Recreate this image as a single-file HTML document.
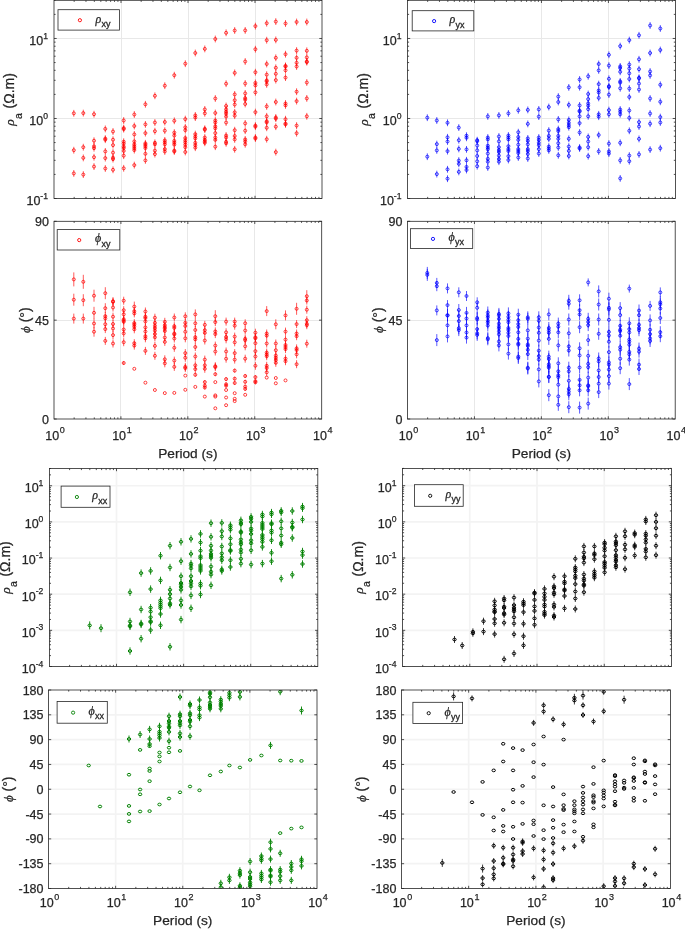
<!DOCTYPE html>
<html><head><meta charset="utf-8"><style>html,body{margin:0;padding:0;background:#fff;}svg{display:block;will-change:transform}text{font-family:"Liberation Sans",sans-serif;stroke:#262626;stroke-width:0.25px}</style></head>
<body><svg width="685" height="929" viewBox="0 0 685 929" style="font-family:Liberation Sans,sans-serif">
<defs><clipPath id="cTLr"><rect x="54" y="0.3" width="268" height="198.2"/></clipPath><clipPath id="cTLp"><rect x="54" y="221.3" width="267.7" height="197.7"/></clipPath><clipPath id="cTRr"><rect x="407.5" y="0.3" width="267.9" height="198.2"/></clipPath><clipPath id="cTRp"><rect x="407.5" y="221.3" width="267.70000000000005" height="197.7"/></clipPath><clipPath id="cBLr"><rect x="49.4" y="468.5" width="268.40000000000003" height="198.0"/></clipPath><clipPath id="cBLp"><rect x="48.5" y="690" width="268.5" height="198.5"/></clipPath><clipPath id="cBRr"><rect x="402.5" y="468.4" width="269.0" height="198.10000000000002"/></clipPath><clipPath id="cBRp"><rect x="401.4" y="690" width="269.0" height="198.5"/></clipPath></defs>
<rect width="685" height="929" fill="#fff"/>
<line x1="121.50" y1="0.30" x2="121.50" y2="198.50" stroke="#e8e8e8" stroke-width="1"/>
<line x1="188.50" y1="0.30" x2="188.50" y2="198.50" stroke="#e8e8e8" stroke-width="1"/>
<line x1="255.50" y1="0.30" x2="255.50" y2="198.50" stroke="#e8e8e8" stroke-width="1"/>
<line x1="54.00" y1="118.50" x2="322.00" y2="118.50" stroke="#e8e8e8" stroke-width="1"/>
<line x1="54.00" y1="38.50" x2="322.00" y2="38.50" stroke="#e8e8e8" stroke-width="1"/>
<line x1="120.50" y1="221.30" x2="120.50" y2="419.00" stroke="#e8e8e8" stroke-width="1"/>
<line x1="187.50" y1="221.30" x2="187.50" y2="419.00" stroke="#e8e8e8" stroke-width="1"/>
<line x1="254.50" y1="221.30" x2="254.50" y2="419.00" stroke="#e8e8e8" stroke-width="1"/>
<line x1="54.00" y1="320.50" x2="321.70" y2="320.50" stroke="#e8e8e8" stroke-width="1"/>
<line x1="474.50" y1="0.30" x2="474.50" y2="198.50" stroke="#e8e8e8" stroke-width="1"/>
<line x1="541.50" y1="0.30" x2="541.50" y2="198.50" stroke="#e8e8e8" stroke-width="1"/>
<line x1="608.50" y1="0.30" x2="608.50" y2="198.50" stroke="#e8e8e8" stroke-width="1"/>
<line x1="407.50" y1="118.50" x2="675.40" y2="118.50" stroke="#e8e8e8" stroke-width="1"/>
<line x1="407.50" y1="38.50" x2="675.40" y2="38.50" stroke="#e8e8e8" stroke-width="1"/>
<line x1="474.50" y1="221.30" x2="474.50" y2="419.00" stroke="#e8e8e8" stroke-width="1"/>
<line x1="541.50" y1="221.30" x2="541.50" y2="419.00" stroke="#e8e8e8" stroke-width="1"/>
<line x1="608.50" y1="221.30" x2="608.50" y2="419.00" stroke="#e8e8e8" stroke-width="1"/>
<line x1="407.50" y1="320.50" x2="675.20" y2="320.50" stroke="#e8e8e8" stroke-width="1"/>
<line x1="116.50" y1="468.50" x2="116.50" y2="666.50" stroke="#f3f3f3" stroke-width="1.7"/>
<line x1="183.60" y1="468.50" x2="183.60" y2="666.50" stroke="#f3f3f3" stroke-width="1.7"/>
<line x1="250.70" y1="468.50" x2="250.70" y2="666.50" stroke="#f3f3f3" stroke-width="1.7"/>
<line x1="49.40" y1="630.35" x2="317.80" y2="630.35" stroke="#f3f3f3" stroke-width="1.7"/>
<line x1="49.40" y1="594.20" x2="317.80" y2="594.20" stroke="#f3f3f3" stroke-width="1.7"/>
<line x1="49.40" y1="558.05" x2="317.80" y2="558.05" stroke="#f3f3f3" stroke-width="1.7"/>
<line x1="49.40" y1="521.90" x2="317.80" y2="521.90" stroke="#f3f3f3" stroke-width="1.7"/>
<line x1="49.40" y1="485.75" x2="317.80" y2="485.75" stroke="#f3f3f3" stroke-width="1.7"/>
<line x1="115.62" y1="690.00" x2="115.62" y2="888.50" stroke="#f3f3f3" stroke-width="1.7"/>
<line x1="182.75" y1="690.00" x2="182.75" y2="888.50" stroke="#f3f3f3" stroke-width="1.7"/>
<line x1="249.88" y1="690.00" x2="249.88" y2="888.50" stroke="#f3f3f3" stroke-width="1.7"/>
<line x1="48.50" y1="863.69" x2="317.00" y2="863.69" stroke="#f3f3f3" stroke-width="1.7"/>
<line x1="48.50" y1="838.88" x2="317.00" y2="838.88" stroke="#f3f3f3" stroke-width="1.7"/>
<line x1="48.50" y1="814.06" x2="317.00" y2="814.06" stroke="#f3f3f3" stroke-width="1.7"/>
<line x1="48.50" y1="789.25" x2="317.00" y2="789.25" stroke="#f3f3f3" stroke-width="1.7"/>
<line x1="48.50" y1="764.44" x2="317.00" y2="764.44" stroke="#f3f3f3" stroke-width="1.7"/>
<line x1="48.50" y1="739.62" x2="317.00" y2="739.62" stroke="#f3f3f3" stroke-width="1.7"/>
<line x1="48.50" y1="714.81" x2="317.00" y2="714.81" stroke="#f3f3f3" stroke-width="1.7"/>
<line x1="469.75" y1="468.40" x2="469.75" y2="666.50" stroke="#f3f3f3" stroke-width="1.7"/>
<line x1="537.00" y1="468.40" x2="537.00" y2="666.50" stroke="#f3f3f3" stroke-width="1.7"/>
<line x1="604.25" y1="468.40" x2="604.25" y2="666.50" stroke="#f3f3f3" stroke-width="1.7"/>
<line x1="402.50" y1="630.33" x2="671.50" y2="630.33" stroke="#f3f3f3" stroke-width="1.7"/>
<line x1="402.50" y1="594.16" x2="671.50" y2="594.16" stroke="#f3f3f3" stroke-width="1.7"/>
<line x1="402.50" y1="557.99" x2="671.50" y2="557.99" stroke="#f3f3f3" stroke-width="1.7"/>
<line x1="402.50" y1="521.83" x2="671.50" y2="521.83" stroke="#f3f3f3" stroke-width="1.7"/>
<line x1="402.50" y1="485.66" x2="671.50" y2="485.66" stroke="#f3f3f3" stroke-width="1.7"/>
<line x1="468.65" y1="690.00" x2="468.65" y2="888.50" stroke="#f3f3f3" stroke-width="1.7"/>
<line x1="535.90" y1="690.00" x2="535.90" y2="888.50" stroke="#f3f3f3" stroke-width="1.7"/>
<line x1="603.15" y1="690.00" x2="603.15" y2="888.50" stroke="#f3f3f3" stroke-width="1.7"/>
<line x1="401.40" y1="863.69" x2="670.40" y2="863.69" stroke="#f3f3f3" stroke-width="1.7"/>
<line x1="401.40" y1="838.88" x2="670.40" y2="838.88" stroke="#f3f3f3" stroke-width="1.7"/>
<line x1="401.40" y1="814.06" x2="670.40" y2="814.06" stroke="#f3f3f3" stroke-width="1.7"/>
<line x1="401.40" y1="789.25" x2="670.40" y2="789.25" stroke="#f3f3f3" stroke-width="1.7"/>
<line x1="401.40" y1="764.44" x2="670.40" y2="764.44" stroke="#f3f3f3" stroke-width="1.7"/>
<line x1="401.40" y1="739.62" x2="670.40" y2="739.62" stroke="#f3f3f3" stroke-width="1.7"/>
<line x1="401.40" y1="714.81" x2="670.40" y2="714.81" stroke="#f3f3f3" stroke-width="1.7"/>
<g clip-path="url(#cTLr)"><path d="M73.8 109.9V116.7M73.8 146.8V153.6M73.8 170.0V176.8M83.3 109.7V116.5M83.3 143.8V150.6M83.3 154.5V161.3M83.3 171.2V178.0M94.0 110.8V117.6M94.0 137.3V144.1M94.0 142.9V149.7M94.0 144.8V151.6M94.0 153.8V160.6M94.0 163.2V170.0M105.3 125.5V132.3M105.3 135.2V142.0M105.3 136.3V143.1M105.3 148.0V154.8M105.3 154.7V161.5M105.3 165.1V171.9M113.0 128.1V134.9M113.0 136.3V143.1M113.0 141.7V148.5M113.0 149.2V156.0M113.0 154.3V161.1M113.0 155.7V162.5M113.0 166.4V173.2M123.7 117.1V123.9M123.7 124.7V131.5M123.7 125.7V132.5M123.7 138.3V145.1M123.7 140.2V147.0M123.7 143.1V149.9M123.7 144.6V151.4M123.7 147.5V154.3M123.7 152.3V159.1M123.7 164.9V171.7M134.3 111.1V117.9M134.3 122.6V129.4M134.3 131.0V137.8M134.3 138.0V144.8M134.3 140.9V147.7M134.3 142.8V149.6M134.3 144.7V151.5M134.3 146.7V153.5M134.3 161.7V168.5M145.4 100.9V107.7M145.4 121.0V127.8M145.4 129.7V136.5M145.4 139.9V146.7M145.4 141.3V148.1M145.4 142.8V149.6M145.4 144.7V151.5M145.4 150.4V157.2M145.4 157.0V163.8M154.9 92.4V99.2M154.9 119.1V125.9M154.9 127.8V134.6M154.9 139.4V146.2M154.9 140.9V147.7M154.9 147.2V154.0M154.9 150.7V157.5M164.8 82.3V89.1M164.8 118.6V125.4M164.8 127.3V134.1M164.8 137.0V143.8M164.8 138.9V145.7M164.8 140.9V147.7M164.8 145.7V152.5M164.8 148.1V154.9M174.3 71.8V78.6M174.3 117.4V124.2M174.3 129.2V136.0M174.3 132.1V138.9M174.3 137.5V144.3M174.3 139.4V146.2M174.3 141.3V148.1M174.3 147.2V154.0M174.3 148.1V154.9M185.3 60.3V67.1M185.3 115.7V122.5M185.3 123.9V130.7M185.3 126.8V133.6M185.3 134.6V141.4M185.3 137.0V143.8M185.3 138.9V145.7M185.3 141.3V148.1M185.3 143.8V150.6M185.3 148.6V155.4M195.3 49.6V56.4M195.3 112.0V118.8M195.3 114.2V121.0M195.3 130.7V137.5M195.3 133.1V139.9M195.3 135.0V141.8M195.3 139.4V146.2M195.3 141.8V148.6M195.3 144.3V151.1M204.8 45.5V52.3M204.8 106.0V112.8M204.8 109.9V116.7M204.8 125.4V132.2M204.8 126.3V133.1M204.8 134.1V140.9M204.8 136.5V143.3M204.8 138.0V144.8M204.8 139.4V146.2M215.3 35.6V42.4M215.3 95.1V101.9M215.3 109.6V116.4M215.3 117.1V123.9M215.3 119.1V125.9M215.3 122.9V129.7M215.3 124.9V131.7M215.3 129.7V136.5M215.3 134.1V140.9M215.3 136.5V143.3M215.3 143.3V150.1M226.1 29.4V36.2M226.1 80.3V87.1M226.1 102.6V109.4M226.1 106.0V112.8M226.1 108.4V115.2M226.1 110.3V117.1M226.1 113.2V120.0M226.1 119.1V125.9M226.1 132.1V138.9M226.1 134.1V140.9M226.1 138.4V145.2M226.1 139.9V146.7M234.7 27.1V33.9M234.7 69.5V76.3M234.7 91.0V97.8M234.7 96.8V103.6M234.7 101.1V107.9M234.7 108.9V115.7M234.7 112.3V119.1M234.7 126.8V133.6M234.7 132.6V139.4M234.7 136.0V142.8M234.7 145.9V152.7M245.2 27.0V33.8M245.2 58.1V64.9M245.2 80.1V86.9M245.2 90.0V96.8M245.2 94.8V101.6M245.2 96.3V103.1M245.2 100.6V107.4M245.2 120.0V126.8M245.2 127.3V134.1M245.2 136.0V142.8M245.2 138.0V144.8M245.2 140.9V147.7M255.4 22.7V29.5M255.4 45.8V52.6M255.4 68.8V75.6M255.4 79.5V86.3M255.4 82.0V88.8M255.4 88.9V95.7M255.4 108.7V115.5M255.4 122.2V129.0M255.4 123.3V130.1M255.4 134.1V140.9M255.4 135.2V142.0M266.7 19.8V26.6M266.7 36.8V43.6M266.7 60.6V67.4M266.7 71.3V78.1M266.7 77.0V83.8M266.7 78.0V84.8M266.7 81.0V87.8M266.7 103.0V109.8M266.7 112.9V119.7M266.7 117.9V124.7M266.7 119.0V125.8M266.7 124.4V131.2M266.7 135.8V142.6M275.8 18.2V25.0M275.8 36.5V43.3M275.8 54.4V61.2M275.8 64.4V71.2M275.8 70.4V77.2M275.8 76.7V83.5M275.8 98.6V105.4M275.8 114.1V120.9M275.8 115.2V122.0M275.8 123.3V130.1M275.8 148.7V155.5M285.5 20.1V26.9M285.5 50.8V57.6M285.5 62.5V69.3M285.5 63.1V69.9M285.5 66.9V73.7M285.5 74.2V81.0M285.5 100.1V106.9M285.5 102.0V108.8M285.5 115.8V122.6M285.5 120.1V126.9M285.5 121.0V127.8M296.6 18.6V25.4M296.6 47.2V54.0M296.6 54.4V61.2M296.6 59.4V66.2M296.6 63.1V69.9M296.6 88.3V95.1M296.6 97.7V104.5M296.6 122.2V129.0M296.6 129.8V136.6M306.8 18.6V25.4M306.8 47.4V54.2M306.8 54.0V60.8M306.8 58.1V64.9M306.8 58.7V65.5M306.8 79.1V85.9M306.8 95.0V101.8M306.8 112.9V119.7" stroke="#ff0000" stroke-width="0.65" stroke-opacity="1" fill="none"/><path d="M72.30 113.3a1.5 1.5 0 1 0 3.0 0a1.5 1.5 0 1 0 -3.0 0M72.30 150.2a1.5 1.5 0 1 0 3.0 0a1.5 1.5 0 1 0 -3.0 0M72.30 173.4a1.5 1.5 0 1 0 3.0 0a1.5 1.5 0 1 0 -3.0 0M81.80 113.1a1.5 1.5 0 1 0 3.0 0a1.5 1.5 0 1 0 -3.0 0M81.80 147.2a1.5 1.5 0 1 0 3.0 0a1.5 1.5 0 1 0 -3.0 0M81.80 157.9a1.5 1.5 0 1 0 3.0 0a1.5 1.5 0 1 0 -3.0 0M81.80 174.6a1.5 1.5 0 1 0 3.0 0a1.5 1.5 0 1 0 -3.0 0M92.50 114.2a1.5 1.5 0 1 0 3.0 0a1.5 1.5 0 1 0 -3.0 0M92.50 140.7a1.5 1.5 0 1 0 3.0 0a1.5 1.5 0 1 0 -3.0 0M92.50 146.3a1.5 1.5 0 1 0 3.0 0a1.5 1.5 0 1 0 -3.0 0M92.50 148.2a1.5 1.5 0 1 0 3.0 0a1.5 1.5 0 1 0 -3.0 0M92.50 157.2a1.5 1.5 0 1 0 3.0 0a1.5 1.5 0 1 0 -3.0 0M92.50 166.6a1.5 1.5 0 1 0 3.0 0a1.5 1.5 0 1 0 -3.0 0M103.80 128.9a1.5 1.5 0 1 0 3.0 0a1.5 1.5 0 1 0 -3.0 0M103.80 138.6a1.5 1.5 0 1 0 3.0 0a1.5 1.5 0 1 0 -3.0 0M103.80 139.7a1.5 1.5 0 1 0 3.0 0a1.5 1.5 0 1 0 -3.0 0M103.80 151.4a1.5 1.5 0 1 0 3.0 0a1.5 1.5 0 1 0 -3.0 0M103.80 158.1a1.5 1.5 0 1 0 3.0 0a1.5 1.5 0 1 0 -3.0 0M103.80 168.5a1.5 1.5 0 1 0 3.0 0a1.5 1.5 0 1 0 -3.0 0M111.50 131.5a1.5 1.5 0 1 0 3.0 0a1.5 1.5 0 1 0 -3.0 0M111.50 139.7a1.5 1.5 0 1 0 3.0 0a1.5 1.5 0 1 0 -3.0 0M111.50 145.1a1.5 1.5 0 1 0 3.0 0a1.5 1.5 0 1 0 -3.0 0M111.50 152.6a1.5 1.5 0 1 0 3.0 0a1.5 1.5 0 1 0 -3.0 0M111.50 157.7a1.5 1.5 0 1 0 3.0 0a1.5 1.5 0 1 0 -3.0 0M111.50 159.1a1.5 1.5 0 1 0 3.0 0a1.5 1.5 0 1 0 -3.0 0M111.50 169.8a1.5 1.5 0 1 0 3.0 0a1.5 1.5 0 1 0 -3.0 0M122.20 120.5a1.5 1.5 0 1 0 3.0 0a1.5 1.5 0 1 0 -3.0 0M122.20 128.1a1.5 1.5 0 1 0 3.0 0a1.5 1.5 0 1 0 -3.0 0M122.20 129.1a1.5 1.5 0 1 0 3.0 0a1.5 1.5 0 1 0 -3.0 0M122.20 141.7a1.5 1.5 0 1 0 3.0 0a1.5 1.5 0 1 0 -3.0 0M122.20 143.6a1.5 1.5 0 1 0 3.0 0a1.5 1.5 0 1 0 -3.0 0M122.20 146.5a1.5 1.5 0 1 0 3.0 0a1.5 1.5 0 1 0 -3.0 0M122.20 148.0a1.5 1.5 0 1 0 3.0 0a1.5 1.5 0 1 0 -3.0 0M122.20 150.9a1.5 1.5 0 1 0 3.0 0a1.5 1.5 0 1 0 -3.0 0M122.20 155.7a1.5 1.5 0 1 0 3.0 0a1.5 1.5 0 1 0 -3.0 0M122.20 168.3a1.5 1.5 0 1 0 3.0 0a1.5 1.5 0 1 0 -3.0 0M132.80 114.5a1.5 1.5 0 1 0 3.0 0a1.5 1.5 0 1 0 -3.0 0M132.80 126.0a1.5 1.5 0 1 0 3.0 0a1.5 1.5 0 1 0 -3.0 0M132.80 134.4a1.5 1.5 0 1 0 3.0 0a1.5 1.5 0 1 0 -3.0 0M132.80 141.4a1.5 1.5 0 1 0 3.0 0a1.5 1.5 0 1 0 -3.0 0M132.80 144.3a1.5 1.5 0 1 0 3.0 0a1.5 1.5 0 1 0 -3.0 0M132.80 146.2a1.5 1.5 0 1 0 3.0 0a1.5 1.5 0 1 0 -3.0 0M132.80 148.1a1.5 1.5 0 1 0 3.0 0a1.5 1.5 0 1 0 -3.0 0M132.80 150.1a1.5 1.5 0 1 0 3.0 0a1.5 1.5 0 1 0 -3.0 0M132.80 165.1a1.5 1.5 0 1 0 3.0 0a1.5 1.5 0 1 0 -3.0 0M143.90 104.3a1.5 1.5 0 1 0 3.0 0a1.5 1.5 0 1 0 -3.0 0M143.90 124.4a1.5 1.5 0 1 0 3.0 0a1.5 1.5 0 1 0 -3.0 0M143.90 133.1a1.5 1.5 0 1 0 3.0 0a1.5 1.5 0 1 0 -3.0 0M143.90 143.3a1.5 1.5 0 1 0 3.0 0a1.5 1.5 0 1 0 -3.0 0M143.90 144.7a1.5 1.5 0 1 0 3.0 0a1.5 1.5 0 1 0 -3.0 0M143.90 146.2a1.5 1.5 0 1 0 3.0 0a1.5 1.5 0 1 0 -3.0 0M143.90 148.1a1.5 1.5 0 1 0 3.0 0a1.5 1.5 0 1 0 -3.0 0M143.90 153.8a1.5 1.5 0 1 0 3.0 0a1.5 1.5 0 1 0 -3.0 0M143.90 160.4a1.5 1.5 0 1 0 3.0 0a1.5 1.5 0 1 0 -3.0 0M153.40 95.8a1.5 1.5 0 1 0 3.0 0a1.5 1.5 0 1 0 -3.0 0M153.40 122.5a1.5 1.5 0 1 0 3.0 0a1.5 1.5 0 1 0 -3.0 0M153.40 131.2a1.5 1.5 0 1 0 3.0 0a1.5 1.5 0 1 0 -3.0 0M153.40 142.8a1.5 1.5 0 1 0 3.0 0a1.5 1.5 0 1 0 -3.0 0M153.40 144.3a1.5 1.5 0 1 0 3.0 0a1.5 1.5 0 1 0 -3.0 0M153.40 150.6a1.5 1.5 0 1 0 3.0 0a1.5 1.5 0 1 0 -3.0 0M153.40 154.1a1.5 1.5 0 1 0 3.0 0a1.5 1.5 0 1 0 -3.0 0M163.30 85.7a1.5 1.5 0 1 0 3.0 0a1.5 1.5 0 1 0 -3.0 0M163.30 122.0a1.5 1.5 0 1 0 3.0 0a1.5 1.5 0 1 0 -3.0 0M163.30 130.7a1.5 1.5 0 1 0 3.0 0a1.5 1.5 0 1 0 -3.0 0M163.30 140.4a1.5 1.5 0 1 0 3.0 0a1.5 1.5 0 1 0 -3.0 0M163.30 142.3a1.5 1.5 0 1 0 3.0 0a1.5 1.5 0 1 0 -3.0 0M163.30 144.3a1.5 1.5 0 1 0 3.0 0a1.5 1.5 0 1 0 -3.0 0M163.30 149.1a1.5 1.5 0 1 0 3.0 0a1.5 1.5 0 1 0 -3.0 0M163.30 151.5a1.5 1.5 0 1 0 3.0 0a1.5 1.5 0 1 0 -3.0 0M172.80 75.2a1.5 1.5 0 1 0 3.0 0a1.5 1.5 0 1 0 -3.0 0M172.80 120.8a1.5 1.5 0 1 0 3.0 0a1.5 1.5 0 1 0 -3.0 0M172.80 132.6a1.5 1.5 0 1 0 3.0 0a1.5 1.5 0 1 0 -3.0 0M172.80 135.5a1.5 1.5 0 1 0 3.0 0a1.5 1.5 0 1 0 -3.0 0M172.80 140.9a1.5 1.5 0 1 0 3.0 0a1.5 1.5 0 1 0 -3.0 0M172.80 142.8a1.5 1.5 0 1 0 3.0 0a1.5 1.5 0 1 0 -3.0 0M172.80 144.7a1.5 1.5 0 1 0 3.0 0a1.5 1.5 0 1 0 -3.0 0M172.80 150.6a1.5 1.5 0 1 0 3.0 0a1.5 1.5 0 1 0 -3.0 0M172.80 151.5a1.5 1.5 0 1 0 3.0 0a1.5 1.5 0 1 0 -3.0 0M183.80 63.7a1.5 1.5 0 1 0 3.0 0a1.5 1.5 0 1 0 -3.0 0M183.80 119.1a1.5 1.5 0 1 0 3.0 0a1.5 1.5 0 1 0 -3.0 0M183.80 127.3a1.5 1.5 0 1 0 3.0 0a1.5 1.5 0 1 0 -3.0 0M183.80 130.2a1.5 1.5 0 1 0 3.0 0a1.5 1.5 0 1 0 -3.0 0M183.80 138.0a1.5 1.5 0 1 0 3.0 0a1.5 1.5 0 1 0 -3.0 0M183.80 140.4a1.5 1.5 0 1 0 3.0 0a1.5 1.5 0 1 0 -3.0 0M183.80 142.3a1.5 1.5 0 1 0 3.0 0a1.5 1.5 0 1 0 -3.0 0M183.80 144.7a1.5 1.5 0 1 0 3.0 0a1.5 1.5 0 1 0 -3.0 0M183.80 147.2a1.5 1.5 0 1 0 3.0 0a1.5 1.5 0 1 0 -3.0 0M183.80 152.0a1.5 1.5 0 1 0 3.0 0a1.5 1.5 0 1 0 -3.0 0M193.80 53.0a1.5 1.5 0 1 0 3.0 0a1.5 1.5 0 1 0 -3.0 0M193.80 115.4a1.5 1.5 0 1 0 3.0 0a1.5 1.5 0 1 0 -3.0 0M193.80 117.6a1.5 1.5 0 1 0 3.0 0a1.5 1.5 0 1 0 -3.0 0M193.80 134.1a1.5 1.5 0 1 0 3.0 0a1.5 1.5 0 1 0 -3.0 0M193.80 136.5a1.5 1.5 0 1 0 3.0 0a1.5 1.5 0 1 0 -3.0 0M193.80 138.4a1.5 1.5 0 1 0 3.0 0a1.5 1.5 0 1 0 -3.0 0M193.80 142.8a1.5 1.5 0 1 0 3.0 0a1.5 1.5 0 1 0 -3.0 0M193.80 145.2a1.5 1.5 0 1 0 3.0 0a1.5 1.5 0 1 0 -3.0 0M193.80 147.7a1.5 1.5 0 1 0 3.0 0a1.5 1.5 0 1 0 -3.0 0M203.30 48.9a1.5 1.5 0 1 0 3.0 0a1.5 1.5 0 1 0 -3.0 0M203.30 109.4a1.5 1.5 0 1 0 3.0 0a1.5 1.5 0 1 0 -3.0 0M203.30 113.3a1.5 1.5 0 1 0 3.0 0a1.5 1.5 0 1 0 -3.0 0M203.30 128.8a1.5 1.5 0 1 0 3.0 0a1.5 1.5 0 1 0 -3.0 0M203.30 129.7a1.5 1.5 0 1 0 3.0 0a1.5 1.5 0 1 0 -3.0 0M203.30 137.5a1.5 1.5 0 1 0 3.0 0a1.5 1.5 0 1 0 -3.0 0M203.30 139.9a1.5 1.5 0 1 0 3.0 0a1.5 1.5 0 1 0 -3.0 0M203.30 141.4a1.5 1.5 0 1 0 3.0 0a1.5 1.5 0 1 0 -3.0 0M203.30 142.8a1.5 1.5 0 1 0 3.0 0a1.5 1.5 0 1 0 -3.0 0M213.80 39.0a1.5 1.5 0 1 0 3.0 0a1.5 1.5 0 1 0 -3.0 0M213.80 98.5a1.5 1.5 0 1 0 3.0 0a1.5 1.5 0 1 0 -3.0 0M213.80 113.0a1.5 1.5 0 1 0 3.0 0a1.5 1.5 0 1 0 -3.0 0M213.80 120.5a1.5 1.5 0 1 0 3.0 0a1.5 1.5 0 1 0 -3.0 0M213.80 122.5a1.5 1.5 0 1 0 3.0 0a1.5 1.5 0 1 0 -3.0 0M213.80 126.3a1.5 1.5 0 1 0 3.0 0a1.5 1.5 0 1 0 -3.0 0M213.80 128.3a1.5 1.5 0 1 0 3.0 0a1.5 1.5 0 1 0 -3.0 0M213.80 133.1a1.5 1.5 0 1 0 3.0 0a1.5 1.5 0 1 0 -3.0 0M213.80 137.5a1.5 1.5 0 1 0 3.0 0a1.5 1.5 0 1 0 -3.0 0M213.80 139.9a1.5 1.5 0 1 0 3.0 0a1.5 1.5 0 1 0 -3.0 0M213.80 146.7a1.5 1.5 0 1 0 3.0 0a1.5 1.5 0 1 0 -3.0 0M224.60 32.8a1.5 1.5 0 1 0 3.0 0a1.5 1.5 0 1 0 -3.0 0M224.60 83.7a1.5 1.5 0 1 0 3.0 0a1.5 1.5 0 1 0 -3.0 0M224.60 106.0a1.5 1.5 0 1 0 3.0 0a1.5 1.5 0 1 0 -3.0 0M224.60 109.4a1.5 1.5 0 1 0 3.0 0a1.5 1.5 0 1 0 -3.0 0M224.60 111.8a1.5 1.5 0 1 0 3.0 0a1.5 1.5 0 1 0 -3.0 0M224.60 113.7a1.5 1.5 0 1 0 3.0 0a1.5 1.5 0 1 0 -3.0 0M224.60 116.6a1.5 1.5 0 1 0 3.0 0a1.5 1.5 0 1 0 -3.0 0M224.60 122.5a1.5 1.5 0 1 0 3.0 0a1.5 1.5 0 1 0 -3.0 0M224.60 135.5a1.5 1.5 0 1 0 3.0 0a1.5 1.5 0 1 0 -3.0 0M224.60 137.5a1.5 1.5 0 1 0 3.0 0a1.5 1.5 0 1 0 -3.0 0M224.60 141.8a1.5 1.5 0 1 0 3.0 0a1.5 1.5 0 1 0 -3.0 0M224.60 143.3a1.5 1.5 0 1 0 3.0 0a1.5 1.5 0 1 0 -3.0 0M233.20 30.5a1.5 1.5 0 1 0 3.0 0a1.5 1.5 0 1 0 -3.0 0M233.20 72.9a1.5 1.5 0 1 0 3.0 0a1.5 1.5 0 1 0 -3.0 0M233.20 94.4a1.5 1.5 0 1 0 3.0 0a1.5 1.5 0 1 0 -3.0 0M233.20 100.2a1.5 1.5 0 1 0 3.0 0a1.5 1.5 0 1 0 -3.0 0M233.20 104.5a1.5 1.5 0 1 0 3.0 0a1.5 1.5 0 1 0 -3.0 0M233.20 112.3a1.5 1.5 0 1 0 3.0 0a1.5 1.5 0 1 0 -3.0 0M233.20 115.7a1.5 1.5 0 1 0 3.0 0a1.5 1.5 0 1 0 -3.0 0M233.20 130.2a1.5 1.5 0 1 0 3.0 0a1.5 1.5 0 1 0 -3.0 0M233.20 136.0a1.5 1.5 0 1 0 3.0 0a1.5 1.5 0 1 0 -3.0 0M233.20 139.4a1.5 1.5 0 1 0 3.0 0a1.5 1.5 0 1 0 -3.0 0M233.20 149.3a1.5 1.5 0 1 0 3.0 0a1.5 1.5 0 1 0 -3.0 0M243.70 30.4a1.5 1.5 0 1 0 3.0 0a1.5 1.5 0 1 0 -3.0 0M243.70 61.5a1.5 1.5 0 1 0 3.0 0a1.5 1.5 0 1 0 -3.0 0M243.70 83.5a1.5 1.5 0 1 0 3.0 0a1.5 1.5 0 1 0 -3.0 0M243.70 93.4a1.5 1.5 0 1 0 3.0 0a1.5 1.5 0 1 0 -3.0 0M243.70 98.2a1.5 1.5 0 1 0 3.0 0a1.5 1.5 0 1 0 -3.0 0M243.70 99.7a1.5 1.5 0 1 0 3.0 0a1.5 1.5 0 1 0 -3.0 0M243.70 104.0a1.5 1.5 0 1 0 3.0 0a1.5 1.5 0 1 0 -3.0 0M243.70 123.4a1.5 1.5 0 1 0 3.0 0a1.5 1.5 0 1 0 -3.0 0M243.70 130.7a1.5 1.5 0 1 0 3.0 0a1.5 1.5 0 1 0 -3.0 0M243.70 139.4a1.5 1.5 0 1 0 3.0 0a1.5 1.5 0 1 0 -3.0 0M243.70 141.4a1.5 1.5 0 1 0 3.0 0a1.5 1.5 0 1 0 -3.0 0M243.70 144.3a1.5 1.5 0 1 0 3.0 0a1.5 1.5 0 1 0 -3.0 0M253.90 26.1a1.5 1.5 0 1 0 3.0 0a1.5 1.5 0 1 0 -3.0 0M253.90 49.2a1.5 1.5 0 1 0 3.0 0a1.5 1.5 0 1 0 -3.0 0M253.90 72.2a1.5 1.5 0 1 0 3.0 0a1.5 1.5 0 1 0 -3.0 0M253.90 82.9a1.5 1.5 0 1 0 3.0 0a1.5 1.5 0 1 0 -3.0 0M253.90 85.4a1.5 1.5 0 1 0 3.0 0a1.5 1.5 0 1 0 -3.0 0M253.90 92.3a1.5 1.5 0 1 0 3.0 0a1.5 1.5 0 1 0 -3.0 0M253.90 112.1a1.5 1.5 0 1 0 3.0 0a1.5 1.5 0 1 0 -3.0 0M253.90 125.6a1.5 1.5 0 1 0 3.0 0a1.5 1.5 0 1 0 -3.0 0M253.90 126.7a1.5 1.5 0 1 0 3.0 0a1.5 1.5 0 1 0 -3.0 0M253.90 137.5a1.5 1.5 0 1 0 3.0 0a1.5 1.5 0 1 0 -3.0 0M253.90 138.6a1.5 1.5 0 1 0 3.0 0a1.5 1.5 0 1 0 -3.0 0M265.20 23.2a1.5 1.5 0 1 0 3.0 0a1.5 1.5 0 1 0 -3.0 0M265.20 40.2a1.5 1.5 0 1 0 3.0 0a1.5 1.5 0 1 0 -3.0 0M265.20 64.0a1.5 1.5 0 1 0 3.0 0a1.5 1.5 0 1 0 -3.0 0M265.20 74.7a1.5 1.5 0 1 0 3.0 0a1.5 1.5 0 1 0 -3.0 0M265.20 80.4a1.5 1.5 0 1 0 3.0 0a1.5 1.5 0 1 0 -3.0 0M265.20 81.4a1.5 1.5 0 1 0 3.0 0a1.5 1.5 0 1 0 -3.0 0M265.20 84.4a1.5 1.5 0 1 0 3.0 0a1.5 1.5 0 1 0 -3.0 0M265.20 106.4a1.5 1.5 0 1 0 3.0 0a1.5 1.5 0 1 0 -3.0 0M265.20 116.3a1.5 1.5 0 1 0 3.0 0a1.5 1.5 0 1 0 -3.0 0M265.20 121.3a1.5 1.5 0 1 0 3.0 0a1.5 1.5 0 1 0 -3.0 0M265.20 122.4a1.5 1.5 0 1 0 3.0 0a1.5 1.5 0 1 0 -3.0 0M265.20 127.8a1.5 1.5 0 1 0 3.0 0a1.5 1.5 0 1 0 -3.0 0M265.20 139.2a1.5 1.5 0 1 0 3.0 0a1.5 1.5 0 1 0 -3.0 0M274.30 21.6a1.5 1.5 0 1 0 3.0 0a1.5 1.5 0 1 0 -3.0 0M274.30 39.9a1.5 1.5 0 1 0 3.0 0a1.5 1.5 0 1 0 -3.0 0M274.30 57.8a1.5 1.5 0 1 0 3.0 0a1.5 1.5 0 1 0 -3.0 0M274.30 67.8a1.5 1.5 0 1 0 3.0 0a1.5 1.5 0 1 0 -3.0 0M274.30 73.8a1.5 1.5 0 1 0 3.0 0a1.5 1.5 0 1 0 -3.0 0M274.30 80.1a1.5 1.5 0 1 0 3.0 0a1.5 1.5 0 1 0 -3.0 0M274.30 102.0a1.5 1.5 0 1 0 3.0 0a1.5 1.5 0 1 0 -3.0 0M274.30 117.5a1.5 1.5 0 1 0 3.0 0a1.5 1.5 0 1 0 -3.0 0M274.30 118.6a1.5 1.5 0 1 0 3.0 0a1.5 1.5 0 1 0 -3.0 0M274.30 126.7a1.5 1.5 0 1 0 3.0 0a1.5 1.5 0 1 0 -3.0 0M274.30 152.1a1.5 1.5 0 1 0 3.0 0a1.5 1.5 0 1 0 -3.0 0M284.00 23.5a1.5 1.5 0 1 0 3.0 0a1.5 1.5 0 1 0 -3.0 0M284.00 54.2a1.5 1.5 0 1 0 3.0 0a1.5 1.5 0 1 0 -3.0 0M284.00 65.9a1.5 1.5 0 1 0 3.0 0a1.5 1.5 0 1 0 -3.0 0M284.00 66.5a1.5 1.5 0 1 0 3.0 0a1.5 1.5 0 1 0 -3.0 0M284.00 70.3a1.5 1.5 0 1 0 3.0 0a1.5 1.5 0 1 0 -3.0 0M284.00 77.6a1.5 1.5 0 1 0 3.0 0a1.5 1.5 0 1 0 -3.0 0M284.00 103.5a1.5 1.5 0 1 0 3.0 0a1.5 1.5 0 1 0 -3.0 0M284.00 105.4a1.5 1.5 0 1 0 3.0 0a1.5 1.5 0 1 0 -3.0 0M284.00 119.2a1.5 1.5 0 1 0 3.0 0a1.5 1.5 0 1 0 -3.0 0M284.00 123.5a1.5 1.5 0 1 0 3.0 0a1.5 1.5 0 1 0 -3.0 0M284.00 124.4a1.5 1.5 0 1 0 3.0 0a1.5 1.5 0 1 0 -3.0 0M295.10 22.0a1.5 1.5 0 1 0 3.0 0a1.5 1.5 0 1 0 -3.0 0M295.10 50.6a1.5 1.5 0 1 0 3.0 0a1.5 1.5 0 1 0 -3.0 0M295.10 57.8a1.5 1.5 0 1 0 3.0 0a1.5 1.5 0 1 0 -3.0 0M295.10 62.8a1.5 1.5 0 1 0 3.0 0a1.5 1.5 0 1 0 -3.0 0M295.10 66.5a1.5 1.5 0 1 0 3.0 0a1.5 1.5 0 1 0 -3.0 0M295.10 91.7a1.5 1.5 0 1 0 3.0 0a1.5 1.5 0 1 0 -3.0 0M295.10 101.1a1.5 1.5 0 1 0 3.0 0a1.5 1.5 0 1 0 -3.0 0M295.10 125.6a1.5 1.5 0 1 0 3.0 0a1.5 1.5 0 1 0 -3.0 0M295.10 133.2a1.5 1.5 0 1 0 3.0 0a1.5 1.5 0 1 0 -3.0 0M305.30 22.0a1.5 1.5 0 1 0 3.0 0a1.5 1.5 0 1 0 -3.0 0M305.30 50.8a1.5 1.5 0 1 0 3.0 0a1.5 1.5 0 1 0 -3.0 0M305.30 57.4a1.5 1.5 0 1 0 3.0 0a1.5 1.5 0 1 0 -3.0 0M305.30 61.5a1.5 1.5 0 1 0 3.0 0a1.5 1.5 0 1 0 -3.0 0M305.30 62.1a1.5 1.5 0 1 0 3.0 0a1.5 1.5 0 1 0 -3.0 0M305.30 82.5a1.5 1.5 0 1 0 3.0 0a1.5 1.5 0 1 0 -3.0 0M305.30 98.4a1.5 1.5 0 1 0 3.0 0a1.5 1.5 0 1 0 -3.0 0M305.30 116.3a1.5 1.5 0 1 0 3.0 0a1.5 1.5 0 1 0 -3.0 0" stroke="#ff0000" stroke-width="0.75" fill="none"/></g>
<g clip-path="url(#cTLp)"><path d="M73.8 272.4V286.4M73.8 293.7V305.7M73.8 313.6V323.6M83.3 274.8V288.8M83.3 294.2V306.2M83.3 313.6V323.6M94.0 289.7V301.7M94.0 306.8V318.8M94.0 318.5V328.5M94.0 326.7V336.7M105.3 287.2V299.2M105.3 303.2V313.2M105.3 312.2V320.2M105.3 314.4V322.4M105.3 320.2V328.2M105.3 325.1V333.1M105.3 336.9V344.9M113.0 297.2V305.2M113.0 297.9V305.9M113.0 303.5V311.5M113.0 312.7V320.7M113.0 320.0V328.0M113.0 324.5V332.5M113.0 331.1V339.1M113.0 339.5V347.5M123.7 296.7V304.7M123.7 306.2V314.2M123.7 310.3V318.3M123.7 315.3V323.3M123.7 316.6V324.6M123.7 317.8V325.8M123.7 325.5V333.5M123.7 329.4V337.4M123.7 338.2V346.2M123.7 361.0V365.0M134.3 301.6V311.6M134.3 307.2V315.2M134.3 309.4V317.4M134.3 319.1V327.1M134.3 320.7V328.7M134.3 322.7V330.7M134.3 325.3V333.3M134.3 339.2V347.2M134.3 341.6V349.6M145.4 307.5V315.5M145.4 312.7V320.7M145.4 314.0V322.0M145.4 317.4V325.4M145.4 323.4V331.4M145.4 327.5V335.5M145.4 332.2V340.2M145.4 334.3V342.3M145.4 346.9V354.9M154.9 313.7V321.7M154.9 318.8V326.8M154.9 321.7V329.7M154.9 324.1V332.1M154.9 326.6V334.6M154.9 330.0V338.0M154.9 333.3V341.3M154.9 341.9V349.9M154.9 351.8V359.8M164.8 317.8V325.8M164.8 321.2V329.2M164.8 323.2V331.2M164.8 324.6V332.6M164.8 327.0V335.0M164.8 333.5V341.5M164.8 337.9V345.9M164.8 355.3V363.3M164.8 359.3V367.3M174.3 313.5V321.5M174.3 322.2V330.2M174.3 323.9V331.9M174.3 329.5V337.5M174.3 330.4V338.4M174.3 334.5V342.5M174.3 343.8V351.8M174.3 356.6V364.6M174.3 362.9V370.9M185.3 312.3V320.3M185.3 318.8V326.8M185.3 322.0V330.0M185.3 327.8V335.8M185.3 334.3V342.3M185.3 349.1V357.1M185.3 353.8V361.8M185.3 362.9V370.9M185.3 364.1V372.1M195.3 309.4V319.4M195.3 319.3V327.3M195.3 326.0V334.0M195.3 333.2V341.2M195.3 335.3V343.3M195.3 343.0V351.0M195.3 352.5V360.5M195.3 361.3V369.3M195.3 365.1V373.1M195.3 372.8V376.8M204.8 320.8V328.8M204.8 326.2V334.2M204.8 328.9V336.9M204.8 336.5V344.5M204.8 355.6V363.6M204.8 361.3V369.3M204.8 364.8V372.8M204.8 380.1V384.1M204.8 383.7V387.7M204.8 385.5V389.5M215.3 310.2V322.2M215.3 318.1V326.1M215.3 327.4V335.4M215.3 330.1V338.1M215.3 341.6V349.6M215.3 347.5V355.5M215.3 362.2V370.2M215.3 363.1V371.1M215.3 372.2V376.2M226.1 317.6V325.6M226.1 328.3V336.3M226.1 333.0V341.0M226.1 335.3V343.3M226.1 347.5V355.5M226.1 354.7V362.7M226.1 377.1V381.1M226.1 382.3V386.3M226.1 383.7V387.7M234.7 317.6V325.6M234.7 321.7V329.7M234.7 332.6V340.6M234.7 338.3V346.3M234.7 349.1V357.1M234.7 355.6V363.6M234.7 368.6V372.6M234.7 376.7V380.7M234.7 381.0V385.0M245.2 319.3V327.3M245.2 326.5V334.5M245.2 334.8V342.8M245.2 336.2V344.2M245.2 342.3V350.3M245.2 354.7V362.7M245.2 374.0V378.0M245.2 379.8V383.8M245.2 384.6V388.6M245.2 386.9V390.9M255.4 328.7V336.7M255.4 333.3V341.3M255.4 334.3V342.3M255.4 339.2V347.2M255.4 347.1V355.1M255.4 352.5V360.5M255.4 361.8V369.8M255.4 375.1V379.1M255.4 379.2V383.2M255.4 380.3V384.3M266.7 306.1V316.1M266.7 329.5V337.5M266.7 331.6V339.6M266.7 339.5V347.5M266.7 348.6V356.6M266.7 350.5V358.5M266.7 352.2V360.2M266.7 361.8V369.8M266.7 364.0V372.0M266.7 368.3V376.3M275.8 319.3V329.3M275.8 339.5V347.5M275.8 346.2V354.2M275.8 351.6V359.6M275.8 353.8V361.8M275.8 356.1V364.1M275.8 358.8V366.8M285.5 310.4V320.4M285.5 327.6V335.6M285.5 335.6V343.6M285.5 341.0V349.0M285.5 343.0V351.0M285.5 345.1V353.1M285.5 354.6V362.6M285.5 357.2V365.2M296.6 302.8V314.8M296.6 320.1V328.1M296.6 329.5V337.5M296.6 332.2V340.2M296.6 344.4V352.4M296.6 346.0V354.0M296.6 350.3V358.3M296.6 360.2V368.2M306.8 290.2V302.2M306.8 296.5V304.5M306.8 305.7V313.7M306.8 316.2V324.2M306.8 319.8V327.8M306.8 321.2V329.2M306.8 339.7V347.7" stroke="#ff0000" stroke-width="0.65" stroke-opacity="1" fill="none"/><path d="M72.30 279.4a1.5 1.5 0 1 0 3.0 0a1.5 1.5 0 1 0 -3.0 0M72.30 299.7a1.5 1.5 0 1 0 3.0 0a1.5 1.5 0 1 0 -3.0 0M72.30 318.6a1.5 1.5 0 1 0 3.0 0a1.5 1.5 0 1 0 -3.0 0M81.80 281.8a1.5 1.5 0 1 0 3.0 0a1.5 1.5 0 1 0 -3.0 0M81.80 300.2a1.5 1.5 0 1 0 3.0 0a1.5 1.5 0 1 0 -3.0 0M81.80 318.6a1.5 1.5 0 1 0 3.0 0a1.5 1.5 0 1 0 -3.0 0M92.50 295.7a1.5 1.5 0 1 0 3.0 0a1.5 1.5 0 1 0 -3.0 0M92.50 312.8a1.5 1.5 0 1 0 3.0 0a1.5 1.5 0 1 0 -3.0 0M92.50 323.5a1.5 1.5 0 1 0 3.0 0a1.5 1.5 0 1 0 -3.0 0M92.50 331.7a1.5 1.5 0 1 0 3.0 0a1.5 1.5 0 1 0 -3.0 0M103.80 293.2a1.5 1.5 0 1 0 3.0 0a1.5 1.5 0 1 0 -3.0 0M103.80 308.2a1.5 1.5 0 1 0 3.0 0a1.5 1.5 0 1 0 -3.0 0M103.80 316.2a1.5 1.5 0 1 0 3.0 0a1.5 1.5 0 1 0 -3.0 0M103.80 318.4a1.5 1.5 0 1 0 3.0 0a1.5 1.5 0 1 0 -3.0 0M103.80 324.2a1.5 1.5 0 1 0 3.0 0a1.5 1.5 0 1 0 -3.0 0M103.80 329.1a1.5 1.5 0 1 0 3.0 0a1.5 1.5 0 1 0 -3.0 0M103.80 340.9a1.5 1.5 0 1 0 3.0 0a1.5 1.5 0 1 0 -3.0 0M111.50 301.2a1.5 1.5 0 1 0 3.0 0a1.5 1.5 0 1 0 -3.0 0M111.50 301.9a1.5 1.5 0 1 0 3.0 0a1.5 1.5 0 1 0 -3.0 0M111.50 307.5a1.5 1.5 0 1 0 3.0 0a1.5 1.5 0 1 0 -3.0 0M111.50 316.7a1.5 1.5 0 1 0 3.0 0a1.5 1.5 0 1 0 -3.0 0M111.50 324.0a1.5 1.5 0 1 0 3.0 0a1.5 1.5 0 1 0 -3.0 0M111.50 328.5a1.5 1.5 0 1 0 3.0 0a1.5 1.5 0 1 0 -3.0 0M111.50 335.1a1.5 1.5 0 1 0 3.0 0a1.5 1.5 0 1 0 -3.0 0M111.50 343.5a1.5 1.5 0 1 0 3.0 0a1.5 1.5 0 1 0 -3.0 0M122.20 300.7a1.5 1.5 0 1 0 3.0 0a1.5 1.5 0 1 0 -3.0 0M122.20 310.2a1.5 1.5 0 1 0 3.0 0a1.5 1.5 0 1 0 -3.0 0M122.20 314.3a1.5 1.5 0 1 0 3.0 0a1.5 1.5 0 1 0 -3.0 0M122.20 319.3a1.5 1.5 0 1 0 3.0 0a1.5 1.5 0 1 0 -3.0 0M122.20 320.6a1.5 1.5 0 1 0 3.0 0a1.5 1.5 0 1 0 -3.0 0M122.20 321.8a1.5 1.5 0 1 0 3.0 0a1.5 1.5 0 1 0 -3.0 0M122.20 329.5a1.5 1.5 0 1 0 3.0 0a1.5 1.5 0 1 0 -3.0 0M122.20 333.4a1.5 1.5 0 1 0 3.0 0a1.5 1.5 0 1 0 -3.0 0M122.20 342.2a1.5 1.5 0 1 0 3.0 0a1.5 1.5 0 1 0 -3.0 0M122.20 363.0a1.5 1.5 0 1 0 3.0 0a1.5 1.5 0 1 0 -3.0 0M132.80 306.6a1.5 1.5 0 1 0 3.0 0a1.5 1.5 0 1 0 -3.0 0M132.80 311.2a1.5 1.5 0 1 0 3.0 0a1.5 1.5 0 1 0 -3.0 0M132.80 313.4a1.5 1.5 0 1 0 3.0 0a1.5 1.5 0 1 0 -3.0 0M132.80 323.1a1.5 1.5 0 1 0 3.0 0a1.5 1.5 0 1 0 -3.0 0M132.80 324.7a1.5 1.5 0 1 0 3.0 0a1.5 1.5 0 1 0 -3.0 0M132.80 326.7a1.5 1.5 0 1 0 3.0 0a1.5 1.5 0 1 0 -3.0 0M132.80 329.3a1.5 1.5 0 1 0 3.0 0a1.5 1.5 0 1 0 -3.0 0M132.80 343.2a1.5 1.5 0 1 0 3.0 0a1.5 1.5 0 1 0 -3.0 0M132.80 345.6a1.5 1.5 0 1 0 3.0 0a1.5 1.5 0 1 0 -3.0 0M132.80 368.8a1.5 1.5 0 1 0 3.0 0a1.5 1.5 0 1 0 -3.0 0M143.90 311.5a1.5 1.5 0 1 0 3.0 0a1.5 1.5 0 1 0 -3.0 0M143.90 316.7a1.5 1.5 0 1 0 3.0 0a1.5 1.5 0 1 0 -3.0 0M143.90 318.0a1.5 1.5 0 1 0 3.0 0a1.5 1.5 0 1 0 -3.0 0M143.90 321.4a1.5 1.5 0 1 0 3.0 0a1.5 1.5 0 1 0 -3.0 0M143.90 327.4a1.5 1.5 0 1 0 3.0 0a1.5 1.5 0 1 0 -3.0 0M143.90 331.5a1.5 1.5 0 1 0 3.0 0a1.5 1.5 0 1 0 -3.0 0M143.90 336.2a1.5 1.5 0 1 0 3.0 0a1.5 1.5 0 1 0 -3.0 0M143.90 338.3a1.5 1.5 0 1 0 3.0 0a1.5 1.5 0 1 0 -3.0 0M143.90 350.9a1.5 1.5 0 1 0 3.0 0a1.5 1.5 0 1 0 -3.0 0M143.90 382.7a1.5 1.5 0 1 0 3.0 0a1.5 1.5 0 1 0 -3.0 0M153.40 317.7a1.5 1.5 0 1 0 3.0 0a1.5 1.5 0 1 0 -3.0 0M153.40 322.8a1.5 1.5 0 1 0 3.0 0a1.5 1.5 0 1 0 -3.0 0M153.40 325.7a1.5 1.5 0 1 0 3.0 0a1.5 1.5 0 1 0 -3.0 0M153.40 328.1a1.5 1.5 0 1 0 3.0 0a1.5 1.5 0 1 0 -3.0 0M153.40 330.6a1.5 1.5 0 1 0 3.0 0a1.5 1.5 0 1 0 -3.0 0M153.40 334.0a1.5 1.5 0 1 0 3.0 0a1.5 1.5 0 1 0 -3.0 0M153.40 337.3a1.5 1.5 0 1 0 3.0 0a1.5 1.5 0 1 0 -3.0 0M153.40 345.9a1.5 1.5 0 1 0 3.0 0a1.5 1.5 0 1 0 -3.0 0M153.40 355.8a1.5 1.5 0 1 0 3.0 0a1.5 1.5 0 1 0 -3.0 0M153.40 390.0a1.5 1.5 0 1 0 3.0 0a1.5 1.5 0 1 0 -3.0 0M163.30 321.8a1.5 1.5 0 1 0 3.0 0a1.5 1.5 0 1 0 -3.0 0M163.30 325.2a1.5 1.5 0 1 0 3.0 0a1.5 1.5 0 1 0 -3.0 0M163.30 327.2a1.5 1.5 0 1 0 3.0 0a1.5 1.5 0 1 0 -3.0 0M163.30 328.6a1.5 1.5 0 1 0 3.0 0a1.5 1.5 0 1 0 -3.0 0M163.30 331.0a1.5 1.5 0 1 0 3.0 0a1.5 1.5 0 1 0 -3.0 0M163.30 337.5a1.5 1.5 0 1 0 3.0 0a1.5 1.5 0 1 0 -3.0 0M163.30 341.9a1.5 1.5 0 1 0 3.0 0a1.5 1.5 0 1 0 -3.0 0M163.30 359.3a1.5 1.5 0 1 0 3.0 0a1.5 1.5 0 1 0 -3.0 0M163.30 363.3a1.5 1.5 0 1 0 3.0 0a1.5 1.5 0 1 0 -3.0 0M163.30 393.1a1.5 1.5 0 1 0 3.0 0a1.5 1.5 0 1 0 -3.0 0M172.80 317.5a1.5 1.5 0 1 0 3.0 0a1.5 1.5 0 1 0 -3.0 0M172.80 326.2a1.5 1.5 0 1 0 3.0 0a1.5 1.5 0 1 0 -3.0 0M172.80 327.9a1.5 1.5 0 1 0 3.0 0a1.5 1.5 0 1 0 -3.0 0M172.80 333.5a1.5 1.5 0 1 0 3.0 0a1.5 1.5 0 1 0 -3.0 0M172.80 334.4a1.5 1.5 0 1 0 3.0 0a1.5 1.5 0 1 0 -3.0 0M172.80 338.5a1.5 1.5 0 1 0 3.0 0a1.5 1.5 0 1 0 -3.0 0M172.80 347.8a1.5 1.5 0 1 0 3.0 0a1.5 1.5 0 1 0 -3.0 0M172.80 360.6a1.5 1.5 0 1 0 3.0 0a1.5 1.5 0 1 0 -3.0 0M172.80 366.9a1.5 1.5 0 1 0 3.0 0a1.5 1.5 0 1 0 -3.0 0M172.80 392.9a1.5 1.5 0 1 0 3.0 0a1.5 1.5 0 1 0 -3.0 0M183.80 316.3a1.5 1.5 0 1 0 3.0 0a1.5 1.5 0 1 0 -3.0 0M183.80 322.8a1.5 1.5 0 1 0 3.0 0a1.5 1.5 0 1 0 -3.0 0M183.80 326.0a1.5 1.5 0 1 0 3.0 0a1.5 1.5 0 1 0 -3.0 0M183.80 331.8a1.5 1.5 0 1 0 3.0 0a1.5 1.5 0 1 0 -3.0 0M183.80 338.3a1.5 1.5 0 1 0 3.0 0a1.5 1.5 0 1 0 -3.0 0M183.80 353.1a1.5 1.5 0 1 0 3.0 0a1.5 1.5 0 1 0 -3.0 0M183.80 357.8a1.5 1.5 0 1 0 3.0 0a1.5 1.5 0 1 0 -3.0 0M183.80 366.9a1.5 1.5 0 1 0 3.0 0a1.5 1.5 0 1 0 -3.0 0M183.80 368.1a1.5 1.5 0 1 0 3.0 0a1.5 1.5 0 1 0 -3.0 0M183.80 375.6a1.5 1.5 0 1 0 3.0 0a1.5 1.5 0 1 0 -3.0 0M183.80 389.8a1.5 1.5 0 1 0 3.0 0a1.5 1.5 0 1 0 -3.0 0M193.80 314.4a1.5 1.5 0 1 0 3.0 0a1.5 1.5 0 1 0 -3.0 0M193.80 323.3a1.5 1.5 0 1 0 3.0 0a1.5 1.5 0 1 0 -3.0 0M193.80 330.0a1.5 1.5 0 1 0 3.0 0a1.5 1.5 0 1 0 -3.0 0M193.80 337.2a1.5 1.5 0 1 0 3.0 0a1.5 1.5 0 1 0 -3.0 0M193.80 339.3a1.5 1.5 0 1 0 3.0 0a1.5 1.5 0 1 0 -3.0 0M193.80 347.0a1.5 1.5 0 1 0 3.0 0a1.5 1.5 0 1 0 -3.0 0M193.80 356.5a1.5 1.5 0 1 0 3.0 0a1.5 1.5 0 1 0 -3.0 0M193.80 365.3a1.5 1.5 0 1 0 3.0 0a1.5 1.5 0 1 0 -3.0 0M193.80 369.1a1.5 1.5 0 1 0 3.0 0a1.5 1.5 0 1 0 -3.0 0M193.80 374.8a1.5 1.5 0 1 0 3.0 0a1.5 1.5 0 1 0 -3.0 0M193.80 386.9a1.5 1.5 0 1 0 3.0 0a1.5 1.5 0 1 0 -3.0 0M203.30 324.8a1.5 1.5 0 1 0 3.0 0a1.5 1.5 0 1 0 -3.0 0M203.30 330.2a1.5 1.5 0 1 0 3.0 0a1.5 1.5 0 1 0 -3.0 0M203.30 332.9a1.5 1.5 0 1 0 3.0 0a1.5 1.5 0 1 0 -3.0 0M203.30 340.5a1.5 1.5 0 1 0 3.0 0a1.5 1.5 0 1 0 -3.0 0M203.30 359.6a1.5 1.5 0 1 0 3.0 0a1.5 1.5 0 1 0 -3.0 0M203.30 365.3a1.5 1.5 0 1 0 3.0 0a1.5 1.5 0 1 0 -3.0 0M203.30 368.8a1.5 1.5 0 1 0 3.0 0a1.5 1.5 0 1 0 -3.0 0M203.30 382.1a1.5 1.5 0 1 0 3.0 0a1.5 1.5 0 1 0 -3.0 0M203.30 385.7a1.5 1.5 0 1 0 3.0 0a1.5 1.5 0 1 0 -3.0 0M203.30 387.5a1.5 1.5 0 1 0 3.0 0a1.5 1.5 0 1 0 -3.0 0M203.30 396.6a1.5 1.5 0 1 0 3.0 0a1.5 1.5 0 1 0 -3.0 0M213.80 316.2a1.5 1.5 0 1 0 3.0 0a1.5 1.5 0 1 0 -3.0 0M213.80 322.1a1.5 1.5 0 1 0 3.0 0a1.5 1.5 0 1 0 -3.0 0M213.80 331.4a1.5 1.5 0 1 0 3.0 0a1.5 1.5 0 1 0 -3.0 0M213.80 334.1a1.5 1.5 0 1 0 3.0 0a1.5 1.5 0 1 0 -3.0 0M213.80 345.6a1.5 1.5 0 1 0 3.0 0a1.5 1.5 0 1 0 -3.0 0M213.80 351.5a1.5 1.5 0 1 0 3.0 0a1.5 1.5 0 1 0 -3.0 0M213.80 366.2a1.5 1.5 0 1 0 3.0 0a1.5 1.5 0 1 0 -3.0 0M213.80 367.1a1.5 1.5 0 1 0 3.0 0a1.5 1.5 0 1 0 -3.0 0M213.80 374.2a1.5 1.5 0 1 0 3.0 0a1.5 1.5 0 1 0 -3.0 0M213.80 382.1a1.5 1.5 0 1 0 3.0 0a1.5 1.5 0 1 0 -3.0 0M213.80 395.4a1.5 1.5 0 1 0 3.0 0a1.5 1.5 0 1 0 -3.0 0M213.80 396.6a1.5 1.5 0 1 0 3.0 0a1.5 1.5 0 1 0 -3.0 0M213.80 408.3a1.5 1.5 0 1 0 3.0 0a1.5 1.5 0 1 0 -3.0 0M224.60 321.6a1.5 1.5 0 1 0 3.0 0a1.5 1.5 0 1 0 -3.0 0M224.60 332.3a1.5 1.5 0 1 0 3.0 0a1.5 1.5 0 1 0 -3.0 0M224.60 337.0a1.5 1.5 0 1 0 3.0 0a1.5 1.5 0 1 0 -3.0 0M224.60 339.3a1.5 1.5 0 1 0 3.0 0a1.5 1.5 0 1 0 -3.0 0M224.60 351.5a1.5 1.5 0 1 0 3.0 0a1.5 1.5 0 1 0 -3.0 0M224.60 358.7a1.5 1.5 0 1 0 3.0 0a1.5 1.5 0 1 0 -3.0 0M224.60 379.1a1.5 1.5 0 1 0 3.0 0a1.5 1.5 0 1 0 -3.0 0M224.60 384.3a1.5 1.5 0 1 0 3.0 0a1.5 1.5 0 1 0 -3.0 0M224.60 385.7a1.5 1.5 0 1 0 3.0 0a1.5 1.5 0 1 0 -3.0 0M224.60 390.0a1.5 1.5 0 1 0 3.0 0a1.5 1.5 0 1 0 -3.0 0M224.60 397.5a1.5 1.5 0 1 0 3.0 0a1.5 1.5 0 1 0 -3.0 0M224.60 405.2a1.5 1.5 0 1 0 3.0 0a1.5 1.5 0 1 0 -3.0 0M233.20 321.6a1.5 1.5 0 1 0 3.0 0a1.5 1.5 0 1 0 -3.0 0M233.20 325.7a1.5 1.5 0 1 0 3.0 0a1.5 1.5 0 1 0 -3.0 0M233.20 336.6a1.5 1.5 0 1 0 3.0 0a1.5 1.5 0 1 0 -3.0 0M233.20 342.3a1.5 1.5 0 1 0 3.0 0a1.5 1.5 0 1 0 -3.0 0M233.20 353.1a1.5 1.5 0 1 0 3.0 0a1.5 1.5 0 1 0 -3.0 0M233.20 359.6a1.5 1.5 0 1 0 3.0 0a1.5 1.5 0 1 0 -3.0 0M233.20 370.6a1.5 1.5 0 1 0 3.0 0a1.5 1.5 0 1 0 -3.0 0M233.20 378.7a1.5 1.5 0 1 0 3.0 0a1.5 1.5 0 1 0 -3.0 0M233.20 383.0a1.5 1.5 0 1 0 3.0 0a1.5 1.5 0 1 0 -3.0 0M233.20 393.2a1.5 1.5 0 1 0 3.0 0a1.5 1.5 0 1 0 -3.0 0M233.20 398.8a1.5 1.5 0 1 0 3.0 0a1.5 1.5 0 1 0 -3.0 0M233.20 401.1a1.5 1.5 0 1 0 3.0 0a1.5 1.5 0 1 0 -3.0 0M243.70 323.3a1.5 1.5 0 1 0 3.0 0a1.5 1.5 0 1 0 -3.0 0M243.70 330.5a1.5 1.5 0 1 0 3.0 0a1.5 1.5 0 1 0 -3.0 0M243.70 338.8a1.5 1.5 0 1 0 3.0 0a1.5 1.5 0 1 0 -3.0 0M243.70 340.2a1.5 1.5 0 1 0 3.0 0a1.5 1.5 0 1 0 -3.0 0M243.70 346.3a1.5 1.5 0 1 0 3.0 0a1.5 1.5 0 1 0 -3.0 0M243.70 358.7a1.5 1.5 0 1 0 3.0 0a1.5 1.5 0 1 0 -3.0 0M243.70 376.0a1.5 1.5 0 1 0 3.0 0a1.5 1.5 0 1 0 -3.0 0M243.70 381.8a1.5 1.5 0 1 0 3.0 0a1.5 1.5 0 1 0 -3.0 0M243.70 386.6a1.5 1.5 0 1 0 3.0 0a1.5 1.5 0 1 0 -3.0 0M243.70 388.9a1.5 1.5 0 1 0 3.0 0a1.5 1.5 0 1 0 -3.0 0M243.70 394.8a1.5 1.5 0 1 0 3.0 0a1.5 1.5 0 1 0 -3.0 0M253.90 332.7a1.5 1.5 0 1 0 3.0 0a1.5 1.5 0 1 0 -3.0 0M253.90 337.3a1.5 1.5 0 1 0 3.0 0a1.5 1.5 0 1 0 -3.0 0M253.90 338.3a1.5 1.5 0 1 0 3.0 0a1.5 1.5 0 1 0 -3.0 0M253.90 343.2a1.5 1.5 0 1 0 3.0 0a1.5 1.5 0 1 0 -3.0 0M253.90 351.1a1.5 1.5 0 1 0 3.0 0a1.5 1.5 0 1 0 -3.0 0M253.90 356.5a1.5 1.5 0 1 0 3.0 0a1.5 1.5 0 1 0 -3.0 0M253.90 365.8a1.5 1.5 0 1 0 3.0 0a1.5 1.5 0 1 0 -3.0 0M253.90 377.1a1.5 1.5 0 1 0 3.0 0a1.5 1.5 0 1 0 -3.0 0M253.90 381.2a1.5 1.5 0 1 0 3.0 0a1.5 1.5 0 1 0 -3.0 0M253.90 382.3a1.5 1.5 0 1 0 3.0 0a1.5 1.5 0 1 0 -3.0 0M265.20 311.1a1.5 1.5 0 1 0 3.0 0a1.5 1.5 0 1 0 -3.0 0M265.20 333.5a1.5 1.5 0 1 0 3.0 0a1.5 1.5 0 1 0 -3.0 0M265.20 335.6a1.5 1.5 0 1 0 3.0 0a1.5 1.5 0 1 0 -3.0 0M265.20 343.5a1.5 1.5 0 1 0 3.0 0a1.5 1.5 0 1 0 -3.0 0M265.20 352.6a1.5 1.5 0 1 0 3.0 0a1.5 1.5 0 1 0 -3.0 0M265.20 354.5a1.5 1.5 0 1 0 3.0 0a1.5 1.5 0 1 0 -3.0 0M265.20 356.2a1.5 1.5 0 1 0 3.0 0a1.5 1.5 0 1 0 -3.0 0M265.20 365.8a1.5 1.5 0 1 0 3.0 0a1.5 1.5 0 1 0 -3.0 0M265.20 368.0a1.5 1.5 0 1 0 3.0 0a1.5 1.5 0 1 0 -3.0 0M265.20 372.3a1.5 1.5 0 1 0 3.0 0a1.5 1.5 0 1 0 -3.0 0M265.20 377.6a1.5 1.5 0 1 0 3.0 0a1.5 1.5 0 1 0 -3.0 0M274.30 324.3a1.5 1.5 0 1 0 3.0 0a1.5 1.5 0 1 0 -3.0 0M274.30 343.5a1.5 1.5 0 1 0 3.0 0a1.5 1.5 0 1 0 -3.0 0M274.30 350.2a1.5 1.5 0 1 0 3.0 0a1.5 1.5 0 1 0 -3.0 0M274.30 355.6a1.5 1.5 0 1 0 3.0 0a1.5 1.5 0 1 0 -3.0 0M274.30 357.8a1.5 1.5 0 1 0 3.0 0a1.5 1.5 0 1 0 -3.0 0M274.30 360.1a1.5 1.5 0 1 0 3.0 0a1.5 1.5 0 1 0 -3.0 0M274.30 362.8a1.5 1.5 0 1 0 3.0 0a1.5 1.5 0 1 0 -3.0 0M274.30 378.0a1.5 1.5 0 1 0 3.0 0a1.5 1.5 0 1 0 -3.0 0M274.30 383.3a1.5 1.5 0 1 0 3.0 0a1.5 1.5 0 1 0 -3.0 0M284.00 315.4a1.5 1.5 0 1 0 3.0 0a1.5 1.5 0 1 0 -3.0 0M284.00 331.6a1.5 1.5 0 1 0 3.0 0a1.5 1.5 0 1 0 -3.0 0M284.00 339.6a1.5 1.5 0 1 0 3.0 0a1.5 1.5 0 1 0 -3.0 0M284.00 345.0a1.5 1.5 0 1 0 3.0 0a1.5 1.5 0 1 0 -3.0 0M284.00 347.0a1.5 1.5 0 1 0 3.0 0a1.5 1.5 0 1 0 -3.0 0M284.00 349.1a1.5 1.5 0 1 0 3.0 0a1.5 1.5 0 1 0 -3.0 0M284.00 358.6a1.5 1.5 0 1 0 3.0 0a1.5 1.5 0 1 0 -3.0 0M284.00 361.2a1.5 1.5 0 1 0 3.0 0a1.5 1.5 0 1 0 -3.0 0M284.00 380.4a1.5 1.5 0 1 0 3.0 0a1.5 1.5 0 1 0 -3.0 0M295.10 308.8a1.5 1.5 0 1 0 3.0 0a1.5 1.5 0 1 0 -3.0 0M295.10 324.1a1.5 1.5 0 1 0 3.0 0a1.5 1.5 0 1 0 -3.0 0M295.10 333.5a1.5 1.5 0 1 0 3.0 0a1.5 1.5 0 1 0 -3.0 0M295.10 336.2a1.5 1.5 0 1 0 3.0 0a1.5 1.5 0 1 0 -3.0 0M295.10 348.4a1.5 1.5 0 1 0 3.0 0a1.5 1.5 0 1 0 -3.0 0M295.10 350.0a1.5 1.5 0 1 0 3.0 0a1.5 1.5 0 1 0 -3.0 0M295.10 354.3a1.5 1.5 0 1 0 3.0 0a1.5 1.5 0 1 0 -3.0 0M295.10 364.2a1.5 1.5 0 1 0 3.0 0a1.5 1.5 0 1 0 -3.0 0M305.30 296.2a1.5 1.5 0 1 0 3.0 0a1.5 1.5 0 1 0 -3.0 0M305.30 300.5a1.5 1.5 0 1 0 3.0 0a1.5 1.5 0 1 0 -3.0 0M305.30 309.7a1.5 1.5 0 1 0 3.0 0a1.5 1.5 0 1 0 -3.0 0M305.30 320.2a1.5 1.5 0 1 0 3.0 0a1.5 1.5 0 1 0 -3.0 0M305.30 323.8a1.5 1.5 0 1 0 3.0 0a1.5 1.5 0 1 0 -3.0 0M305.30 325.2a1.5 1.5 0 1 0 3.0 0a1.5 1.5 0 1 0 -3.0 0M305.30 343.7a1.5 1.5 0 1 0 3.0 0a1.5 1.5 0 1 0 -3.0 0" stroke="#ff0000" stroke-width="0.75" fill="none"/></g>
<g clip-path="url(#cTRr)"><path d="M427.3 114.3V121.1M427.3 153.3V160.1M436.8 117.1V123.9M436.8 140.7V147.5M436.8 147.0V153.8M436.8 170.7V177.5M447.5 119.4V126.2M447.5 133.9V140.7M447.5 138.1V144.9M447.5 147.7V154.5M447.5 165.9V172.7M447.5 175.3V182.1M458.8 124.2V131.0M458.8 136.8V143.6M458.8 145.5V152.3M458.8 157.2V164.0M458.8 160.4V167.2M458.8 168.5V175.3M466.5 132.3V139.1M466.5 134.4V141.2M466.5 146.0V152.8M466.5 156.9V163.7M466.5 163.5V170.3M466.5 166.6V173.4M477.2 136.8V143.6M477.2 137.8V144.6M477.2 142.1V148.9M477.2 147.0V153.8M477.2 152.6V159.4M477.2 157.9V164.7M477.2 162.8V169.6M487.8 113.0V119.8M487.8 134.1V140.9M487.8 136.0V142.8M487.8 142.3V149.1M487.8 144.3V151.1M487.8 145.9V152.7M487.8 150.1V156.9M487.8 155.4V162.2M487.8 158.3V165.1M487.8 164.1V170.9M498.9 112.0V118.8M498.9 133.1V139.9M498.9 138.0V144.8M498.9 143.8V150.6M498.9 146.7V153.5M498.9 148.6V155.4M498.9 152.2V159.0M498.9 155.6V162.4M498.9 158.3V165.1M508.4 110.0V116.8M508.4 132.1V138.9M508.4 134.1V140.9M508.4 136.0V142.8M508.4 142.8V149.6M508.4 145.7V152.5M508.4 147.6V154.4M508.4 152.8V159.6M508.4 156.6V163.4M518.3 106.9V113.7M518.3 128.8V135.6M518.3 133.6V140.4M518.3 136.5V143.3M518.3 141.3V148.1M518.3 145.7V152.5M518.3 147.6V154.4M518.3 149.6V156.4M518.3 154.1V160.9M527.8 106.5V113.3M527.8 120.5V127.3M527.8 135.0V141.8M527.8 137.5V144.3M527.8 140.9V147.7M527.8 145.7V152.5M527.8 147.6V154.4M527.8 150.6V157.4M527.8 155.1V161.9M538.8 106.0V112.8M538.8 113.2V120.0M538.8 134.1V140.9M538.8 136.5V143.3M538.8 139.4V146.2M538.8 141.8V148.6M538.8 145.7V152.5M538.8 150.1V156.9M548.8 103.6V110.4M548.8 127.2V134.0M548.8 132.5V139.3M548.8 135.4V142.2M548.8 143.2V150.0M548.8 145.1V151.9M548.8 147.0V153.8M558.3 93.2V100.0M558.3 98.6V105.4M558.3 116.0V122.8M558.3 125.7V132.5M558.3 127.6V134.4M558.3 132.5V139.3M558.3 135.4V142.2M558.3 139.8V146.6M558.3 144.1V150.9M558.3 151.9V158.7M568.8 84.0V90.8M568.8 101.5V108.3M568.8 116.5V123.3M568.8 119.4V126.2M568.8 121.8V128.6M568.8 123.8V130.6M568.8 135.4V142.2M568.8 143.2V150.0M568.8 147.5V154.3M568.8 152.6V159.4M579.6 76.1V82.9M579.6 83.8V90.6M579.6 102.0V108.8M579.6 107.3V114.1M579.6 108.1V114.9M579.6 112.9V119.7M579.6 119.7V126.5M579.6 129.1V135.9M579.6 144.1V150.9M579.6 145.1V151.9M588.2 72.9V79.7M588.2 90.6V97.4M588.2 95.7V102.5M588.2 100.0V106.8M588.2 102.3V109.1M588.2 105.8V112.6M588.2 112.9V119.7M588.2 133.5V140.3M588.2 138.1V144.9M588.2 143.8V150.6M588.2 152.8V159.6M598.7 60.6V67.4M598.7 67.0V73.8M598.7 80.7V87.5M598.7 87.0V93.8M598.7 89.1V95.9M598.7 94.5V101.3M598.7 110.9V117.7M598.7 113.3V120.1M598.7 131.6V138.4M598.7 148.0V154.8M608.9 51.4V58.2M608.9 62.2V69.0M608.9 75.4V82.2M608.9 82.8V89.6M608.9 83.7V90.5M608.9 91.2V98.0M608.9 106.7V113.5M608.9 110.9V117.7M608.9 140.2V147.0M608.9 148.0V154.8M608.9 150.2V157.0M620.2 42.7V49.5M620.2 63.0V69.8M620.2 64.6V71.4M620.2 68.4V75.2M620.2 78.0V84.8M620.2 79.2V86.0M620.2 84.9V91.7M620.2 106.1V112.9M620.2 108.3V115.1M620.2 110.9V117.7M620.2 139.4V146.2M620.2 157.0V163.8M620.2 175.0V181.8M629.3 36.7V43.5M629.3 61.2V68.0M629.3 65.1V71.9M629.3 69.9V76.7M629.3 75.6V82.4M629.3 85.2V92.0M629.3 93.6V100.4M629.3 107.1V113.9M629.3 114.5V121.3M629.3 127.4V134.2M629.3 152.2V159.0M629.3 157.8V164.6M639.0 31.9V38.7M639.0 55.9V62.7M639.0 65.8V72.6M639.0 74.4V81.2M639.0 75.0V81.8M639.0 80.2V87.0M639.0 86.1V92.9M639.0 118.7V125.5M639.0 123.1V129.9M639.0 135.5V142.3M639.0 151.0V157.8M650.1 22.1V28.9M650.1 49.6V56.4M650.1 68.1V74.9M650.1 72.0V78.8M650.1 95.1V101.9M650.1 110.1V116.9M650.1 120.3V127.1M650.1 146.2V153.0M660.3 25.1V31.9M660.3 46.6V53.4M660.3 81.4V88.2M660.3 98.4V105.2M660.3 113.7V120.5M660.3 119.1V125.9M660.3 144.8V151.6" stroke="#0000ff" stroke-width="0.65" stroke-opacity="1" fill="none"/><path d="M425.80 117.7a1.5 1.5 0 1 0 3.0 0a1.5 1.5 0 1 0 -3.0 0M425.80 156.7a1.5 1.5 0 1 0 3.0 0a1.5 1.5 0 1 0 -3.0 0M435.30 120.5a1.5 1.5 0 1 0 3.0 0a1.5 1.5 0 1 0 -3.0 0M435.30 144.1a1.5 1.5 0 1 0 3.0 0a1.5 1.5 0 1 0 -3.0 0M435.30 150.4a1.5 1.5 0 1 0 3.0 0a1.5 1.5 0 1 0 -3.0 0M435.30 174.1a1.5 1.5 0 1 0 3.0 0a1.5 1.5 0 1 0 -3.0 0M446.00 122.8a1.5 1.5 0 1 0 3.0 0a1.5 1.5 0 1 0 -3.0 0M446.00 137.3a1.5 1.5 0 1 0 3.0 0a1.5 1.5 0 1 0 -3.0 0M446.00 141.5a1.5 1.5 0 1 0 3.0 0a1.5 1.5 0 1 0 -3.0 0M446.00 151.1a1.5 1.5 0 1 0 3.0 0a1.5 1.5 0 1 0 -3.0 0M446.00 169.3a1.5 1.5 0 1 0 3.0 0a1.5 1.5 0 1 0 -3.0 0M446.00 178.7a1.5 1.5 0 1 0 3.0 0a1.5 1.5 0 1 0 -3.0 0M457.30 127.6a1.5 1.5 0 1 0 3.0 0a1.5 1.5 0 1 0 -3.0 0M457.30 140.2a1.5 1.5 0 1 0 3.0 0a1.5 1.5 0 1 0 -3.0 0M457.30 148.9a1.5 1.5 0 1 0 3.0 0a1.5 1.5 0 1 0 -3.0 0M457.30 160.6a1.5 1.5 0 1 0 3.0 0a1.5 1.5 0 1 0 -3.0 0M457.30 163.8a1.5 1.5 0 1 0 3.0 0a1.5 1.5 0 1 0 -3.0 0M457.30 171.9a1.5 1.5 0 1 0 3.0 0a1.5 1.5 0 1 0 -3.0 0M465.00 135.7a1.5 1.5 0 1 0 3.0 0a1.5 1.5 0 1 0 -3.0 0M465.00 137.8a1.5 1.5 0 1 0 3.0 0a1.5 1.5 0 1 0 -3.0 0M465.00 149.4a1.5 1.5 0 1 0 3.0 0a1.5 1.5 0 1 0 -3.0 0M465.00 160.3a1.5 1.5 0 1 0 3.0 0a1.5 1.5 0 1 0 -3.0 0M465.00 166.9a1.5 1.5 0 1 0 3.0 0a1.5 1.5 0 1 0 -3.0 0M465.00 170.0a1.5 1.5 0 1 0 3.0 0a1.5 1.5 0 1 0 -3.0 0M475.70 140.2a1.5 1.5 0 1 0 3.0 0a1.5 1.5 0 1 0 -3.0 0M475.70 141.2a1.5 1.5 0 1 0 3.0 0a1.5 1.5 0 1 0 -3.0 0M475.70 145.5a1.5 1.5 0 1 0 3.0 0a1.5 1.5 0 1 0 -3.0 0M475.70 150.4a1.5 1.5 0 1 0 3.0 0a1.5 1.5 0 1 0 -3.0 0M475.70 156.0a1.5 1.5 0 1 0 3.0 0a1.5 1.5 0 1 0 -3.0 0M475.70 161.3a1.5 1.5 0 1 0 3.0 0a1.5 1.5 0 1 0 -3.0 0M475.70 166.2a1.5 1.5 0 1 0 3.0 0a1.5 1.5 0 1 0 -3.0 0M486.30 116.4a1.5 1.5 0 1 0 3.0 0a1.5 1.5 0 1 0 -3.0 0M486.30 137.5a1.5 1.5 0 1 0 3.0 0a1.5 1.5 0 1 0 -3.0 0M486.30 139.4a1.5 1.5 0 1 0 3.0 0a1.5 1.5 0 1 0 -3.0 0M486.30 145.7a1.5 1.5 0 1 0 3.0 0a1.5 1.5 0 1 0 -3.0 0M486.30 147.7a1.5 1.5 0 1 0 3.0 0a1.5 1.5 0 1 0 -3.0 0M486.30 149.3a1.5 1.5 0 1 0 3.0 0a1.5 1.5 0 1 0 -3.0 0M486.30 153.5a1.5 1.5 0 1 0 3.0 0a1.5 1.5 0 1 0 -3.0 0M486.30 158.8a1.5 1.5 0 1 0 3.0 0a1.5 1.5 0 1 0 -3.0 0M486.30 161.7a1.5 1.5 0 1 0 3.0 0a1.5 1.5 0 1 0 -3.0 0M486.30 167.5a1.5 1.5 0 1 0 3.0 0a1.5 1.5 0 1 0 -3.0 0M497.40 115.4a1.5 1.5 0 1 0 3.0 0a1.5 1.5 0 1 0 -3.0 0M497.40 136.5a1.5 1.5 0 1 0 3.0 0a1.5 1.5 0 1 0 -3.0 0M497.40 141.4a1.5 1.5 0 1 0 3.0 0a1.5 1.5 0 1 0 -3.0 0M497.40 147.2a1.5 1.5 0 1 0 3.0 0a1.5 1.5 0 1 0 -3.0 0M497.40 150.1a1.5 1.5 0 1 0 3.0 0a1.5 1.5 0 1 0 -3.0 0M497.40 152.0a1.5 1.5 0 1 0 3.0 0a1.5 1.5 0 1 0 -3.0 0M497.40 155.6a1.5 1.5 0 1 0 3.0 0a1.5 1.5 0 1 0 -3.0 0M497.40 159.0a1.5 1.5 0 1 0 3.0 0a1.5 1.5 0 1 0 -3.0 0M497.40 161.7a1.5 1.5 0 1 0 3.0 0a1.5 1.5 0 1 0 -3.0 0M506.90 113.4a1.5 1.5 0 1 0 3.0 0a1.5 1.5 0 1 0 -3.0 0M506.90 135.5a1.5 1.5 0 1 0 3.0 0a1.5 1.5 0 1 0 -3.0 0M506.90 137.5a1.5 1.5 0 1 0 3.0 0a1.5 1.5 0 1 0 -3.0 0M506.90 139.4a1.5 1.5 0 1 0 3.0 0a1.5 1.5 0 1 0 -3.0 0M506.90 146.2a1.5 1.5 0 1 0 3.0 0a1.5 1.5 0 1 0 -3.0 0M506.90 149.1a1.5 1.5 0 1 0 3.0 0a1.5 1.5 0 1 0 -3.0 0M506.90 151.0a1.5 1.5 0 1 0 3.0 0a1.5 1.5 0 1 0 -3.0 0M506.90 156.2a1.5 1.5 0 1 0 3.0 0a1.5 1.5 0 1 0 -3.0 0M506.90 160.0a1.5 1.5 0 1 0 3.0 0a1.5 1.5 0 1 0 -3.0 0M516.80 110.3a1.5 1.5 0 1 0 3.0 0a1.5 1.5 0 1 0 -3.0 0M516.80 132.2a1.5 1.5 0 1 0 3.0 0a1.5 1.5 0 1 0 -3.0 0M516.80 137.0a1.5 1.5 0 1 0 3.0 0a1.5 1.5 0 1 0 -3.0 0M516.80 139.9a1.5 1.5 0 1 0 3.0 0a1.5 1.5 0 1 0 -3.0 0M516.80 144.7a1.5 1.5 0 1 0 3.0 0a1.5 1.5 0 1 0 -3.0 0M516.80 149.1a1.5 1.5 0 1 0 3.0 0a1.5 1.5 0 1 0 -3.0 0M516.80 151.0a1.5 1.5 0 1 0 3.0 0a1.5 1.5 0 1 0 -3.0 0M516.80 153.0a1.5 1.5 0 1 0 3.0 0a1.5 1.5 0 1 0 -3.0 0M516.80 157.5a1.5 1.5 0 1 0 3.0 0a1.5 1.5 0 1 0 -3.0 0M526.30 109.9a1.5 1.5 0 1 0 3.0 0a1.5 1.5 0 1 0 -3.0 0M526.30 123.9a1.5 1.5 0 1 0 3.0 0a1.5 1.5 0 1 0 -3.0 0M526.30 138.4a1.5 1.5 0 1 0 3.0 0a1.5 1.5 0 1 0 -3.0 0M526.30 140.9a1.5 1.5 0 1 0 3.0 0a1.5 1.5 0 1 0 -3.0 0M526.30 144.3a1.5 1.5 0 1 0 3.0 0a1.5 1.5 0 1 0 -3.0 0M526.30 149.1a1.5 1.5 0 1 0 3.0 0a1.5 1.5 0 1 0 -3.0 0M526.30 151.0a1.5 1.5 0 1 0 3.0 0a1.5 1.5 0 1 0 -3.0 0M526.30 154.0a1.5 1.5 0 1 0 3.0 0a1.5 1.5 0 1 0 -3.0 0M526.30 158.5a1.5 1.5 0 1 0 3.0 0a1.5 1.5 0 1 0 -3.0 0M537.30 109.4a1.5 1.5 0 1 0 3.0 0a1.5 1.5 0 1 0 -3.0 0M537.30 116.6a1.5 1.5 0 1 0 3.0 0a1.5 1.5 0 1 0 -3.0 0M537.30 137.5a1.5 1.5 0 1 0 3.0 0a1.5 1.5 0 1 0 -3.0 0M537.30 139.9a1.5 1.5 0 1 0 3.0 0a1.5 1.5 0 1 0 -3.0 0M537.30 142.8a1.5 1.5 0 1 0 3.0 0a1.5 1.5 0 1 0 -3.0 0M537.30 145.2a1.5 1.5 0 1 0 3.0 0a1.5 1.5 0 1 0 -3.0 0M537.30 149.1a1.5 1.5 0 1 0 3.0 0a1.5 1.5 0 1 0 -3.0 0M537.30 153.5a1.5 1.5 0 1 0 3.0 0a1.5 1.5 0 1 0 -3.0 0M547.30 107.0a1.5 1.5 0 1 0 3.0 0a1.5 1.5 0 1 0 -3.0 0M547.30 130.6a1.5 1.5 0 1 0 3.0 0a1.5 1.5 0 1 0 -3.0 0M547.30 135.9a1.5 1.5 0 1 0 3.0 0a1.5 1.5 0 1 0 -3.0 0M547.30 138.8a1.5 1.5 0 1 0 3.0 0a1.5 1.5 0 1 0 -3.0 0M547.30 146.6a1.5 1.5 0 1 0 3.0 0a1.5 1.5 0 1 0 -3.0 0M547.30 148.5a1.5 1.5 0 1 0 3.0 0a1.5 1.5 0 1 0 -3.0 0M547.30 150.4a1.5 1.5 0 1 0 3.0 0a1.5 1.5 0 1 0 -3.0 0M556.80 96.6a1.5 1.5 0 1 0 3.0 0a1.5 1.5 0 1 0 -3.0 0M556.80 102.0a1.5 1.5 0 1 0 3.0 0a1.5 1.5 0 1 0 -3.0 0M556.80 119.4a1.5 1.5 0 1 0 3.0 0a1.5 1.5 0 1 0 -3.0 0M556.80 129.1a1.5 1.5 0 1 0 3.0 0a1.5 1.5 0 1 0 -3.0 0M556.80 131.0a1.5 1.5 0 1 0 3.0 0a1.5 1.5 0 1 0 -3.0 0M556.80 135.9a1.5 1.5 0 1 0 3.0 0a1.5 1.5 0 1 0 -3.0 0M556.80 138.8a1.5 1.5 0 1 0 3.0 0a1.5 1.5 0 1 0 -3.0 0M556.80 143.2a1.5 1.5 0 1 0 3.0 0a1.5 1.5 0 1 0 -3.0 0M556.80 147.5a1.5 1.5 0 1 0 3.0 0a1.5 1.5 0 1 0 -3.0 0M556.80 155.3a1.5 1.5 0 1 0 3.0 0a1.5 1.5 0 1 0 -3.0 0M567.30 87.4a1.5 1.5 0 1 0 3.0 0a1.5 1.5 0 1 0 -3.0 0M567.30 104.9a1.5 1.5 0 1 0 3.0 0a1.5 1.5 0 1 0 -3.0 0M567.30 119.9a1.5 1.5 0 1 0 3.0 0a1.5 1.5 0 1 0 -3.0 0M567.30 122.8a1.5 1.5 0 1 0 3.0 0a1.5 1.5 0 1 0 -3.0 0M567.30 125.2a1.5 1.5 0 1 0 3.0 0a1.5 1.5 0 1 0 -3.0 0M567.30 127.2a1.5 1.5 0 1 0 3.0 0a1.5 1.5 0 1 0 -3.0 0M567.30 138.8a1.5 1.5 0 1 0 3.0 0a1.5 1.5 0 1 0 -3.0 0M567.30 146.6a1.5 1.5 0 1 0 3.0 0a1.5 1.5 0 1 0 -3.0 0M567.30 150.9a1.5 1.5 0 1 0 3.0 0a1.5 1.5 0 1 0 -3.0 0M567.30 156.0a1.5 1.5 0 1 0 3.0 0a1.5 1.5 0 1 0 -3.0 0M578.10 79.5a1.5 1.5 0 1 0 3.0 0a1.5 1.5 0 1 0 -3.0 0M578.10 87.2a1.5 1.5 0 1 0 3.0 0a1.5 1.5 0 1 0 -3.0 0M578.10 105.4a1.5 1.5 0 1 0 3.0 0a1.5 1.5 0 1 0 -3.0 0M578.10 110.7a1.5 1.5 0 1 0 3.0 0a1.5 1.5 0 1 0 -3.0 0M578.10 111.5a1.5 1.5 0 1 0 3.0 0a1.5 1.5 0 1 0 -3.0 0M578.10 116.3a1.5 1.5 0 1 0 3.0 0a1.5 1.5 0 1 0 -3.0 0M578.10 123.1a1.5 1.5 0 1 0 3.0 0a1.5 1.5 0 1 0 -3.0 0M578.10 132.5a1.5 1.5 0 1 0 3.0 0a1.5 1.5 0 1 0 -3.0 0M578.10 147.5a1.5 1.5 0 1 0 3.0 0a1.5 1.5 0 1 0 -3.0 0M578.10 148.5a1.5 1.5 0 1 0 3.0 0a1.5 1.5 0 1 0 -3.0 0M586.70 76.3a1.5 1.5 0 1 0 3.0 0a1.5 1.5 0 1 0 -3.0 0M586.70 94.0a1.5 1.5 0 1 0 3.0 0a1.5 1.5 0 1 0 -3.0 0M586.70 99.1a1.5 1.5 0 1 0 3.0 0a1.5 1.5 0 1 0 -3.0 0M586.70 103.4a1.5 1.5 0 1 0 3.0 0a1.5 1.5 0 1 0 -3.0 0M586.70 105.7a1.5 1.5 0 1 0 3.0 0a1.5 1.5 0 1 0 -3.0 0M586.70 109.2a1.5 1.5 0 1 0 3.0 0a1.5 1.5 0 1 0 -3.0 0M586.70 116.3a1.5 1.5 0 1 0 3.0 0a1.5 1.5 0 1 0 -3.0 0M586.70 136.9a1.5 1.5 0 1 0 3.0 0a1.5 1.5 0 1 0 -3.0 0M586.70 141.5a1.5 1.5 0 1 0 3.0 0a1.5 1.5 0 1 0 -3.0 0M586.70 147.2a1.5 1.5 0 1 0 3.0 0a1.5 1.5 0 1 0 -3.0 0M586.70 156.2a1.5 1.5 0 1 0 3.0 0a1.5 1.5 0 1 0 -3.0 0M597.20 64.0a1.5 1.5 0 1 0 3.0 0a1.5 1.5 0 1 0 -3.0 0M597.20 70.4a1.5 1.5 0 1 0 3.0 0a1.5 1.5 0 1 0 -3.0 0M597.20 84.1a1.5 1.5 0 1 0 3.0 0a1.5 1.5 0 1 0 -3.0 0M597.20 90.4a1.5 1.5 0 1 0 3.0 0a1.5 1.5 0 1 0 -3.0 0M597.20 92.5a1.5 1.5 0 1 0 3.0 0a1.5 1.5 0 1 0 -3.0 0M597.20 97.9a1.5 1.5 0 1 0 3.0 0a1.5 1.5 0 1 0 -3.0 0M597.20 114.3a1.5 1.5 0 1 0 3.0 0a1.5 1.5 0 1 0 -3.0 0M597.20 116.7a1.5 1.5 0 1 0 3.0 0a1.5 1.5 0 1 0 -3.0 0M597.20 135.0a1.5 1.5 0 1 0 3.0 0a1.5 1.5 0 1 0 -3.0 0M597.20 151.4a1.5 1.5 0 1 0 3.0 0a1.5 1.5 0 1 0 -3.0 0M607.40 54.8a1.5 1.5 0 1 0 3.0 0a1.5 1.5 0 1 0 -3.0 0M607.40 65.6a1.5 1.5 0 1 0 3.0 0a1.5 1.5 0 1 0 -3.0 0M607.40 78.8a1.5 1.5 0 1 0 3.0 0a1.5 1.5 0 1 0 -3.0 0M607.40 86.2a1.5 1.5 0 1 0 3.0 0a1.5 1.5 0 1 0 -3.0 0M607.40 87.1a1.5 1.5 0 1 0 3.0 0a1.5 1.5 0 1 0 -3.0 0M607.40 94.6a1.5 1.5 0 1 0 3.0 0a1.5 1.5 0 1 0 -3.0 0M607.40 110.1a1.5 1.5 0 1 0 3.0 0a1.5 1.5 0 1 0 -3.0 0M607.40 114.3a1.5 1.5 0 1 0 3.0 0a1.5 1.5 0 1 0 -3.0 0M607.40 143.6a1.5 1.5 0 1 0 3.0 0a1.5 1.5 0 1 0 -3.0 0M607.40 151.4a1.5 1.5 0 1 0 3.0 0a1.5 1.5 0 1 0 -3.0 0M607.40 153.6a1.5 1.5 0 1 0 3.0 0a1.5 1.5 0 1 0 -3.0 0M618.70 46.1a1.5 1.5 0 1 0 3.0 0a1.5 1.5 0 1 0 -3.0 0M618.70 66.4a1.5 1.5 0 1 0 3.0 0a1.5 1.5 0 1 0 -3.0 0M618.70 68.0a1.5 1.5 0 1 0 3.0 0a1.5 1.5 0 1 0 -3.0 0M618.70 71.8a1.5 1.5 0 1 0 3.0 0a1.5 1.5 0 1 0 -3.0 0M618.70 81.4a1.5 1.5 0 1 0 3.0 0a1.5 1.5 0 1 0 -3.0 0M618.70 82.6a1.5 1.5 0 1 0 3.0 0a1.5 1.5 0 1 0 -3.0 0M618.70 88.3a1.5 1.5 0 1 0 3.0 0a1.5 1.5 0 1 0 -3.0 0M618.70 109.5a1.5 1.5 0 1 0 3.0 0a1.5 1.5 0 1 0 -3.0 0M618.70 111.7a1.5 1.5 0 1 0 3.0 0a1.5 1.5 0 1 0 -3.0 0M618.70 114.3a1.5 1.5 0 1 0 3.0 0a1.5 1.5 0 1 0 -3.0 0M618.70 142.8a1.5 1.5 0 1 0 3.0 0a1.5 1.5 0 1 0 -3.0 0M618.70 160.4a1.5 1.5 0 1 0 3.0 0a1.5 1.5 0 1 0 -3.0 0M618.70 178.4a1.5 1.5 0 1 0 3.0 0a1.5 1.5 0 1 0 -3.0 0M627.80 40.1a1.5 1.5 0 1 0 3.0 0a1.5 1.5 0 1 0 -3.0 0M627.80 64.6a1.5 1.5 0 1 0 3.0 0a1.5 1.5 0 1 0 -3.0 0M627.80 68.5a1.5 1.5 0 1 0 3.0 0a1.5 1.5 0 1 0 -3.0 0M627.80 73.3a1.5 1.5 0 1 0 3.0 0a1.5 1.5 0 1 0 -3.0 0M627.80 79.0a1.5 1.5 0 1 0 3.0 0a1.5 1.5 0 1 0 -3.0 0M627.80 88.6a1.5 1.5 0 1 0 3.0 0a1.5 1.5 0 1 0 -3.0 0M627.80 97.0a1.5 1.5 0 1 0 3.0 0a1.5 1.5 0 1 0 -3.0 0M627.80 110.5a1.5 1.5 0 1 0 3.0 0a1.5 1.5 0 1 0 -3.0 0M627.80 117.9a1.5 1.5 0 1 0 3.0 0a1.5 1.5 0 1 0 -3.0 0M627.80 130.8a1.5 1.5 0 1 0 3.0 0a1.5 1.5 0 1 0 -3.0 0M627.80 155.6a1.5 1.5 0 1 0 3.0 0a1.5 1.5 0 1 0 -3.0 0M627.80 161.2a1.5 1.5 0 1 0 3.0 0a1.5 1.5 0 1 0 -3.0 0M637.50 35.3a1.5 1.5 0 1 0 3.0 0a1.5 1.5 0 1 0 -3.0 0M637.50 59.3a1.5 1.5 0 1 0 3.0 0a1.5 1.5 0 1 0 -3.0 0M637.50 69.2a1.5 1.5 0 1 0 3.0 0a1.5 1.5 0 1 0 -3.0 0M637.50 77.8a1.5 1.5 0 1 0 3.0 0a1.5 1.5 0 1 0 -3.0 0M637.50 78.4a1.5 1.5 0 1 0 3.0 0a1.5 1.5 0 1 0 -3.0 0M637.50 83.6a1.5 1.5 0 1 0 3.0 0a1.5 1.5 0 1 0 -3.0 0M637.50 89.5a1.5 1.5 0 1 0 3.0 0a1.5 1.5 0 1 0 -3.0 0M637.50 122.1a1.5 1.5 0 1 0 3.0 0a1.5 1.5 0 1 0 -3.0 0M637.50 126.5a1.5 1.5 0 1 0 3.0 0a1.5 1.5 0 1 0 -3.0 0M637.50 138.9a1.5 1.5 0 1 0 3.0 0a1.5 1.5 0 1 0 -3.0 0M637.50 154.4a1.5 1.5 0 1 0 3.0 0a1.5 1.5 0 1 0 -3.0 0M648.60 25.5a1.5 1.5 0 1 0 3.0 0a1.5 1.5 0 1 0 -3.0 0M648.60 53.0a1.5 1.5 0 1 0 3.0 0a1.5 1.5 0 1 0 -3.0 0M648.60 71.5a1.5 1.5 0 1 0 3.0 0a1.5 1.5 0 1 0 -3.0 0M648.60 75.4a1.5 1.5 0 1 0 3.0 0a1.5 1.5 0 1 0 -3.0 0M648.60 98.5a1.5 1.5 0 1 0 3.0 0a1.5 1.5 0 1 0 -3.0 0M648.60 113.5a1.5 1.5 0 1 0 3.0 0a1.5 1.5 0 1 0 -3.0 0M648.60 123.7a1.5 1.5 0 1 0 3.0 0a1.5 1.5 0 1 0 -3.0 0M648.60 149.6a1.5 1.5 0 1 0 3.0 0a1.5 1.5 0 1 0 -3.0 0M658.80 28.5a1.5 1.5 0 1 0 3.0 0a1.5 1.5 0 1 0 -3.0 0M658.80 50.0a1.5 1.5 0 1 0 3.0 0a1.5 1.5 0 1 0 -3.0 0M658.80 84.8a1.5 1.5 0 1 0 3.0 0a1.5 1.5 0 1 0 -3.0 0M658.80 101.8a1.5 1.5 0 1 0 3.0 0a1.5 1.5 0 1 0 -3.0 0M658.80 117.1a1.5 1.5 0 1 0 3.0 0a1.5 1.5 0 1 0 -3.0 0M658.80 122.5a1.5 1.5 0 1 0 3.0 0a1.5 1.5 0 1 0 -3.0 0M658.80 148.2a1.5 1.5 0 1 0 3.0 0a1.5 1.5 0 1 0 -3.0 0" stroke="#0000ff" stroke-width="0.75" fill="none"/></g>
<g clip-path="url(#cTRp)"><path d="M427.3 266.9V278.9M427.3 268.9V280.9M436.8 277.9V287.9M436.8 281.2V291.2M436.8 305.4V315.4M436.8 334.1V346.1M447.5 283.4V293.4M447.5 300.1V310.1M447.5 309.1V321.1M447.5 309.6V321.6M447.5 319.3V331.3M447.5 330.4V342.4M458.8 287.3V297.3M458.8 304.0V316.0M458.8 310.0V322.0M458.8 315.1V327.1M458.8 322.2V334.2M458.8 324.1V336.1M466.5 291.0V301.0M466.5 306.9V318.9M466.5 312.5V324.5M466.5 319.4V331.4M466.5 326.5V338.5M466.5 331.6V343.6M477.2 297.3V307.3M477.2 301.8V313.8M477.2 312.0V324.0M477.2 313.4V325.4M477.2 323.1V335.1M477.2 327.3V339.3M477.2 328.9V340.9M487.8 306.5V318.5M487.8 309.4V321.4M487.8 311.3V323.3M487.8 314.7V326.7M487.8 316.6V328.6M487.8 319.5V331.5M487.8 332.1V344.1M487.8 333.3V345.3M498.9 307.9V319.9M498.9 309.4V321.4M498.9 312.8V324.8M498.9 317.6V329.6M498.9 320.5V332.5M498.9 322.4V334.4M498.9 325.4V337.4M498.9 328.3V340.3M498.9 335.5V347.5M498.9 339.4V351.4M508.4 307.4V319.4M508.4 310.8V322.8M508.4 313.7V325.7M508.4 316.2V328.2M508.4 322.0V334.0M508.4 323.9V335.9M508.4 326.8V338.8M508.4 330.0V342.0M508.4 338.4V350.4M508.4 347.6V359.6M518.3 308.7V320.7M518.3 314.2V326.2M518.3 318.1V330.1M518.3 321.0V333.0M518.3 326.3V338.3M518.3 332.9V344.9M518.3 337.5V349.5M518.3 338.7V350.7M518.3 350.6V362.6M518.3 352.0V364.0M527.8 311.3V323.3M527.8 312.8V324.8M527.8 324.4V336.4M527.8 332.6V344.6M527.8 338.4V350.4M527.8 339.9V351.9M527.8 343.8V355.8M527.8 348.1V360.1M527.8 361.7V373.7M527.8 362.5V374.5M538.8 311.3V323.3M538.8 314.7V326.7M538.8 321.5V333.5M538.8 326.8V338.8M538.8 334.6V346.6M538.8 344.7V356.7M538.8 350.1V362.1M538.8 353.5V365.5M538.8 363.4V375.4M538.8 375.4V387.4M548.8 308.4V320.4M548.8 322.0V334.0M548.8 324.4V336.4M548.8 326.8V338.8M548.8 332.9V344.9M548.8 350.6V362.6M548.8 353.0V365.0M548.8 358.3V370.3M548.8 360.2V372.2M548.8 361.7V373.7M548.8 370.7V382.7M548.8 371.1V383.1M548.8 389.2V401.2M558.3 317.6V329.6M558.3 320.7V332.7M558.3 326.3V338.3M558.3 339.4V351.4M558.3 357.3V369.3M558.3 365.3V377.3M558.3 369.3V381.3M558.3 371.1V383.1M558.3 378.7V390.7M558.3 390.4V402.4M558.3 398.8V410.8M568.8 294.8V306.8M568.8 297.7V309.7M568.8 313.5V325.5M568.8 327.3V339.3M568.8 340.4V352.4M568.8 344.5V356.5M568.8 361.7V373.7M568.8 365.4V377.4M568.8 374.8V386.8M568.8 382.9V394.9M568.8 385.6V397.6M568.8 388.3V400.3M568.8 401.2V413.2M579.6 294.3V306.3M579.6 304.2V316.2M579.6 308.4V320.4M579.6 321.2V333.2M579.6 342.3V354.3M579.6 349.4V361.4M579.6 361.5V373.5M579.6 373.9V385.9M579.6 379.3V391.3M579.6 384.3V396.3M579.6 401.6V413.6M588.2 278.4V286.4M588.2 312.8V324.8M588.2 315.9V327.9M588.2 319.1V331.1M588.2 334.1V346.1M588.2 349.8V361.8M588.2 357.8V369.8M588.2 361.2V373.2M588.2 371.6V383.6M588.2 379.3V391.3M588.2 380.2V392.2M588.2 384.3V396.3M588.2 397.6V409.6M598.7 285.4V297.4M598.7 298.5V310.5M598.7 313.5V325.5M598.7 327.8V339.8M598.7 352.5V364.5M598.7 355.4V367.4M598.7 364.4V376.4M598.7 371.0V383.0M598.7 377.7V389.7M598.7 386.1V398.1M608.9 292.7V304.7M608.9 301.8V313.8M608.9 303.4V315.4M608.9 313.8V325.8M608.9 325.9V337.9M608.9 329.5V341.5M608.9 335.7V347.7M608.9 346.1V358.1M608.9 356.4V368.4M608.9 358.6V370.6M608.9 363.6V375.6M608.9 370.1V382.1M608.9 377.6V389.6M620.2 302.1V314.1M620.2 309.1V321.1M620.2 319.8V331.8M620.2 323.7V335.7M620.2 325.1V337.1M620.2 329.7V341.7M620.2 341.2V353.2M620.2 343.7V355.7M620.2 352.7V364.7M620.2 362.2V374.2M629.3 284.6V292.6M629.3 317.3V329.3M629.3 323.1V335.1M629.3 326.4V338.4M629.3 333.5V345.5M629.3 335.7V347.7M629.3 338.7V350.7M629.3 345.9V357.9M629.3 348.3V360.3M629.3 353.6V365.6M629.3 378.1V390.1M639.0 304.5V316.5M639.0 309.2V321.2M639.0 318.7V330.7M639.0 322.0V334.0M639.0 324.2V336.2M639.0 342.6V354.6M639.0 345.6V357.6M639.0 358.6V370.6M639.0 363.0V375.0M650.1 300.9V310.9M650.1 314.4V326.4M650.1 323.7V335.7M650.1 328.1V340.1M650.1 332.4V344.4M650.1 335.0V347.0M660.3 287.4V297.4M660.3 296.3V308.3M660.3 298.2V310.2M660.3 302.5V314.5M660.3 312.0V324.0M660.3 326.2V338.2M660.3 330.2V342.2" stroke="#0000ff" stroke-width="0.65" stroke-opacity="1" fill="none"/><path d="M425.80 272.9a1.5 1.5 0 1 0 3.0 0a1.5 1.5 0 1 0 -3.0 0M425.80 274.9a1.5 1.5 0 1 0 3.0 0a1.5 1.5 0 1 0 -3.0 0M435.30 282.9a1.5 1.5 0 1 0 3.0 0a1.5 1.5 0 1 0 -3.0 0M435.30 286.2a1.5 1.5 0 1 0 3.0 0a1.5 1.5 0 1 0 -3.0 0M435.30 310.4a1.5 1.5 0 1 0 3.0 0a1.5 1.5 0 1 0 -3.0 0M435.30 340.1a1.5 1.5 0 1 0 3.0 0a1.5 1.5 0 1 0 -3.0 0M446.00 288.4a1.5 1.5 0 1 0 3.0 0a1.5 1.5 0 1 0 -3.0 0M446.00 305.1a1.5 1.5 0 1 0 3.0 0a1.5 1.5 0 1 0 -3.0 0M446.00 315.1a1.5 1.5 0 1 0 3.0 0a1.5 1.5 0 1 0 -3.0 0M446.00 315.6a1.5 1.5 0 1 0 3.0 0a1.5 1.5 0 1 0 -3.0 0M446.00 325.3a1.5 1.5 0 1 0 3.0 0a1.5 1.5 0 1 0 -3.0 0M446.00 336.4a1.5 1.5 0 1 0 3.0 0a1.5 1.5 0 1 0 -3.0 0M457.30 292.3a1.5 1.5 0 1 0 3.0 0a1.5 1.5 0 1 0 -3.0 0M457.30 310.0a1.5 1.5 0 1 0 3.0 0a1.5 1.5 0 1 0 -3.0 0M457.30 316.0a1.5 1.5 0 1 0 3.0 0a1.5 1.5 0 1 0 -3.0 0M457.30 321.1a1.5 1.5 0 1 0 3.0 0a1.5 1.5 0 1 0 -3.0 0M457.30 328.2a1.5 1.5 0 1 0 3.0 0a1.5 1.5 0 1 0 -3.0 0M457.30 330.1a1.5 1.5 0 1 0 3.0 0a1.5 1.5 0 1 0 -3.0 0M465.00 296.0a1.5 1.5 0 1 0 3.0 0a1.5 1.5 0 1 0 -3.0 0M465.00 312.9a1.5 1.5 0 1 0 3.0 0a1.5 1.5 0 1 0 -3.0 0M465.00 318.5a1.5 1.5 0 1 0 3.0 0a1.5 1.5 0 1 0 -3.0 0M465.00 325.4a1.5 1.5 0 1 0 3.0 0a1.5 1.5 0 1 0 -3.0 0M465.00 332.5a1.5 1.5 0 1 0 3.0 0a1.5 1.5 0 1 0 -3.0 0M465.00 337.6a1.5 1.5 0 1 0 3.0 0a1.5 1.5 0 1 0 -3.0 0M475.70 302.3a1.5 1.5 0 1 0 3.0 0a1.5 1.5 0 1 0 -3.0 0M475.70 307.8a1.5 1.5 0 1 0 3.0 0a1.5 1.5 0 1 0 -3.0 0M475.70 318.0a1.5 1.5 0 1 0 3.0 0a1.5 1.5 0 1 0 -3.0 0M475.70 319.4a1.5 1.5 0 1 0 3.0 0a1.5 1.5 0 1 0 -3.0 0M475.70 329.1a1.5 1.5 0 1 0 3.0 0a1.5 1.5 0 1 0 -3.0 0M475.70 333.3a1.5 1.5 0 1 0 3.0 0a1.5 1.5 0 1 0 -3.0 0M475.70 334.9a1.5 1.5 0 1 0 3.0 0a1.5 1.5 0 1 0 -3.0 0M486.30 312.5a1.5 1.5 0 1 0 3.0 0a1.5 1.5 0 1 0 -3.0 0M486.30 315.4a1.5 1.5 0 1 0 3.0 0a1.5 1.5 0 1 0 -3.0 0M486.30 317.3a1.5 1.5 0 1 0 3.0 0a1.5 1.5 0 1 0 -3.0 0M486.30 320.7a1.5 1.5 0 1 0 3.0 0a1.5 1.5 0 1 0 -3.0 0M486.30 322.6a1.5 1.5 0 1 0 3.0 0a1.5 1.5 0 1 0 -3.0 0M486.30 325.5a1.5 1.5 0 1 0 3.0 0a1.5 1.5 0 1 0 -3.0 0M486.30 338.1a1.5 1.5 0 1 0 3.0 0a1.5 1.5 0 1 0 -3.0 0M486.30 339.3a1.5 1.5 0 1 0 3.0 0a1.5 1.5 0 1 0 -3.0 0M497.40 313.9a1.5 1.5 0 1 0 3.0 0a1.5 1.5 0 1 0 -3.0 0M497.40 315.4a1.5 1.5 0 1 0 3.0 0a1.5 1.5 0 1 0 -3.0 0M497.40 318.8a1.5 1.5 0 1 0 3.0 0a1.5 1.5 0 1 0 -3.0 0M497.40 323.6a1.5 1.5 0 1 0 3.0 0a1.5 1.5 0 1 0 -3.0 0M497.40 326.5a1.5 1.5 0 1 0 3.0 0a1.5 1.5 0 1 0 -3.0 0M497.40 328.4a1.5 1.5 0 1 0 3.0 0a1.5 1.5 0 1 0 -3.0 0M497.40 331.4a1.5 1.5 0 1 0 3.0 0a1.5 1.5 0 1 0 -3.0 0M497.40 334.3a1.5 1.5 0 1 0 3.0 0a1.5 1.5 0 1 0 -3.0 0M497.40 341.5a1.5 1.5 0 1 0 3.0 0a1.5 1.5 0 1 0 -3.0 0M497.40 345.4a1.5 1.5 0 1 0 3.0 0a1.5 1.5 0 1 0 -3.0 0M506.90 313.4a1.5 1.5 0 1 0 3.0 0a1.5 1.5 0 1 0 -3.0 0M506.90 316.8a1.5 1.5 0 1 0 3.0 0a1.5 1.5 0 1 0 -3.0 0M506.90 319.7a1.5 1.5 0 1 0 3.0 0a1.5 1.5 0 1 0 -3.0 0M506.90 322.2a1.5 1.5 0 1 0 3.0 0a1.5 1.5 0 1 0 -3.0 0M506.90 328.0a1.5 1.5 0 1 0 3.0 0a1.5 1.5 0 1 0 -3.0 0M506.90 329.9a1.5 1.5 0 1 0 3.0 0a1.5 1.5 0 1 0 -3.0 0M506.90 332.8a1.5 1.5 0 1 0 3.0 0a1.5 1.5 0 1 0 -3.0 0M506.90 336.0a1.5 1.5 0 1 0 3.0 0a1.5 1.5 0 1 0 -3.0 0M506.90 344.4a1.5 1.5 0 1 0 3.0 0a1.5 1.5 0 1 0 -3.0 0M506.90 353.6a1.5 1.5 0 1 0 3.0 0a1.5 1.5 0 1 0 -3.0 0M516.80 314.7a1.5 1.5 0 1 0 3.0 0a1.5 1.5 0 1 0 -3.0 0M516.80 320.2a1.5 1.5 0 1 0 3.0 0a1.5 1.5 0 1 0 -3.0 0M516.80 324.1a1.5 1.5 0 1 0 3.0 0a1.5 1.5 0 1 0 -3.0 0M516.80 327.0a1.5 1.5 0 1 0 3.0 0a1.5 1.5 0 1 0 -3.0 0M516.80 332.3a1.5 1.5 0 1 0 3.0 0a1.5 1.5 0 1 0 -3.0 0M516.80 338.9a1.5 1.5 0 1 0 3.0 0a1.5 1.5 0 1 0 -3.0 0M516.80 343.5a1.5 1.5 0 1 0 3.0 0a1.5 1.5 0 1 0 -3.0 0M516.80 344.7a1.5 1.5 0 1 0 3.0 0a1.5 1.5 0 1 0 -3.0 0M516.80 356.6a1.5 1.5 0 1 0 3.0 0a1.5 1.5 0 1 0 -3.0 0M516.80 358.0a1.5 1.5 0 1 0 3.0 0a1.5 1.5 0 1 0 -3.0 0M526.30 317.3a1.5 1.5 0 1 0 3.0 0a1.5 1.5 0 1 0 -3.0 0M526.30 318.8a1.5 1.5 0 1 0 3.0 0a1.5 1.5 0 1 0 -3.0 0M526.30 330.4a1.5 1.5 0 1 0 3.0 0a1.5 1.5 0 1 0 -3.0 0M526.30 338.6a1.5 1.5 0 1 0 3.0 0a1.5 1.5 0 1 0 -3.0 0M526.30 344.4a1.5 1.5 0 1 0 3.0 0a1.5 1.5 0 1 0 -3.0 0M526.30 345.9a1.5 1.5 0 1 0 3.0 0a1.5 1.5 0 1 0 -3.0 0M526.30 349.8a1.5 1.5 0 1 0 3.0 0a1.5 1.5 0 1 0 -3.0 0M526.30 354.1a1.5 1.5 0 1 0 3.0 0a1.5 1.5 0 1 0 -3.0 0M526.30 367.7a1.5 1.5 0 1 0 3.0 0a1.5 1.5 0 1 0 -3.0 0M526.30 368.5a1.5 1.5 0 1 0 3.0 0a1.5 1.5 0 1 0 -3.0 0M537.30 317.3a1.5 1.5 0 1 0 3.0 0a1.5 1.5 0 1 0 -3.0 0M537.30 320.7a1.5 1.5 0 1 0 3.0 0a1.5 1.5 0 1 0 -3.0 0M537.30 327.5a1.5 1.5 0 1 0 3.0 0a1.5 1.5 0 1 0 -3.0 0M537.30 332.8a1.5 1.5 0 1 0 3.0 0a1.5 1.5 0 1 0 -3.0 0M537.30 340.6a1.5 1.5 0 1 0 3.0 0a1.5 1.5 0 1 0 -3.0 0M537.30 350.7a1.5 1.5 0 1 0 3.0 0a1.5 1.5 0 1 0 -3.0 0M537.30 356.1a1.5 1.5 0 1 0 3.0 0a1.5 1.5 0 1 0 -3.0 0M537.30 359.5a1.5 1.5 0 1 0 3.0 0a1.5 1.5 0 1 0 -3.0 0M537.30 369.4a1.5 1.5 0 1 0 3.0 0a1.5 1.5 0 1 0 -3.0 0M537.30 381.4a1.5 1.5 0 1 0 3.0 0a1.5 1.5 0 1 0 -3.0 0M547.30 314.4a1.5 1.5 0 1 0 3.0 0a1.5 1.5 0 1 0 -3.0 0M547.30 328.0a1.5 1.5 0 1 0 3.0 0a1.5 1.5 0 1 0 -3.0 0M547.30 330.4a1.5 1.5 0 1 0 3.0 0a1.5 1.5 0 1 0 -3.0 0M547.30 332.8a1.5 1.5 0 1 0 3.0 0a1.5 1.5 0 1 0 -3.0 0M547.30 338.9a1.5 1.5 0 1 0 3.0 0a1.5 1.5 0 1 0 -3.0 0M547.30 356.6a1.5 1.5 0 1 0 3.0 0a1.5 1.5 0 1 0 -3.0 0M547.30 359.0a1.5 1.5 0 1 0 3.0 0a1.5 1.5 0 1 0 -3.0 0M547.30 364.3a1.5 1.5 0 1 0 3.0 0a1.5 1.5 0 1 0 -3.0 0M547.30 366.2a1.5 1.5 0 1 0 3.0 0a1.5 1.5 0 1 0 -3.0 0M547.30 367.7a1.5 1.5 0 1 0 3.0 0a1.5 1.5 0 1 0 -3.0 0M547.30 376.7a1.5 1.5 0 1 0 3.0 0a1.5 1.5 0 1 0 -3.0 0M547.30 377.1a1.5 1.5 0 1 0 3.0 0a1.5 1.5 0 1 0 -3.0 0M547.30 395.2a1.5 1.5 0 1 0 3.0 0a1.5 1.5 0 1 0 -3.0 0M556.80 323.6a1.5 1.5 0 1 0 3.0 0a1.5 1.5 0 1 0 -3.0 0M556.80 326.7a1.5 1.5 0 1 0 3.0 0a1.5 1.5 0 1 0 -3.0 0M556.80 332.3a1.5 1.5 0 1 0 3.0 0a1.5 1.5 0 1 0 -3.0 0M556.80 345.4a1.5 1.5 0 1 0 3.0 0a1.5 1.5 0 1 0 -3.0 0M556.80 363.3a1.5 1.5 0 1 0 3.0 0a1.5 1.5 0 1 0 -3.0 0M556.80 371.3a1.5 1.5 0 1 0 3.0 0a1.5 1.5 0 1 0 -3.0 0M556.80 375.3a1.5 1.5 0 1 0 3.0 0a1.5 1.5 0 1 0 -3.0 0M556.80 377.1a1.5 1.5 0 1 0 3.0 0a1.5 1.5 0 1 0 -3.0 0M556.80 384.7a1.5 1.5 0 1 0 3.0 0a1.5 1.5 0 1 0 -3.0 0M556.80 396.4a1.5 1.5 0 1 0 3.0 0a1.5 1.5 0 1 0 -3.0 0M556.80 404.8a1.5 1.5 0 1 0 3.0 0a1.5 1.5 0 1 0 -3.0 0M567.30 300.8a1.5 1.5 0 1 0 3.0 0a1.5 1.5 0 1 0 -3.0 0M567.30 303.7a1.5 1.5 0 1 0 3.0 0a1.5 1.5 0 1 0 -3.0 0M567.30 319.5a1.5 1.5 0 1 0 3.0 0a1.5 1.5 0 1 0 -3.0 0M567.30 333.3a1.5 1.5 0 1 0 3.0 0a1.5 1.5 0 1 0 -3.0 0M567.30 346.4a1.5 1.5 0 1 0 3.0 0a1.5 1.5 0 1 0 -3.0 0M567.30 350.5a1.5 1.5 0 1 0 3.0 0a1.5 1.5 0 1 0 -3.0 0M567.30 367.7a1.5 1.5 0 1 0 3.0 0a1.5 1.5 0 1 0 -3.0 0M567.30 371.4a1.5 1.5 0 1 0 3.0 0a1.5 1.5 0 1 0 -3.0 0M567.30 380.8a1.5 1.5 0 1 0 3.0 0a1.5 1.5 0 1 0 -3.0 0M567.30 388.9a1.5 1.5 0 1 0 3.0 0a1.5 1.5 0 1 0 -3.0 0M567.30 391.6a1.5 1.5 0 1 0 3.0 0a1.5 1.5 0 1 0 -3.0 0M567.30 394.3a1.5 1.5 0 1 0 3.0 0a1.5 1.5 0 1 0 -3.0 0M567.30 407.2a1.5 1.5 0 1 0 3.0 0a1.5 1.5 0 1 0 -3.0 0M578.10 300.3a1.5 1.5 0 1 0 3.0 0a1.5 1.5 0 1 0 -3.0 0M578.10 310.2a1.5 1.5 0 1 0 3.0 0a1.5 1.5 0 1 0 -3.0 0M578.10 314.4a1.5 1.5 0 1 0 3.0 0a1.5 1.5 0 1 0 -3.0 0M578.10 327.2a1.5 1.5 0 1 0 3.0 0a1.5 1.5 0 1 0 -3.0 0M578.10 348.3a1.5 1.5 0 1 0 3.0 0a1.5 1.5 0 1 0 -3.0 0M578.10 355.4a1.5 1.5 0 1 0 3.0 0a1.5 1.5 0 1 0 -3.0 0M578.10 367.5a1.5 1.5 0 1 0 3.0 0a1.5 1.5 0 1 0 -3.0 0M578.10 379.9a1.5 1.5 0 1 0 3.0 0a1.5 1.5 0 1 0 -3.0 0M578.10 385.3a1.5 1.5 0 1 0 3.0 0a1.5 1.5 0 1 0 -3.0 0M578.10 390.3a1.5 1.5 0 1 0 3.0 0a1.5 1.5 0 1 0 -3.0 0M578.10 407.6a1.5 1.5 0 1 0 3.0 0a1.5 1.5 0 1 0 -3.0 0M586.70 282.4a1.5 1.5 0 1 0 3.0 0a1.5 1.5 0 1 0 -3.0 0M586.70 318.8a1.5 1.5 0 1 0 3.0 0a1.5 1.5 0 1 0 -3.0 0M586.70 321.9a1.5 1.5 0 1 0 3.0 0a1.5 1.5 0 1 0 -3.0 0M586.70 325.1a1.5 1.5 0 1 0 3.0 0a1.5 1.5 0 1 0 -3.0 0M586.70 340.1a1.5 1.5 0 1 0 3.0 0a1.5 1.5 0 1 0 -3.0 0M586.70 355.8a1.5 1.5 0 1 0 3.0 0a1.5 1.5 0 1 0 -3.0 0M586.70 363.8a1.5 1.5 0 1 0 3.0 0a1.5 1.5 0 1 0 -3.0 0M586.70 367.2a1.5 1.5 0 1 0 3.0 0a1.5 1.5 0 1 0 -3.0 0M586.70 377.6a1.5 1.5 0 1 0 3.0 0a1.5 1.5 0 1 0 -3.0 0M586.70 385.3a1.5 1.5 0 1 0 3.0 0a1.5 1.5 0 1 0 -3.0 0M586.70 386.2a1.5 1.5 0 1 0 3.0 0a1.5 1.5 0 1 0 -3.0 0M586.70 390.3a1.5 1.5 0 1 0 3.0 0a1.5 1.5 0 1 0 -3.0 0M586.70 403.6a1.5 1.5 0 1 0 3.0 0a1.5 1.5 0 1 0 -3.0 0M597.20 291.4a1.5 1.5 0 1 0 3.0 0a1.5 1.5 0 1 0 -3.0 0M597.20 304.5a1.5 1.5 0 1 0 3.0 0a1.5 1.5 0 1 0 -3.0 0M597.20 319.5a1.5 1.5 0 1 0 3.0 0a1.5 1.5 0 1 0 -3.0 0M597.20 333.8a1.5 1.5 0 1 0 3.0 0a1.5 1.5 0 1 0 -3.0 0M597.20 358.5a1.5 1.5 0 1 0 3.0 0a1.5 1.5 0 1 0 -3.0 0M597.20 361.4a1.5 1.5 0 1 0 3.0 0a1.5 1.5 0 1 0 -3.0 0M597.20 370.4a1.5 1.5 0 1 0 3.0 0a1.5 1.5 0 1 0 -3.0 0M597.20 377.0a1.5 1.5 0 1 0 3.0 0a1.5 1.5 0 1 0 -3.0 0M597.20 383.7a1.5 1.5 0 1 0 3.0 0a1.5 1.5 0 1 0 -3.0 0M597.20 392.1a1.5 1.5 0 1 0 3.0 0a1.5 1.5 0 1 0 -3.0 0M607.40 298.7a1.5 1.5 0 1 0 3.0 0a1.5 1.5 0 1 0 -3.0 0M607.40 307.8a1.5 1.5 0 1 0 3.0 0a1.5 1.5 0 1 0 -3.0 0M607.40 309.4a1.5 1.5 0 1 0 3.0 0a1.5 1.5 0 1 0 -3.0 0M607.40 319.8a1.5 1.5 0 1 0 3.0 0a1.5 1.5 0 1 0 -3.0 0M607.40 331.9a1.5 1.5 0 1 0 3.0 0a1.5 1.5 0 1 0 -3.0 0M607.40 335.5a1.5 1.5 0 1 0 3.0 0a1.5 1.5 0 1 0 -3.0 0M607.40 341.7a1.5 1.5 0 1 0 3.0 0a1.5 1.5 0 1 0 -3.0 0M607.40 352.1a1.5 1.5 0 1 0 3.0 0a1.5 1.5 0 1 0 -3.0 0M607.40 362.4a1.5 1.5 0 1 0 3.0 0a1.5 1.5 0 1 0 -3.0 0M607.40 364.6a1.5 1.5 0 1 0 3.0 0a1.5 1.5 0 1 0 -3.0 0M607.40 369.6a1.5 1.5 0 1 0 3.0 0a1.5 1.5 0 1 0 -3.0 0M607.40 376.1a1.5 1.5 0 1 0 3.0 0a1.5 1.5 0 1 0 -3.0 0M607.40 383.6a1.5 1.5 0 1 0 3.0 0a1.5 1.5 0 1 0 -3.0 0M618.70 308.1a1.5 1.5 0 1 0 3.0 0a1.5 1.5 0 1 0 -3.0 0M618.70 315.1a1.5 1.5 0 1 0 3.0 0a1.5 1.5 0 1 0 -3.0 0M618.70 325.8a1.5 1.5 0 1 0 3.0 0a1.5 1.5 0 1 0 -3.0 0M618.70 329.7a1.5 1.5 0 1 0 3.0 0a1.5 1.5 0 1 0 -3.0 0M618.70 331.1a1.5 1.5 0 1 0 3.0 0a1.5 1.5 0 1 0 -3.0 0M618.70 335.7a1.5 1.5 0 1 0 3.0 0a1.5 1.5 0 1 0 -3.0 0M618.70 347.2a1.5 1.5 0 1 0 3.0 0a1.5 1.5 0 1 0 -3.0 0M618.70 349.7a1.5 1.5 0 1 0 3.0 0a1.5 1.5 0 1 0 -3.0 0M618.70 358.7a1.5 1.5 0 1 0 3.0 0a1.5 1.5 0 1 0 -3.0 0M618.70 368.2a1.5 1.5 0 1 0 3.0 0a1.5 1.5 0 1 0 -3.0 0M627.80 288.6a1.5 1.5 0 1 0 3.0 0a1.5 1.5 0 1 0 -3.0 0M627.80 323.3a1.5 1.5 0 1 0 3.0 0a1.5 1.5 0 1 0 -3.0 0M627.80 329.1a1.5 1.5 0 1 0 3.0 0a1.5 1.5 0 1 0 -3.0 0M627.80 332.4a1.5 1.5 0 1 0 3.0 0a1.5 1.5 0 1 0 -3.0 0M627.80 339.5a1.5 1.5 0 1 0 3.0 0a1.5 1.5 0 1 0 -3.0 0M627.80 341.7a1.5 1.5 0 1 0 3.0 0a1.5 1.5 0 1 0 -3.0 0M627.80 344.7a1.5 1.5 0 1 0 3.0 0a1.5 1.5 0 1 0 -3.0 0M627.80 351.9a1.5 1.5 0 1 0 3.0 0a1.5 1.5 0 1 0 -3.0 0M627.80 354.3a1.5 1.5 0 1 0 3.0 0a1.5 1.5 0 1 0 -3.0 0M627.80 359.6a1.5 1.5 0 1 0 3.0 0a1.5 1.5 0 1 0 -3.0 0M627.80 384.1a1.5 1.5 0 1 0 3.0 0a1.5 1.5 0 1 0 -3.0 0M637.50 310.5a1.5 1.5 0 1 0 3.0 0a1.5 1.5 0 1 0 -3.0 0M637.50 315.2a1.5 1.5 0 1 0 3.0 0a1.5 1.5 0 1 0 -3.0 0M637.50 324.7a1.5 1.5 0 1 0 3.0 0a1.5 1.5 0 1 0 -3.0 0M637.50 328.0a1.5 1.5 0 1 0 3.0 0a1.5 1.5 0 1 0 -3.0 0M637.50 330.2a1.5 1.5 0 1 0 3.0 0a1.5 1.5 0 1 0 -3.0 0M637.50 348.6a1.5 1.5 0 1 0 3.0 0a1.5 1.5 0 1 0 -3.0 0M637.50 351.6a1.5 1.5 0 1 0 3.0 0a1.5 1.5 0 1 0 -3.0 0M637.50 364.6a1.5 1.5 0 1 0 3.0 0a1.5 1.5 0 1 0 -3.0 0M637.50 369.0a1.5 1.5 0 1 0 3.0 0a1.5 1.5 0 1 0 -3.0 0M648.60 305.9a1.5 1.5 0 1 0 3.0 0a1.5 1.5 0 1 0 -3.0 0M648.60 320.4a1.5 1.5 0 1 0 3.0 0a1.5 1.5 0 1 0 -3.0 0M648.60 329.7a1.5 1.5 0 1 0 3.0 0a1.5 1.5 0 1 0 -3.0 0M648.60 334.1a1.5 1.5 0 1 0 3.0 0a1.5 1.5 0 1 0 -3.0 0M648.60 338.4a1.5 1.5 0 1 0 3.0 0a1.5 1.5 0 1 0 -3.0 0M648.60 341.0a1.5 1.5 0 1 0 3.0 0a1.5 1.5 0 1 0 -3.0 0M658.80 292.4a1.5 1.5 0 1 0 3.0 0a1.5 1.5 0 1 0 -3.0 0M658.80 302.3a1.5 1.5 0 1 0 3.0 0a1.5 1.5 0 1 0 -3.0 0M658.80 304.2a1.5 1.5 0 1 0 3.0 0a1.5 1.5 0 1 0 -3.0 0M658.80 308.5a1.5 1.5 0 1 0 3.0 0a1.5 1.5 0 1 0 -3.0 0M658.80 318.0a1.5 1.5 0 1 0 3.0 0a1.5 1.5 0 1 0 -3.0 0M658.80 332.2a1.5 1.5 0 1 0 3.0 0a1.5 1.5 0 1 0 -3.0 0M658.80 336.2a1.5 1.5 0 1 0 3.0 0a1.5 1.5 0 1 0 -3.0 0" stroke="#0000ff" stroke-width="0.75" fill="none"/></g>
<g clip-path="url(#cBLr)"><path d="M89.7 621.4V629.4M101.0 624.2V632.2M130.0 588.6V596.0M130.0 617.8V625.2M130.0 621.8V629.2M130.0 622.6V630.0M130.0 647.3V654.7M141.1 569.4V576.8M141.1 605.8V613.2M141.1 619.8V627.2M141.1 620.7V628.1M141.1 635.0V642.4M150.6 567.2V574.6M150.6 585.4V592.8M150.6 604.0V611.4M150.6 607.9V615.3M150.6 613.5V620.9M150.6 617.5V624.9M150.6 618.4V625.8M150.6 626.4V633.8M160.5 552.0V559.4M160.5 576.7V584.1M160.5 596.7V604.1M160.5 598.8V606.2M160.5 600.7V608.1M160.5 602.6V610.0M160.5 604.5V611.9M160.5 610.3V617.7M160.5 621.6V629.0M170.0 542.0V549.4M170.0 563.8V571.2M170.0 586.1V593.5M170.0 590.4V597.8M170.0 594.8V602.2M170.0 599.7V607.1M170.0 601.2V608.6M170.0 643.1V650.5M181.0 538.1V545.5M181.0 557.5V564.9M181.0 572.5V579.9M181.0 579.3V586.7M181.0 580.7V588.1M181.0 583.2V590.6M181.0 586.1V593.5M181.0 596.7V604.1M181.0 601.3V608.7M181.0 615.9V623.3M191.0 535.2V542.6M191.0 550.2V557.6M191.0 559.9V567.3M191.0 561.8V569.2M191.0 564.7V572.1M191.0 572.5V579.9M191.0 577.3V584.7M191.0 579.8V587.2M191.0 582.7V590.1M191.0 591.7V599.1M191.0 604.6V612.0M200.5 530.2V537.6M200.5 538.8V546.2M200.5 547.0V554.4M200.5 552.5V559.9M200.5 554.4V561.8M200.5 561.4V568.8M200.5 563.3V570.7M200.5 565.3V572.7M200.5 567.2V574.6M200.5 579.8V587.2M200.5 582.0V589.4M200.5 590.8V598.2M211.0 519.5V526.9M211.0 533.1V540.5M211.0 542.0V549.4M211.0 546.8V554.2M211.0 550.2V557.6M211.0 552.2V559.6M211.0 554.1V561.5M211.0 562.8V570.2M211.0 568.0V575.4M211.0 570.9V578.3M211.0 581.6V589.0M221.8 519.2V526.6M221.8 527.5V534.9M221.8 532.8V540.2M221.8 542.8V550.2M221.8 549.7V557.1M221.8 553.6V561.0M221.8 556.5V563.9M221.8 565.7V573.1M221.8 567.2V574.6M230.4 521.6V529.0M230.4 523.6V531.0M230.4 526.0V533.4M230.4 534.7V542.1M230.4 540.5V547.9M230.4 546.4V553.8M230.4 547.3V554.7M230.4 556.5V563.9M230.4 563.3V570.7M240.9 516.6V524.0M240.9 519.2V526.6M240.9 520.5V527.9M240.9 527.9V535.3M240.9 528.9V536.3M240.9 535.7V543.1M240.9 538.6V546.0M240.9 540.5V547.9M240.9 545.9V553.3M240.9 548.8V556.2M240.9 555.1V562.5M240.9 559.9V567.3M251.1 513.2V520.6M251.1 515.1V522.5M251.1 518.2V525.6M251.1 524.8V532.2M251.1 526.8V534.2M251.1 530.3V537.7M251.1 536.6V544.0M251.1 539.6V547.0M251.1 546.6V554.0M251.1 560.9V568.3M262.4 510.8V518.2M262.4 512.8V520.2M262.4 519.2V526.6M262.4 521.3V528.7M262.4 523.3V530.7M262.4 525.3V532.7M262.4 531.3V538.7M262.4 533.5V540.9M262.4 535.5V542.9M262.4 538.1V545.5M262.4 543.2V550.6M262.4 559.9V567.3M271.5 508.9V516.3M271.5 510.6V518.0M271.5 519.5V526.9M271.5 520.5V527.9M271.5 526.8V534.2M271.5 528.9V536.3M271.5 536.6V544.0M271.5 549.1V556.5M271.5 557.5V564.9M281.2 507.2V514.6M281.2 508.7V516.1M281.2 517.6V525.0M281.2 524.7V532.1M281.2 531.8V539.2M281.2 539.1V546.5M281.2 540.6V548.0M281.2 574.9V582.3M292.3 507.3V514.7M292.3 518.8V526.2M292.3 523.2V530.6M292.3 524.0V531.4M292.3 534.3V541.7M292.3 571.1V578.5M302.5 502.9V510.3M302.5 504.5V511.9M302.5 515.8V523.2M302.5 547.8V555.2M302.5 551.4V558.8M302.5 560.3V567.7" stroke="#008000" stroke-width="0.9" stroke-opacity="1" fill="none"/><path d="M88.00 625.4a1.7 1.35 0 1 0 3.4 0a1.7 1.35 0 1 0 -3.4 0M99.30 628.2a1.7 1.35 0 1 0 3.4 0a1.7 1.35 0 1 0 -3.4 0M128.30 592.3a1.7 1.35 0 1 0 3.4 0a1.7 1.35 0 1 0 -3.4 0M128.30 621.5a1.7 1.35 0 1 0 3.4 0a1.7 1.35 0 1 0 -3.4 0M128.30 625.5a1.7 1.35 0 1 0 3.4 0a1.7 1.35 0 1 0 -3.4 0M128.30 626.3a1.7 1.35 0 1 0 3.4 0a1.7 1.35 0 1 0 -3.4 0M128.30 651.0a1.7 1.35 0 1 0 3.4 0a1.7 1.35 0 1 0 -3.4 0M139.40 573.1a1.7 1.35 0 1 0 3.4 0a1.7 1.35 0 1 0 -3.4 0M139.40 609.5a1.7 1.35 0 1 0 3.4 0a1.7 1.35 0 1 0 -3.4 0M139.40 623.5a1.7 1.35 0 1 0 3.4 0a1.7 1.35 0 1 0 -3.4 0M139.40 624.4a1.7 1.35 0 1 0 3.4 0a1.7 1.35 0 1 0 -3.4 0M139.40 638.7a1.7 1.35 0 1 0 3.4 0a1.7 1.35 0 1 0 -3.4 0M148.90 570.9a1.7 1.35 0 1 0 3.4 0a1.7 1.35 0 1 0 -3.4 0M148.90 589.1a1.7 1.35 0 1 0 3.4 0a1.7 1.35 0 1 0 -3.4 0M148.90 607.7a1.7 1.35 0 1 0 3.4 0a1.7 1.35 0 1 0 -3.4 0M148.90 611.6a1.7 1.35 0 1 0 3.4 0a1.7 1.35 0 1 0 -3.4 0M148.90 617.2a1.7 1.35 0 1 0 3.4 0a1.7 1.35 0 1 0 -3.4 0M148.90 621.2a1.7 1.35 0 1 0 3.4 0a1.7 1.35 0 1 0 -3.4 0M148.90 622.1a1.7 1.35 0 1 0 3.4 0a1.7 1.35 0 1 0 -3.4 0M148.90 630.1a1.7 1.35 0 1 0 3.4 0a1.7 1.35 0 1 0 -3.4 0M158.80 555.7a1.7 1.35 0 1 0 3.4 0a1.7 1.35 0 1 0 -3.4 0M158.80 580.4a1.7 1.35 0 1 0 3.4 0a1.7 1.35 0 1 0 -3.4 0M158.80 600.4a1.7 1.35 0 1 0 3.4 0a1.7 1.35 0 1 0 -3.4 0M158.80 602.5a1.7 1.35 0 1 0 3.4 0a1.7 1.35 0 1 0 -3.4 0M158.80 604.4a1.7 1.35 0 1 0 3.4 0a1.7 1.35 0 1 0 -3.4 0M158.80 606.3a1.7 1.35 0 1 0 3.4 0a1.7 1.35 0 1 0 -3.4 0M158.80 608.2a1.7 1.35 0 1 0 3.4 0a1.7 1.35 0 1 0 -3.4 0M158.80 614.0a1.7 1.35 0 1 0 3.4 0a1.7 1.35 0 1 0 -3.4 0M158.80 625.3a1.7 1.35 0 1 0 3.4 0a1.7 1.35 0 1 0 -3.4 0M168.30 545.7a1.7 1.35 0 1 0 3.4 0a1.7 1.35 0 1 0 -3.4 0M168.30 567.5a1.7 1.35 0 1 0 3.4 0a1.7 1.35 0 1 0 -3.4 0M168.30 589.8a1.7 1.35 0 1 0 3.4 0a1.7 1.35 0 1 0 -3.4 0M168.30 594.1a1.7 1.35 0 1 0 3.4 0a1.7 1.35 0 1 0 -3.4 0M168.30 598.5a1.7 1.35 0 1 0 3.4 0a1.7 1.35 0 1 0 -3.4 0M168.30 603.4a1.7 1.35 0 1 0 3.4 0a1.7 1.35 0 1 0 -3.4 0M168.30 604.9a1.7 1.35 0 1 0 3.4 0a1.7 1.35 0 1 0 -3.4 0M168.30 646.8a1.7 1.35 0 1 0 3.4 0a1.7 1.35 0 1 0 -3.4 0M179.30 541.8a1.7 1.35 0 1 0 3.4 0a1.7 1.35 0 1 0 -3.4 0M179.30 561.2a1.7 1.35 0 1 0 3.4 0a1.7 1.35 0 1 0 -3.4 0M179.30 576.2a1.7 1.35 0 1 0 3.4 0a1.7 1.35 0 1 0 -3.4 0M179.30 583.0a1.7 1.35 0 1 0 3.4 0a1.7 1.35 0 1 0 -3.4 0M179.30 584.4a1.7 1.35 0 1 0 3.4 0a1.7 1.35 0 1 0 -3.4 0M179.30 586.9a1.7 1.35 0 1 0 3.4 0a1.7 1.35 0 1 0 -3.4 0M179.30 589.8a1.7 1.35 0 1 0 3.4 0a1.7 1.35 0 1 0 -3.4 0M179.30 600.4a1.7 1.35 0 1 0 3.4 0a1.7 1.35 0 1 0 -3.4 0M179.30 605.0a1.7 1.35 0 1 0 3.4 0a1.7 1.35 0 1 0 -3.4 0M179.30 619.6a1.7 1.35 0 1 0 3.4 0a1.7 1.35 0 1 0 -3.4 0M189.30 538.9a1.7 1.35 0 1 0 3.4 0a1.7 1.35 0 1 0 -3.4 0M189.30 553.9a1.7 1.35 0 1 0 3.4 0a1.7 1.35 0 1 0 -3.4 0M189.30 563.6a1.7 1.35 0 1 0 3.4 0a1.7 1.35 0 1 0 -3.4 0M189.30 565.5a1.7 1.35 0 1 0 3.4 0a1.7 1.35 0 1 0 -3.4 0M189.30 568.4a1.7 1.35 0 1 0 3.4 0a1.7 1.35 0 1 0 -3.4 0M189.30 576.2a1.7 1.35 0 1 0 3.4 0a1.7 1.35 0 1 0 -3.4 0M189.30 581.0a1.7 1.35 0 1 0 3.4 0a1.7 1.35 0 1 0 -3.4 0M189.30 583.5a1.7 1.35 0 1 0 3.4 0a1.7 1.35 0 1 0 -3.4 0M189.30 586.4a1.7 1.35 0 1 0 3.4 0a1.7 1.35 0 1 0 -3.4 0M189.30 595.4a1.7 1.35 0 1 0 3.4 0a1.7 1.35 0 1 0 -3.4 0M189.30 608.3a1.7 1.35 0 1 0 3.4 0a1.7 1.35 0 1 0 -3.4 0M198.80 533.9a1.7 1.35 0 1 0 3.4 0a1.7 1.35 0 1 0 -3.4 0M198.80 542.5a1.7 1.35 0 1 0 3.4 0a1.7 1.35 0 1 0 -3.4 0M198.80 550.7a1.7 1.35 0 1 0 3.4 0a1.7 1.35 0 1 0 -3.4 0M198.80 556.2a1.7 1.35 0 1 0 3.4 0a1.7 1.35 0 1 0 -3.4 0M198.80 558.1a1.7 1.35 0 1 0 3.4 0a1.7 1.35 0 1 0 -3.4 0M198.80 565.1a1.7 1.35 0 1 0 3.4 0a1.7 1.35 0 1 0 -3.4 0M198.80 567.0a1.7 1.35 0 1 0 3.4 0a1.7 1.35 0 1 0 -3.4 0M198.80 569.0a1.7 1.35 0 1 0 3.4 0a1.7 1.35 0 1 0 -3.4 0M198.80 570.9a1.7 1.35 0 1 0 3.4 0a1.7 1.35 0 1 0 -3.4 0M198.80 583.5a1.7 1.35 0 1 0 3.4 0a1.7 1.35 0 1 0 -3.4 0M198.80 585.7a1.7 1.35 0 1 0 3.4 0a1.7 1.35 0 1 0 -3.4 0M198.80 594.5a1.7 1.35 0 1 0 3.4 0a1.7 1.35 0 1 0 -3.4 0M209.30 523.2a1.7 1.35 0 1 0 3.4 0a1.7 1.35 0 1 0 -3.4 0M209.30 536.8a1.7 1.35 0 1 0 3.4 0a1.7 1.35 0 1 0 -3.4 0M209.30 545.7a1.7 1.35 0 1 0 3.4 0a1.7 1.35 0 1 0 -3.4 0M209.30 550.5a1.7 1.35 0 1 0 3.4 0a1.7 1.35 0 1 0 -3.4 0M209.30 553.9a1.7 1.35 0 1 0 3.4 0a1.7 1.35 0 1 0 -3.4 0M209.30 555.9a1.7 1.35 0 1 0 3.4 0a1.7 1.35 0 1 0 -3.4 0M209.30 557.8a1.7 1.35 0 1 0 3.4 0a1.7 1.35 0 1 0 -3.4 0M209.30 566.5a1.7 1.35 0 1 0 3.4 0a1.7 1.35 0 1 0 -3.4 0M209.30 571.7a1.7 1.35 0 1 0 3.4 0a1.7 1.35 0 1 0 -3.4 0M209.30 574.6a1.7 1.35 0 1 0 3.4 0a1.7 1.35 0 1 0 -3.4 0M209.30 585.3a1.7 1.35 0 1 0 3.4 0a1.7 1.35 0 1 0 -3.4 0M220.10 522.9a1.7 1.35 0 1 0 3.4 0a1.7 1.35 0 1 0 -3.4 0M220.10 531.2a1.7 1.35 0 1 0 3.4 0a1.7 1.35 0 1 0 -3.4 0M220.10 536.5a1.7 1.35 0 1 0 3.4 0a1.7 1.35 0 1 0 -3.4 0M220.10 546.5a1.7 1.35 0 1 0 3.4 0a1.7 1.35 0 1 0 -3.4 0M220.10 553.4a1.7 1.35 0 1 0 3.4 0a1.7 1.35 0 1 0 -3.4 0M220.10 557.3a1.7 1.35 0 1 0 3.4 0a1.7 1.35 0 1 0 -3.4 0M220.10 560.2a1.7 1.35 0 1 0 3.4 0a1.7 1.35 0 1 0 -3.4 0M220.10 569.4a1.7 1.35 0 1 0 3.4 0a1.7 1.35 0 1 0 -3.4 0M220.10 570.9a1.7 1.35 0 1 0 3.4 0a1.7 1.35 0 1 0 -3.4 0M228.70 525.3a1.7 1.35 0 1 0 3.4 0a1.7 1.35 0 1 0 -3.4 0M228.70 527.3a1.7 1.35 0 1 0 3.4 0a1.7 1.35 0 1 0 -3.4 0M228.70 529.7a1.7 1.35 0 1 0 3.4 0a1.7 1.35 0 1 0 -3.4 0M228.70 538.4a1.7 1.35 0 1 0 3.4 0a1.7 1.35 0 1 0 -3.4 0M228.70 544.2a1.7 1.35 0 1 0 3.4 0a1.7 1.35 0 1 0 -3.4 0M228.70 550.1a1.7 1.35 0 1 0 3.4 0a1.7 1.35 0 1 0 -3.4 0M228.70 551.0a1.7 1.35 0 1 0 3.4 0a1.7 1.35 0 1 0 -3.4 0M228.70 560.2a1.7 1.35 0 1 0 3.4 0a1.7 1.35 0 1 0 -3.4 0M228.70 567.0a1.7 1.35 0 1 0 3.4 0a1.7 1.35 0 1 0 -3.4 0M239.20 520.3a1.7 1.35 0 1 0 3.4 0a1.7 1.35 0 1 0 -3.4 0M239.20 522.9a1.7 1.35 0 1 0 3.4 0a1.7 1.35 0 1 0 -3.4 0M239.20 524.2a1.7 1.35 0 1 0 3.4 0a1.7 1.35 0 1 0 -3.4 0M239.20 531.6a1.7 1.35 0 1 0 3.4 0a1.7 1.35 0 1 0 -3.4 0M239.20 532.6a1.7 1.35 0 1 0 3.4 0a1.7 1.35 0 1 0 -3.4 0M239.20 539.4a1.7 1.35 0 1 0 3.4 0a1.7 1.35 0 1 0 -3.4 0M239.20 542.3a1.7 1.35 0 1 0 3.4 0a1.7 1.35 0 1 0 -3.4 0M239.20 544.2a1.7 1.35 0 1 0 3.4 0a1.7 1.35 0 1 0 -3.4 0M239.20 549.6a1.7 1.35 0 1 0 3.4 0a1.7 1.35 0 1 0 -3.4 0M239.20 552.5a1.7 1.35 0 1 0 3.4 0a1.7 1.35 0 1 0 -3.4 0M239.20 558.8a1.7 1.35 0 1 0 3.4 0a1.7 1.35 0 1 0 -3.4 0M239.20 563.6a1.7 1.35 0 1 0 3.4 0a1.7 1.35 0 1 0 -3.4 0M249.40 516.9a1.7 1.35 0 1 0 3.4 0a1.7 1.35 0 1 0 -3.4 0M249.40 518.8a1.7 1.35 0 1 0 3.4 0a1.7 1.35 0 1 0 -3.4 0M249.40 521.9a1.7 1.35 0 1 0 3.4 0a1.7 1.35 0 1 0 -3.4 0M249.40 528.5a1.7 1.35 0 1 0 3.4 0a1.7 1.35 0 1 0 -3.4 0M249.40 530.5a1.7 1.35 0 1 0 3.4 0a1.7 1.35 0 1 0 -3.4 0M249.40 534.0a1.7 1.35 0 1 0 3.4 0a1.7 1.35 0 1 0 -3.4 0M249.40 540.3a1.7 1.35 0 1 0 3.4 0a1.7 1.35 0 1 0 -3.4 0M249.40 543.3a1.7 1.35 0 1 0 3.4 0a1.7 1.35 0 1 0 -3.4 0M249.40 550.3a1.7 1.35 0 1 0 3.4 0a1.7 1.35 0 1 0 -3.4 0M249.40 564.6a1.7 1.35 0 1 0 3.4 0a1.7 1.35 0 1 0 -3.4 0M260.70 514.5a1.7 1.35 0 1 0 3.4 0a1.7 1.35 0 1 0 -3.4 0M260.70 516.5a1.7 1.35 0 1 0 3.4 0a1.7 1.35 0 1 0 -3.4 0M260.70 522.9a1.7 1.35 0 1 0 3.4 0a1.7 1.35 0 1 0 -3.4 0M260.70 525.0a1.7 1.35 0 1 0 3.4 0a1.7 1.35 0 1 0 -3.4 0M260.70 527.0a1.7 1.35 0 1 0 3.4 0a1.7 1.35 0 1 0 -3.4 0M260.70 529.0a1.7 1.35 0 1 0 3.4 0a1.7 1.35 0 1 0 -3.4 0M260.70 535.0a1.7 1.35 0 1 0 3.4 0a1.7 1.35 0 1 0 -3.4 0M260.70 537.2a1.7 1.35 0 1 0 3.4 0a1.7 1.35 0 1 0 -3.4 0M260.70 539.2a1.7 1.35 0 1 0 3.4 0a1.7 1.35 0 1 0 -3.4 0M260.70 541.8a1.7 1.35 0 1 0 3.4 0a1.7 1.35 0 1 0 -3.4 0M260.70 546.9a1.7 1.35 0 1 0 3.4 0a1.7 1.35 0 1 0 -3.4 0M260.70 563.6a1.7 1.35 0 1 0 3.4 0a1.7 1.35 0 1 0 -3.4 0M269.80 512.6a1.7 1.35 0 1 0 3.4 0a1.7 1.35 0 1 0 -3.4 0M269.80 514.3a1.7 1.35 0 1 0 3.4 0a1.7 1.35 0 1 0 -3.4 0M269.80 523.2a1.7 1.35 0 1 0 3.4 0a1.7 1.35 0 1 0 -3.4 0M269.80 524.2a1.7 1.35 0 1 0 3.4 0a1.7 1.35 0 1 0 -3.4 0M269.80 530.5a1.7 1.35 0 1 0 3.4 0a1.7 1.35 0 1 0 -3.4 0M269.80 532.6a1.7 1.35 0 1 0 3.4 0a1.7 1.35 0 1 0 -3.4 0M269.80 540.3a1.7 1.35 0 1 0 3.4 0a1.7 1.35 0 1 0 -3.4 0M269.80 552.8a1.7 1.35 0 1 0 3.4 0a1.7 1.35 0 1 0 -3.4 0M269.80 561.2a1.7 1.35 0 1 0 3.4 0a1.7 1.35 0 1 0 -3.4 0M279.50 510.9a1.7 1.35 0 1 0 3.4 0a1.7 1.35 0 1 0 -3.4 0M279.50 512.4a1.7 1.35 0 1 0 3.4 0a1.7 1.35 0 1 0 -3.4 0M279.50 521.3a1.7 1.35 0 1 0 3.4 0a1.7 1.35 0 1 0 -3.4 0M279.50 528.4a1.7 1.35 0 1 0 3.4 0a1.7 1.35 0 1 0 -3.4 0M279.50 535.5a1.7 1.35 0 1 0 3.4 0a1.7 1.35 0 1 0 -3.4 0M279.50 542.8a1.7 1.35 0 1 0 3.4 0a1.7 1.35 0 1 0 -3.4 0M279.50 544.3a1.7 1.35 0 1 0 3.4 0a1.7 1.35 0 1 0 -3.4 0M279.50 578.6a1.7 1.35 0 1 0 3.4 0a1.7 1.35 0 1 0 -3.4 0M290.60 511.0a1.7 1.35 0 1 0 3.4 0a1.7 1.35 0 1 0 -3.4 0M290.60 522.5a1.7 1.35 0 1 0 3.4 0a1.7 1.35 0 1 0 -3.4 0M290.60 526.9a1.7 1.35 0 1 0 3.4 0a1.7 1.35 0 1 0 -3.4 0M290.60 527.7a1.7 1.35 0 1 0 3.4 0a1.7 1.35 0 1 0 -3.4 0M290.60 538.0a1.7 1.35 0 1 0 3.4 0a1.7 1.35 0 1 0 -3.4 0M290.60 574.8a1.7 1.35 0 1 0 3.4 0a1.7 1.35 0 1 0 -3.4 0M300.80 506.6a1.7 1.35 0 1 0 3.4 0a1.7 1.35 0 1 0 -3.4 0M300.80 508.2a1.7 1.35 0 1 0 3.4 0a1.7 1.35 0 1 0 -3.4 0M300.80 519.5a1.7 1.35 0 1 0 3.4 0a1.7 1.35 0 1 0 -3.4 0M300.80 551.5a1.7 1.35 0 1 0 3.4 0a1.7 1.35 0 1 0 -3.4 0M300.80 555.1a1.7 1.35 0 1 0 3.4 0a1.7 1.35 0 1 0 -3.4 0M300.80 564.0a1.7 1.35 0 1 0 3.4 0a1.7 1.35 0 1 0 -3.4 0" stroke="#008000" stroke-width="1.0" fill="none"/></g>
<g clip-path="url(#cBLp)"><path d="M129.0 735.5V742.5M140.1 731.0V738.0M149.6 725.9V732.9M149.6 735.5V742.5M149.6 740.5V747.5M159.5 722.8V729.8M159.5 728.2V735.2M159.5 730.1V737.1M159.5 732.0V739.0M159.5 734.5V741.5M169.0 712.7V719.7M169.0 717.5V724.5M169.0 719.9V726.9M169.0 723.1V730.1M169.0 724.3V731.3M169.0 728.4V735.4M169.0 737.7V744.7M180.0 693.5V700.5M180.0 710.7V717.7M180.0 712.7V719.7M180.0 717.5V724.5M180.0 719.9V726.9M180.0 721.9V728.9M180.0 729.9V736.9M180.0 733.5V740.5M190.0 700.5V707.5M190.0 702.0V709.0M190.0 709.8V716.8M190.0 711.7V718.7M190.0 716.5V723.5M190.0 718.0V725.0M190.0 722.8V729.8M190.0 732.8V739.8M199.5 696.5V703.5M199.5 703.9V710.9M199.5 705.9V712.9M199.5 711.7V718.7M199.5 714.1V721.1M210.0 688.9V695.9M210.0 690.3V697.3M210.0 693.7V700.7M210.0 699.0V706.0M210.0 701.5V708.5M210.0 703.4V710.4M210.0 705.3V712.3M220.8 696.1V703.1M220.8 698.1V705.1M220.8 700.5V707.5M220.8 702.4V709.4M220.8 705.3V712.3M220.8 879.8V886.8M220.8 883.7V890.7M229.4 689.3V696.3M229.4 691.8V698.8M229.4 694.2V701.2M229.4 873.8V880.8M229.4 876.9V883.9M239.9 688.4V695.4M239.9 693.4V700.4M239.9 867.2V874.2M239.9 869.7V876.7M239.9 871.6V878.6M239.9 882.3V889.3M239.9 883.7V890.7M250.1 858.0V865.0M250.1 868.7V875.7M250.1 873.5V880.5M250.1 875.5V882.5M250.1 878.9V885.9M250.1 880.8V887.8M250.1 882.7V889.7M261.4 852.5V859.5M261.4 855.1V862.1M261.4 856.8V863.8M261.4 869.9V876.9M261.4 872.1V879.1M261.4 874.0V881.0M261.4 876.0V883.0M270.5 741.9V748.9M270.5 838.7V845.7M270.5 845.4V852.4M270.5 855.6V862.6M270.5 866.1V873.1M270.5 867.2V874.2M270.5 871.9V878.9M270.5 873.1V880.1M270.5 878.7V885.7M280.2 688.2V695.2M280.2 849.8V856.8M280.2 866.1V873.1M280.2 868.2V875.2M280.2 872.6V879.6M280.2 876.9V883.9M291.3 860.0V867.0M291.3 863.4V870.4M291.3 866.8V873.8M291.3 876.9V883.9M301.5 706.5V714.5M301.5 855.8V862.8M301.5 857.7V864.7M301.5 862.4V869.4" stroke="#008000" stroke-width="0.9" stroke-opacity="1" fill="none"/><path d="M87.00 765.5a1.7 1.35 0 1 0 3.4 0a1.7 1.35 0 1 0 -3.4 0M98.30 806.5a1.7 1.35 0 1 0 3.4 0a1.7 1.35 0 1 0 -3.4 0M127.30 739.0a1.7 1.35 0 1 0 3.4 0a1.7 1.35 0 1 0 -3.4 0M127.30 774.7a1.7 1.35 0 1 0 3.4 0a1.7 1.35 0 1 0 -3.4 0M127.30 805.9a1.7 1.35 0 1 0 3.4 0a1.7 1.35 0 1 0 -3.4 0M127.30 813.9a1.7 1.35 0 1 0 3.4 0a1.7 1.35 0 1 0 -3.4 0M127.30 821.4a1.7 1.35 0 1 0 3.4 0a1.7 1.35 0 1 0 -3.4 0M138.40 734.5a1.7 1.35 0 1 0 3.4 0a1.7 1.35 0 1 0 -3.4 0M138.40 749.9a1.7 1.35 0 1 0 3.4 0a1.7 1.35 0 1 0 -3.4 0M138.40 789.5a1.7 1.35 0 1 0 3.4 0a1.7 1.35 0 1 0 -3.4 0M138.40 794.3a1.7 1.35 0 1 0 3.4 0a1.7 1.35 0 1 0 -3.4 0M138.40 811.5a1.7 1.35 0 1 0 3.4 0a1.7 1.35 0 1 0 -3.4 0M147.90 729.4a1.7 1.35 0 1 0 3.4 0a1.7 1.35 0 1 0 -3.4 0M147.90 739.0a1.7 1.35 0 1 0 3.4 0a1.7 1.35 0 1 0 -3.4 0M147.90 744.0a1.7 1.35 0 1 0 3.4 0a1.7 1.35 0 1 0 -3.4 0M147.90 746.2a1.7 1.35 0 1 0 3.4 0a1.7 1.35 0 1 0 -3.4 0M147.90 768.5a1.7 1.35 0 1 0 3.4 0a1.7 1.35 0 1 0 -3.4 0M147.90 771.0a1.7 1.35 0 1 0 3.4 0a1.7 1.35 0 1 0 -3.4 0M147.90 781.2a1.7 1.35 0 1 0 3.4 0a1.7 1.35 0 1 0 -3.4 0M147.90 811.1a1.7 1.35 0 1 0 3.4 0a1.7 1.35 0 1 0 -3.4 0M157.80 726.3a1.7 1.35 0 1 0 3.4 0a1.7 1.35 0 1 0 -3.4 0M157.80 731.7a1.7 1.35 0 1 0 3.4 0a1.7 1.35 0 1 0 -3.4 0M157.80 733.6a1.7 1.35 0 1 0 3.4 0a1.7 1.35 0 1 0 -3.4 0M157.80 735.5a1.7 1.35 0 1 0 3.4 0a1.7 1.35 0 1 0 -3.4 0M157.80 738.0a1.7 1.35 0 1 0 3.4 0a1.7 1.35 0 1 0 -3.4 0M157.80 752.5a1.7 1.35 0 1 0 3.4 0a1.7 1.35 0 1 0 -3.4 0M157.80 756.4a1.7 1.35 0 1 0 3.4 0a1.7 1.35 0 1 0 -3.4 0M157.80 761.5a1.7 1.35 0 1 0 3.4 0a1.7 1.35 0 1 0 -3.4 0M157.80 804.5a1.7 1.35 0 1 0 3.4 0a1.7 1.35 0 1 0 -3.4 0M167.30 716.2a1.7 1.35 0 1 0 3.4 0a1.7 1.35 0 1 0 -3.4 0M167.30 721.0a1.7 1.35 0 1 0 3.4 0a1.7 1.35 0 1 0 -3.4 0M167.30 723.4a1.7 1.35 0 1 0 3.4 0a1.7 1.35 0 1 0 -3.4 0M167.30 726.6a1.7 1.35 0 1 0 3.4 0a1.7 1.35 0 1 0 -3.4 0M167.30 727.8a1.7 1.35 0 1 0 3.4 0a1.7 1.35 0 1 0 -3.4 0M167.30 731.9a1.7 1.35 0 1 0 3.4 0a1.7 1.35 0 1 0 -3.4 0M167.30 741.2a1.7 1.35 0 1 0 3.4 0a1.7 1.35 0 1 0 -3.4 0M167.30 747.7a1.7 1.35 0 1 0 3.4 0a1.7 1.35 0 1 0 -3.4 0M167.30 752.3a1.7 1.35 0 1 0 3.4 0a1.7 1.35 0 1 0 -3.4 0M167.30 798.5a1.7 1.35 0 1 0 3.4 0a1.7 1.35 0 1 0 -3.4 0M178.30 697.0a1.7 1.35 0 1 0 3.4 0a1.7 1.35 0 1 0 -3.4 0M178.30 714.2a1.7 1.35 0 1 0 3.4 0a1.7 1.35 0 1 0 -3.4 0M178.30 716.2a1.7 1.35 0 1 0 3.4 0a1.7 1.35 0 1 0 -3.4 0M178.30 721.0a1.7 1.35 0 1 0 3.4 0a1.7 1.35 0 1 0 -3.4 0M178.30 723.4a1.7 1.35 0 1 0 3.4 0a1.7 1.35 0 1 0 -3.4 0M178.30 725.4a1.7 1.35 0 1 0 3.4 0a1.7 1.35 0 1 0 -3.4 0M178.30 733.4a1.7 1.35 0 1 0 3.4 0a1.7 1.35 0 1 0 -3.4 0M178.30 737.0a1.7 1.35 0 1 0 3.4 0a1.7 1.35 0 1 0 -3.4 0M178.30 750.9a1.7 1.35 0 1 0 3.4 0a1.7 1.35 0 1 0 -3.4 0M178.30 792.3a1.7 1.35 0 1 0 3.4 0a1.7 1.35 0 1 0 -3.4 0M188.30 704.0a1.7 1.35 0 1 0 3.4 0a1.7 1.35 0 1 0 -3.4 0M188.30 705.5a1.7 1.35 0 1 0 3.4 0a1.7 1.35 0 1 0 -3.4 0M188.30 713.3a1.7 1.35 0 1 0 3.4 0a1.7 1.35 0 1 0 -3.4 0M188.30 715.2a1.7 1.35 0 1 0 3.4 0a1.7 1.35 0 1 0 -3.4 0M188.30 720.0a1.7 1.35 0 1 0 3.4 0a1.7 1.35 0 1 0 -3.4 0M188.30 721.5a1.7 1.35 0 1 0 3.4 0a1.7 1.35 0 1 0 -3.4 0M188.30 726.3a1.7 1.35 0 1 0 3.4 0a1.7 1.35 0 1 0 -3.4 0M188.30 736.3a1.7 1.35 0 1 0 3.4 0a1.7 1.35 0 1 0 -3.4 0M188.30 786.5a1.7 1.35 0 1 0 3.4 0a1.7 1.35 0 1 0 -3.4 0M197.80 700.0a1.7 1.35 0 1 0 3.4 0a1.7 1.35 0 1 0 -3.4 0M197.80 707.4a1.7 1.35 0 1 0 3.4 0a1.7 1.35 0 1 0 -3.4 0M197.80 709.4a1.7 1.35 0 1 0 3.4 0a1.7 1.35 0 1 0 -3.4 0M197.80 715.2a1.7 1.35 0 1 0 3.4 0a1.7 1.35 0 1 0 -3.4 0M197.80 717.6a1.7 1.35 0 1 0 3.4 0a1.7 1.35 0 1 0 -3.4 0M197.80 790.3a1.7 1.35 0 1 0 3.4 0a1.7 1.35 0 1 0 -3.4 0M208.30 692.4a1.7 1.35 0 1 0 3.4 0a1.7 1.35 0 1 0 -3.4 0M208.30 693.8a1.7 1.35 0 1 0 3.4 0a1.7 1.35 0 1 0 -3.4 0M208.30 697.2a1.7 1.35 0 1 0 3.4 0a1.7 1.35 0 1 0 -3.4 0M208.30 702.5a1.7 1.35 0 1 0 3.4 0a1.7 1.35 0 1 0 -3.4 0M208.30 705.0a1.7 1.35 0 1 0 3.4 0a1.7 1.35 0 1 0 -3.4 0M208.30 706.9a1.7 1.35 0 1 0 3.4 0a1.7 1.35 0 1 0 -3.4 0M208.30 708.8a1.7 1.35 0 1 0 3.4 0a1.7 1.35 0 1 0 -3.4 0M208.30 775.3a1.7 1.35 0 1 0 3.4 0a1.7 1.35 0 1 0 -3.4 0M219.10 699.6a1.7 1.35 0 1 0 3.4 0a1.7 1.35 0 1 0 -3.4 0M219.10 701.6a1.7 1.35 0 1 0 3.4 0a1.7 1.35 0 1 0 -3.4 0M219.10 704.0a1.7 1.35 0 1 0 3.4 0a1.7 1.35 0 1 0 -3.4 0M219.10 705.9a1.7 1.35 0 1 0 3.4 0a1.7 1.35 0 1 0 -3.4 0M219.10 708.8a1.7 1.35 0 1 0 3.4 0a1.7 1.35 0 1 0 -3.4 0M219.10 771.5a1.7 1.35 0 1 0 3.4 0a1.7 1.35 0 1 0 -3.4 0M219.10 883.3a1.7 1.35 0 1 0 3.4 0a1.7 1.35 0 1 0 -3.4 0M219.10 887.2a1.7 1.35 0 1 0 3.4 0a1.7 1.35 0 1 0 -3.4 0M227.70 692.8a1.7 1.35 0 1 0 3.4 0a1.7 1.35 0 1 0 -3.4 0M227.70 695.3a1.7 1.35 0 1 0 3.4 0a1.7 1.35 0 1 0 -3.4 0M227.70 697.7a1.7 1.35 0 1 0 3.4 0a1.7 1.35 0 1 0 -3.4 0M227.70 765.5a1.7 1.35 0 1 0 3.4 0a1.7 1.35 0 1 0 -3.4 0M227.70 877.3a1.7 1.35 0 1 0 3.4 0a1.7 1.35 0 1 0 -3.4 0M227.70 880.4a1.7 1.35 0 1 0 3.4 0a1.7 1.35 0 1 0 -3.4 0M238.20 691.9a1.7 1.35 0 1 0 3.4 0a1.7 1.35 0 1 0 -3.4 0M238.20 696.9a1.7 1.35 0 1 0 3.4 0a1.7 1.35 0 1 0 -3.4 0M238.20 767.5a1.7 1.35 0 1 0 3.4 0a1.7 1.35 0 1 0 -3.4 0M238.20 870.7a1.7 1.35 0 1 0 3.4 0a1.7 1.35 0 1 0 -3.4 0M238.20 873.2a1.7 1.35 0 1 0 3.4 0a1.7 1.35 0 1 0 -3.4 0M238.20 875.1a1.7 1.35 0 1 0 3.4 0a1.7 1.35 0 1 0 -3.4 0M238.20 885.8a1.7 1.35 0 1 0 3.4 0a1.7 1.35 0 1 0 -3.4 0M238.20 887.2a1.7 1.35 0 1 0 3.4 0a1.7 1.35 0 1 0 -3.4 0M248.40 759.9a1.7 1.35 0 1 0 3.4 0a1.7 1.35 0 1 0 -3.4 0M248.40 861.5a1.7 1.35 0 1 0 3.4 0a1.7 1.35 0 1 0 -3.4 0M248.40 872.2a1.7 1.35 0 1 0 3.4 0a1.7 1.35 0 1 0 -3.4 0M248.40 877.0a1.7 1.35 0 1 0 3.4 0a1.7 1.35 0 1 0 -3.4 0M248.40 879.0a1.7 1.35 0 1 0 3.4 0a1.7 1.35 0 1 0 -3.4 0M248.40 882.4a1.7 1.35 0 1 0 3.4 0a1.7 1.35 0 1 0 -3.4 0M248.40 884.3a1.7 1.35 0 1 0 3.4 0a1.7 1.35 0 1 0 -3.4 0M248.40 886.2a1.7 1.35 0 1 0 3.4 0a1.7 1.35 0 1 0 -3.4 0M259.70 755.5a1.7 1.35 0 1 0 3.4 0a1.7 1.35 0 1 0 -3.4 0M259.70 856.0a1.7 1.35 0 1 0 3.4 0a1.7 1.35 0 1 0 -3.4 0M259.70 858.6a1.7 1.35 0 1 0 3.4 0a1.7 1.35 0 1 0 -3.4 0M259.70 860.3a1.7 1.35 0 1 0 3.4 0a1.7 1.35 0 1 0 -3.4 0M259.70 873.4a1.7 1.35 0 1 0 3.4 0a1.7 1.35 0 1 0 -3.4 0M259.70 875.6a1.7 1.35 0 1 0 3.4 0a1.7 1.35 0 1 0 -3.4 0M259.70 877.5a1.7 1.35 0 1 0 3.4 0a1.7 1.35 0 1 0 -3.4 0M259.70 879.5a1.7 1.35 0 1 0 3.4 0a1.7 1.35 0 1 0 -3.4 0M268.80 745.4a1.7 1.35 0 1 0 3.4 0a1.7 1.35 0 1 0 -3.4 0M268.80 842.2a1.7 1.35 0 1 0 3.4 0a1.7 1.35 0 1 0 -3.4 0M268.80 848.9a1.7 1.35 0 1 0 3.4 0a1.7 1.35 0 1 0 -3.4 0M268.80 859.1a1.7 1.35 0 1 0 3.4 0a1.7 1.35 0 1 0 -3.4 0M268.80 869.6a1.7 1.35 0 1 0 3.4 0a1.7 1.35 0 1 0 -3.4 0M268.80 870.7a1.7 1.35 0 1 0 3.4 0a1.7 1.35 0 1 0 -3.4 0M268.80 875.4a1.7 1.35 0 1 0 3.4 0a1.7 1.35 0 1 0 -3.4 0M268.80 876.6a1.7 1.35 0 1 0 3.4 0a1.7 1.35 0 1 0 -3.4 0M268.80 882.2a1.7 1.35 0 1 0 3.4 0a1.7 1.35 0 1 0 -3.4 0M278.50 691.7a1.7 1.35 0 1 0 3.4 0a1.7 1.35 0 1 0 -3.4 0M278.50 760.5a1.7 1.35 0 1 0 3.4 0a1.7 1.35 0 1 0 -3.4 0M278.50 833.1a1.7 1.35 0 1 0 3.4 0a1.7 1.35 0 1 0 -3.4 0M278.50 853.3a1.7 1.35 0 1 0 3.4 0a1.7 1.35 0 1 0 -3.4 0M278.50 869.6a1.7 1.35 0 1 0 3.4 0a1.7 1.35 0 1 0 -3.4 0M278.50 871.7a1.7 1.35 0 1 0 3.4 0a1.7 1.35 0 1 0 -3.4 0M278.50 876.1a1.7 1.35 0 1 0 3.4 0a1.7 1.35 0 1 0 -3.4 0M278.50 880.4a1.7 1.35 0 1 0 3.4 0a1.7 1.35 0 1 0 -3.4 0M289.60 760.7a1.7 1.35 0 1 0 3.4 0a1.7 1.35 0 1 0 -3.4 0M289.60 828.6a1.7 1.35 0 1 0 3.4 0a1.7 1.35 0 1 0 -3.4 0M289.60 863.5a1.7 1.35 0 1 0 3.4 0a1.7 1.35 0 1 0 -3.4 0M289.60 866.9a1.7 1.35 0 1 0 3.4 0a1.7 1.35 0 1 0 -3.4 0M289.60 870.3a1.7 1.35 0 1 0 3.4 0a1.7 1.35 0 1 0 -3.4 0M289.60 880.4a1.7 1.35 0 1 0 3.4 0a1.7 1.35 0 1 0 -3.4 0M299.80 710.5a1.7 1.35 0 1 0 3.4 0a1.7 1.35 0 1 0 -3.4 0M299.80 760.9a1.7 1.35 0 1 0 3.4 0a1.7 1.35 0 1 0 -3.4 0M299.80 827.4a1.7 1.35 0 1 0 3.4 0a1.7 1.35 0 1 0 -3.4 0M299.80 859.3a1.7 1.35 0 1 0 3.4 0a1.7 1.35 0 1 0 -3.4 0M299.80 861.2a1.7 1.35 0 1 0 3.4 0a1.7 1.35 0 1 0 -3.4 0M299.80 865.9a1.7 1.35 0 1 0 3.4 0a1.7 1.35 0 1 0 -3.4 0" stroke="#008000" stroke-width="1.0" fill="none"/></g>
<g clip-path="url(#cBRr)"><path d="M454.5 636.0V643.0M462.2 642.0V649.0M472.9 628.3V635.3M472.9 629.8V636.8M483.5 617.7V624.7M483.5 628.1V635.1M494.6 597.8V604.8M494.6 601.9V608.9M494.6 606.0V613.0M494.6 607.8V614.8M494.6 608.7V615.7M494.6 615.5V622.5M494.6 619.8V626.8M494.6 630.6V637.6M504.1 595.0V602.0M504.1 596.8V603.8M504.1 603.2V610.2M504.1 604.5V611.5M504.1 609.7V616.7M504.1 611.0V618.0M504.1 619.3V626.3M504.1 655.8V662.8M514.0 594.1V601.1M514.0 601.6V608.6M514.0 604.4V611.4M514.0 606.3V613.3M514.0 607.9V614.9M514.0 613.8V620.8M514.0 620.0V627.0M514.0 630.8V637.8M514.0 650.0V657.0M523.5 598.2V605.2M523.5 599.9V606.9M523.5 601.6V608.6M523.5 608.6V615.6M523.5 620.3V627.3M523.5 632.7V639.7M523.5 641.9V648.9M534.5 589.1V596.1M534.5 590.1V597.1M534.5 596.4V603.4M534.5 602.9V609.9M534.5 607.4V614.4M534.5 614.9V621.9M534.5 621.3V628.3M544.5 585.4V592.4M544.5 589.9V596.9M544.5 593.3V600.3M544.5 596.4V603.4M544.5 601.0V608.0M544.5 603.0V610.0M544.5 608.3V615.3M544.5 610.2V617.2M544.5 611.6V618.6M554.0 573.2V580.2M554.0 582.9V589.9M554.0 584.6V591.6M554.0 589.1V596.1M554.0 590.8V597.8M554.0 601.0V608.0M554.0 603.4V610.4M554.0 612.1V619.1M554.0 613.5V620.5M564.5 572.7V579.7M564.5 578.2V585.2M564.5 579.8V586.8M564.5 585.9V592.9M564.5 587.1V594.1M564.5 592.5V599.5M564.5 604.9V611.9M575.3 555.3V562.3M575.3 564.0V571.0M575.3 565.9V572.9M575.3 567.9V574.9M575.3 572.2V579.2M575.3 574.6V581.6M575.3 580.6V587.6M575.3 588.0V595.0M575.3 595.0V602.0M575.3 605.5V612.5M583.9 542.9V549.9M583.9 549.0V556.0M583.9 553.3V560.3M583.9 554.8V561.8M583.9 559.1V566.1M583.9 571.0V578.0M583.9 575.1V582.1M583.9 577.1V584.1M583.9 580.9V587.9M583.9 582.1V589.1M583.9 588.7V595.7M594.4 542.9V549.9M594.4 549.9V556.9M594.4 551.4V558.4M594.4 555.7V562.7M594.4 567.9V574.9M594.4 570.3V577.3M594.4 572.2V579.2M594.4 574.2V581.2M604.6 539.1V546.1M604.6 540.6V547.6M604.6 544.3V551.3M604.6 547.0V554.0M604.6 552.7V559.7M604.6 558.5V565.5M604.6 560.1V567.1M604.6 562.2V569.2M604.6 564.3V571.3M604.6 568.8V575.8M615.9 532.8V539.8M615.9 538.0V545.0M615.9 539.6V546.6M615.9 541.7V548.7M615.9 546.7V553.7M615.9 551.7V558.7M615.9 553.8V560.8M615.9 556.4V563.4M615.9 558.0V565.0M615.9 561.7V568.7M615.9 563.8V570.8M625.0 527.8V534.8M625.0 532.8V539.8M625.0 541.2V548.2M625.0 545.9V552.9M625.0 554.3V561.3M625.0 565.7V572.7M634.7 529.6V536.6M634.7 531.2V538.2M634.7 541.7V548.7M634.7 543.3V550.3M634.7 552.0V559.0M645.8 515.9V522.9M645.8 518.0V525.0M645.8 530.1V537.1M645.8 532.2V539.2M645.8 535.9V542.9M645.8 539.1V546.1M645.8 545.4V552.4M645.8 548.0V555.0M645.8 553.8V560.8M656.0 511.7V518.7M656.0 518.4V525.4M656.0 524.7V531.7M656.0 532.2V539.2M656.0 542.2V549.2M656.0 551.7V558.7" stroke="#000000" stroke-width="0.9" stroke-opacity="0.85" fill="none"/><path d="M452.80 639.5a1.7 1.35 0 1 0 3.4 0a1.7 1.35 0 1 0 -3.4 0M460.50 645.5a1.7 1.35 0 1 0 3.4 0a1.7 1.35 0 1 0 -3.4 0M471.20 631.8a1.7 1.35 0 1 0 3.4 0a1.7 1.35 0 1 0 -3.4 0M471.20 633.3a1.7 1.35 0 1 0 3.4 0a1.7 1.35 0 1 0 -3.4 0M481.80 621.2a1.7 1.35 0 1 0 3.4 0a1.7 1.35 0 1 0 -3.4 0M481.80 631.6a1.7 1.35 0 1 0 3.4 0a1.7 1.35 0 1 0 -3.4 0M492.90 601.3a1.7 1.35 0 1 0 3.4 0a1.7 1.35 0 1 0 -3.4 0M492.90 605.4a1.7 1.35 0 1 0 3.4 0a1.7 1.35 0 1 0 -3.4 0M492.90 609.5a1.7 1.35 0 1 0 3.4 0a1.7 1.35 0 1 0 -3.4 0M492.90 611.3a1.7 1.35 0 1 0 3.4 0a1.7 1.35 0 1 0 -3.4 0M492.90 612.2a1.7 1.35 0 1 0 3.4 0a1.7 1.35 0 1 0 -3.4 0M492.90 619.0a1.7 1.35 0 1 0 3.4 0a1.7 1.35 0 1 0 -3.4 0M492.90 623.3a1.7 1.35 0 1 0 3.4 0a1.7 1.35 0 1 0 -3.4 0M492.90 634.1a1.7 1.35 0 1 0 3.4 0a1.7 1.35 0 1 0 -3.4 0M502.40 598.5a1.7 1.35 0 1 0 3.4 0a1.7 1.35 0 1 0 -3.4 0M502.40 600.3a1.7 1.35 0 1 0 3.4 0a1.7 1.35 0 1 0 -3.4 0M502.40 606.7a1.7 1.35 0 1 0 3.4 0a1.7 1.35 0 1 0 -3.4 0M502.40 608.0a1.7 1.35 0 1 0 3.4 0a1.7 1.35 0 1 0 -3.4 0M502.40 613.2a1.7 1.35 0 1 0 3.4 0a1.7 1.35 0 1 0 -3.4 0M502.40 614.5a1.7 1.35 0 1 0 3.4 0a1.7 1.35 0 1 0 -3.4 0M502.40 622.8a1.7 1.35 0 1 0 3.4 0a1.7 1.35 0 1 0 -3.4 0M502.40 659.3a1.7 1.35 0 1 0 3.4 0a1.7 1.35 0 1 0 -3.4 0M512.30 597.6a1.7 1.35 0 1 0 3.4 0a1.7 1.35 0 1 0 -3.4 0M512.30 605.1a1.7 1.35 0 1 0 3.4 0a1.7 1.35 0 1 0 -3.4 0M512.30 607.9a1.7 1.35 0 1 0 3.4 0a1.7 1.35 0 1 0 -3.4 0M512.30 609.8a1.7 1.35 0 1 0 3.4 0a1.7 1.35 0 1 0 -3.4 0M512.30 611.4a1.7 1.35 0 1 0 3.4 0a1.7 1.35 0 1 0 -3.4 0M512.30 617.3a1.7 1.35 0 1 0 3.4 0a1.7 1.35 0 1 0 -3.4 0M512.30 623.5a1.7 1.35 0 1 0 3.4 0a1.7 1.35 0 1 0 -3.4 0M512.30 634.3a1.7 1.35 0 1 0 3.4 0a1.7 1.35 0 1 0 -3.4 0M512.30 653.5a1.7 1.35 0 1 0 3.4 0a1.7 1.35 0 1 0 -3.4 0M521.80 601.7a1.7 1.35 0 1 0 3.4 0a1.7 1.35 0 1 0 -3.4 0M521.80 603.4a1.7 1.35 0 1 0 3.4 0a1.7 1.35 0 1 0 -3.4 0M521.80 605.1a1.7 1.35 0 1 0 3.4 0a1.7 1.35 0 1 0 -3.4 0M521.80 612.1a1.7 1.35 0 1 0 3.4 0a1.7 1.35 0 1 0 -3.4 0M521.80 623.8a1.7 1.35 0 1 0 3.4 0a1.7 1.35 0 1 0 -3.4 0M521.80 636.2a1.7 1.35 0 1 0 3.4 0a1.7 1.35 0 1 0 -3.4 0M521.80 645.4a1.7 1.35 0 1 0 3.4 0a1.7 1.35 0 1 0 -3.4 0M532.80 592.6a1.7 1.35 0 1 0 3.4 0a1.7 1.35 0 1 0 -3.4 0M532.80 593.6a1.7 1.35 0 1 0 3.4 0a1.7 1.35 0 1 0 -3.4 0M532.80 599.9a1.7 1.35 0 1 0 3.4 0a1.7 1.35 0 1 0 -3.4 0M532.80 606.4a1.7 1.35 0 1 0 3.4 0a1.7 1.35 0 1 0 -3.4 0M532.80 610.9a1.7 1.35 0 1 0 3.4 0a1.7 1.35 0 1 0 -3.4 0M532.80 618.4a1.7 1.35 0 1 0 3.4 0a1.7 1.35 0 1 0 -3.4 0M532.80 624.8a1.7 1.35 0 1 0 3.4 0a1.7 1.35 0 1 0 -3.4 0M542.80 588.9a1.7 1.35 0 1 0 3.4 0a1.7 1.35 0 1 0 -3.4 0M542.80 593.4a1.7 1.35 0 1 0 3.4 0a1.7 1.35 0 1 0 -3.4 0M542.80 596.8a1.7 1.35 0 1 0 3.4 0a1.7 1.35 0 1 0 -3.4 0M542.80 599.9a1.7 1.35 0 1 0 3.4 0a1.7 1.35 0 1 0 -3.4 0M542.80 604.5a1.7 1.35 0 1 0 3.4 0a1.7 1.35 0 1 0 -3.4 0M542.80 606.5a1.7 1.35 0 1 0 3.4 0a1.7 1.35 0 1 0 -3.4 0M542.80 611.8a1.7 1.35 0 1 0 3.4 0a1.7 1.35 0 1 0 -3.4 0M542.80 613.7a1.7 1.35 0 1 0 3.4 0a1.7 1.35 0 1 0 -3.4 0M542.80 615.1a1.7 1.35 0 1 0 3.4 0a1.7 1.35 0 1 0 -3.4 0M552.30 576.7a1.7 1.35 0 1 0 3.4 0a1.7 1.35 0 1 0 -3.4 0M552.30 586.4a1.7 1.35 0 1 0 3.4 0a1.7 1.35 0 1 0 -3.4 0M552.30 588.1a1.7 1.35 0 1 0 3.4 0a1.7 1.35 0 1 0 -3.4 0M552.30 592.6a1.7 1.35 0 1 0 3.4 0a1.7 1.35 0 1 0 -3.4 0M552.30 594.3a1.7 1.35 0 1 0 3.4 0a1.7 1.35 0 1 0 -3.4 0M552.30 604.5a1.7 1.35 0 1 0 3.4 0a1.7 1.35 0 1 0 -3.4 0M552.30 606.9a1.7 1.35 0 1 0 3.4 0a1.7 1.35 0 1 0 -3.4 0M552.30 615.6a1.7 1.35 0 1 0 3.4 0a1.7 1.35 0 1 0 -3.4 0M552.30 617.0a1.7 1.35 0 1 0 3.4 0a1.7 1.35 0 1 0 -3.4 0M562.80 576.2a1.7 1.35 0 1 0 3.4 0a1.7 1.35 0 1 0 -3.4 0M562.80 581.7a1.7 1.35 0 1 0 3.4 0a1.7 1.35 0 1 0 -3.4 0M562.80 583.3a1.7 1.35 0 1 0 3.4 0a1.7 1.35 0 1 0 -3.4 0M562.80 589.4a1.7 1.35 0 1 0 3.4 0a1.7 1.35 0 1 0 -3.4 0M562.80 590.6a1.7 1.35 0 1 0 3.4 0a1.7 1.35 0 1 0 -3.4 0M562.80 596.0a1.7 1.35 0 1 0 3.4 0a1.7 1.35 0 1 0 -3.4 0M562.80 608.4a1.7 1.35 0 1 0 3.4 0a1.7 1.35 0 1 0 -3.4 0M573.60 558.8a1.7 1.35 0 1 0 3.4 0a1.7 1.35 0 1 0 -3.4 0M573.60 567.5a1.7 1.35 0 1 0 3.4 0a1.7 1.35 0 1 0 -3.4 0M573.60 569.4a1.7 1.35 0 1 0 3.4 0a1.7 1.35 0 1 0 -3.4 0M573.60 571.4a1.7 1.35 0 1 0 3.4 0a1.7 1.35 0 1 0 -3.4 0M573.60 575.7a1.7 1.35 0 1 0 3.4 0a1.7 1.35 0 1 0 -3.4 0M573.60 578.1a1.7 1.35 0 1 0 3.4 0a1.7 1.35 0 1 0 -3.4 0M573.60 584.1a1.7 1.35 0 1 0 3.4 0a1.7 1.35 0 1 0 -3.4 0M573.60 591.5a1.7 1.35 0 1 0 3.4 0a1.7 1.35 0 1 0 -3.4 0M573.60 598.5a1.7 1.35 0 1 0 3.4 0a1.7 1.35 0 1 0 -3.4 0M573.60 609.0a1.7 1.35 0 1 0 3.4 0a1.7 1.35 0 1 0 -3.4 0M582.20 546.4a1.7 1.35 0 1 0 3.4 0a1.7 1.35 0 1 0 -3.4 0M582.20 552.5a1.7 1.35 0 1 0 3.4 0a1.7 1.35 0 1 0 -3.4 0M582.20 556.8a1.7 1.35 0 1 0 3.4 0a1.7 1.35 0 1 0 -3.4 0M582.20 558.3a1.7 1.35 0 1 0 3.4 0a1.7 1.35 0 1 0 -3.4 0M582.20 562.6a1.7 1.35 0 1 0 3.4 0a1.7 1.35 0 1 0 -3.4 0M582.20 574.5a1.7 1.35 0 1 0 3.4 0a1.7 1.35 0 1 0 -3.4 0M582.20 578.6a1.7 1.35 0 1 0 3.4 0a1.7 1.35 0 1 0 -3.4 0M582.20 580.6a1.7 1.35 0 1 0 3.4 0a1.7 1.35 0 1 0 -3.4 0M582.20 584.4a1.7 1.35 0 1 0 3.4 0a1.7 1.35 0 1 0 -3.4 0M582.20 585.6a1.7 1.35 0 1 0 3.4 0a1.7 1.35 0 1 0 -3.4 0M582.20 592.2a1.7 1.35 0 1 0 3.4 0a1.7 1.35 0 1 0 -3.4 0M592.70 546.4a1.7 1.35 0 1 0 3.4 0a1.7 1.35 0 1 0 -3.4 0M592.70 553.4a1.7 1.35 0 1 0 3.4 0a1.7 1.35 0 1 0 -3.4 0M592.70 554.9a1.7 1.35 0 1 0 3.4 0a1.7 1.35 0 1 0 -3.4 0M592.70 559.2a1.7 1.35 0 1 0 3.4 0a1.7 1.35 0 1 0 -3.4 0M592.70 571.4a1.7 1.35 0 1 0 3.4 0a1.7 1.35 0 1 0 -3.4 0M592.70 573.8a1.7 1.35 0 1 0 3.4 0a1.7 1.35 0 1 0 -3.4 0M592.70 575.7a1.7 1.35 0 1 0 3.4 0a1.7 1.35 0 1 0 -3.4 0M592.70 577.7a1.7 1.35 0 1 0 3.4 0a1.7 1.35 0 1 0 -3.4 0M602.90 542.6a1.7 1.35 0 1 0 3.4 0a1.7 1.35 0 1 0 -3.4 0M602.90 544.1a1.7 1.35 0 1 0 3.4 0a1.7 1.35 0 1 0 -3.4 0M602.90 547.8a1.7 1.35 0 1 0 3.4 0a1.7 1.35 0 1 0 -3.4 0M602.90 550.5a1.7 1.35 0 1 0 3.4 0a1.7 1.35 0 1 0 -3.4 0M602.90 556.2a1.7 1.35 0 1 0 3.4 0a1.7 1.35 0 1 0 -3.4 0M602.90 562.0a1.7 1.35 0 1 0 3.4 0a1.7 1.35 0 1 0 -3.4 0M602.90 563.6a1.7 1.35 0 1 0 3.4 0a1.7 1.35 0 1 0 -3.4 0M602.90 565.7a1.7 1.35 0 1 0 3.4 0a1.7 1.35 0 1 0 -3.4 0M602.90 567.8a1.7 1.35 0 1 0 3.4 0a1.7 1.35 0 1 0 -3.4 0M602.90 572.3a1.7 1.35 0 1 0 3.4 0a1.7 1.35 0 1 0 -3.4 0M614.20 536.3a1.7 1.35 0 1 0 3.4 0a1.7 1.35 0 1 0 -3.4 0M614.20 541.5a1.7 1.35 0 1 0 3.4 0a1.7 1.35 0 1 0 -3.4 0M614.20 543.1a1.7 1.35 0 1 0 3.4 0a1.7 1.35 0 1 0 -3.4 0M614.20 545.2a1.7 1.35 0 1 0 3.4 0a1.7 1.35 0 1 0 -3.4 0M614.20 550.2a1.7 1.35 0 1 0 3.4 0a1.7 1.35 0 1 0 -3.4 0M614.20 555.2a1.7 1.35 0 1 0 3.4 0a1.7 1.35 0 1 0 -3.4 0M614.20 557.3a1.7 1.35 0 1 0 3.4 0a1.7 1.35 0 1 0 -3.4 0M614.20 559.9a1.7 1.35 0 1 0 3.4 0a1.7 1.35 0 1 0 -3.4 0M614.20 561.5a1.7 1.35 0 1 0 3.4 0a1.7 1.35 0 1 0 -3.4 0M614.20 565.2a1.7 1.35 0 1 0 3.4 0a1.7 1.35 0 1 0 -3.4 0M614.20 567.3a1.7 1.35 0 1 0 3.4 0a1.7 1.35 0 1 0 -3.4 0M623.30 531.3a1.7 1.35 0 1 0 3.4 0a1.7 1.35 0 1 0 -3.4 0M623.30 536.3a1.7 1.35 0 1 0 3.4 0a1.7 1.35 0 1 0 -3.4 0M623.30 544.7a1.7 1.35 0 1 0 3.4 0a1.7 1.35 0 1 0 -3.4 0M623.30 549.4a1.7 1.35 0 1 0 3.4 0a1.7 1.35 0 1 0 -3.4 0M623.30 557.8a1.7 1.35 0 1 0 3.4 0a1.7 1.35 0 1 0 -3.4 0M623.30 569.2a1.7 1.35 0 1 0 3.4 0a1.7 1.35 0 1 0 -3.4 0M633.00 533.1a1.7 1.35 0 1 0 3.4 0a1.7 1.35 0 1 0 -3.4 0M633.00 534.7a1.7 1.35 0 1 0 3.4 0a1.7 1.35 0 1 0 -3.4 0M633.00 545.2a1.7 1.35 0 1 0 3.4 0a1.7 1.35 0 1 0 -3.4 0M633.00 546.8a1.7 1.35 0 1 0 3.4 0a1.7 1.35 0 1 0 -3.4 0M633.00 555.5a1.7 1.35 0 1 0 3.4 0a1.7 1.35 0 1 0 -3.4 0M644.10 519.4a1.7 1.35 0 1 0 3.4 0a1.7 1.35 0 1 0 -3.4 0M644.10 521.5a1.7 1.35 0 1 0 3.4 0a1.7 1.35 0 1 0 -3.4 0M644.10 533.6a1.7 1.35 0 1 0 3.4 0a1.7 1.35 0 1 0 -3.4 0M644.10 535.7a1.7 1.35 0 1 0 3.4 0a1.7 1.35 0 1 0 -3.4 0M644.10 539.4a1.7 1.35 0 1 0 3.4 0a1.7 1.35 0 1 0 -3.4 0M644.10 542.6a1.7 1.35 0 1 0 3.4 0a1.7 1.35 0 1 0 -3.4 0M644.10 548.9a1.7 1.35 0 1 0 3.4 0a1.7 1.35 0 1 0 -3.4 0M644.10 551.5a1.7 1.35 0 1 0 3.4 0a1.7 1.35 0 1 0 -3.4 0M644.10 557.3a1.7 1.35 0 1 0 3.4 0a1.7 1.35 0 1 0 -3.4 0M654.30 515.2a1.7 1.35 0 1 0 3.4 0a1.7 1.35 0 1 0 -3.4 0M654.30 521.9a1.7 1.35 0 1 0 3.4 0a1.7 1.35 0 1 0 -3.4 0M654.30 528.2a1.7 1.35 0 1 0 3.4 0a1.7 1.35 0 1 0 -3.4 0M654.30 535.7a1.7 1.35 0 1 0 3.4 0a1.7 1.35 0 1 0 -3.4 0M654.30 545.7a1.7 1.35 0 1 0 3.4 0a1.7 1.35 0 1 0 -3.4 0M654.30 555.2a1.7 1.35 0 1 0 3.4 0a1.7 1.35 0 1 0 -3.4 0" stroke="#000000" stroke-width="1.0" fill="none"/></g>
<g clip-path="url(#cBRp)"><path d="M442.3 858.9V866.9M453.6 692.4V700.4M472.0 695.4V701.4M482.6 864.6V872.6M482.6 875.1V881.1M482.6 881.4V887.4M493.7 842.7V848.7M493.7 858.0V864.0M493.7 865.2V871.2M493.7 871.4V877.4M493.7 875.4V881.4M503.2 844.7V850.7M503.2 854.8V860.8M503.2 860.6V866.6M503.2 861.3V867.3M513.1 844.7V850.7M513.1 851.5V857.5M513.1 856.5V862.5M513.1 857.8V863.8M513.1 863.3V869.3M522.6 838.4V844.4M522.6 839.8V845.8M522.6 848.1V854.1M522.6 851.0V857.0M533.6 719.9V725.9M533.6 845.4V851.4M533.6 874.4V880.4M543.6 702.3V708.3M543.6 708.5V714.5M543.6 847.4V853.4M543.6 856.5V862.5M543.6 865.9V871.9M543.6 884.3V890.3M553.1 716.3V722.3M553.1 840.3V846.3M553.1 849.6V855.6M553.1 861.0V867.0M553.1 875.1V881.1M553.1 877.1V883.1M563.6 721.4V727.4M563.6 845.4V851.4M574.4 693.8V701.8M574.4 696.5V704.5M574.4 843.2V849.2M583.0 691.6V699.6M583.0 702.3V708.3M583.0 712.0V718.0M583.0 837.7V843.7M593.5 718.5V724.5M603.7 688.8V694.8M603.7 708.3V714.3M603.7 883.2V889.2M615.0 875.1V881.1M615.0 878.4V884.4M615.0 882.9V888.9M624.1 695.7V703.7M624.1 875.3V881.3M624.1 880.2V886.2M633.8 860.7V866.7M633.8 864.1V870.1M644.9 866.0V872.0M644.9 882.0V888.0M655.1 845.8V851.8M655.1 871.3V877.3" stroke="#000000" stroke-width="0.9" stroke-opacity="0.85" fill="none"/><path d="M440.60 862.9a1.7 1.35 0 1 0 3.4 0a1.7 1.35 0 1 0 -3.4 0M451.90 696.4a1.7 1.35 0 1 0 3.4 0a1.7 1.35 0 1 0 -3.4 0M451.90 792.0a1.7 1.35 0 1 0 3.4 0a1.7 1.35 0 1 0 -3.4 0M470.30 698.4a1.7 1.35 0 1 0 3.4 0a1.7 1.35 0 1 0 -3.4 0M470.30 802.3a1.7 1.35 0 1 0 3.4 0a1.7 1.35 0 1 0 -3.4 0M480.90 781.9a1.7 1.35 0 1 0 3.4 0a1.7 1.35 0 1 0 -3.4 0M480.90 814.9a1.7 1.35 0 1 0 3.4 0a1.7 1.35 0 1 0 -3.4 0M480.90 868.6a1.7 1.35 0 1 0 3.4 0a1.7 1.35 0 1 0 -3.4 0M480.90 878.1a1.7 1.35 0 1 0 3.4 0a1.7 1.35 0 1 0 -3.4 0M480.90 884.4a1.7 1.35 0 1 0 3.4 0a1.7 1.35 0 1 0 -3.4 0M492.00 770.4a1.7 1.35 0 1 0 3.4 0a1.7 1.35 0 1 0 -3.4 0M492.00 817.3a1.7 1.35 0 1 0 3.4 0a1.7 1.35 0 1 0 -3.4 0M492.00 830.5a1.7 1.35 0 1 0 3.4 0a1.7 1.35 0 1 0 -3.4 0M492.00 845.7a1.7 1.35 0 1 0 3.4 0a1.7 1.35 0 1 0 -3.4 0M492.00 861.0a1.7 1.35 0 1 0 3.4 0a1.7 1.35 0 1 0 -3.4 0M492.00 868.2a1.7 1.35 0 1 0 3.4 0a1.7 1.35 0 1 0 -3.4 0M492.00 874.4a1.7 1.35 0 1 0 3.4 0a1.7 1.35 0 1 0 -3.4 0M492.00 878.4a1.7 1.35 0 1 0 3.4 0a1.7 1.35 0 1 0 -3.4 0M501.50 743.8a1.7 1.35 0 1 0 3.4 0a1.7 1.35 0 1 0 -3.4 0M501.50 761.5a1.7 1.35 0 1 0 3.4 0a1.7 1.35 0 1 0 -3.4 0M501.50 809.9a1.7 1.35 0 1 0 3.4 0a1.7 1.35 0 1 0 -3.4 0M501.50 825.9a1.7 1.35 0 1 0 3.4 0a1.7 1.35 0 1 0 -3.4 0M501.50 831.5a1.7 1.35 0 1 0 3.4 0a1.7 1.35 0 1 0 -3.4 0M501.50 847.7a1.7 1.35 0 1 0 3.4 0a1.7 1.35 0 1 0 -3.4 0M501.50 857.8a1.7 1.35 0 1 0 3.4 0a1.7 1.35 0 1 0 -3.4 0M501.50 863.6a1.7 1.35 0 1 0 3.4 0a1.7 1.35 0 1 0 -3.4 0M501.50 864.3a1.7 1.35 0 1 0 3.4 0a1.7 1.35 0 1 0 -3.4 0M511.40 748.1a1.7 1.35 0 1 0 3.4 0a1.7 1.35 0 1 0 -3.4 0M511.40 770.4a1.7 1.35 0 1 0 3.4 0a1.7 1.35 0 1 0 -3.4 0M511.40 789.7a1.7 1.35 0 1 0 3.4 0a1.7 1.35 0 1 0 -3.4 0M511.40 802.3a1.7 1.35 0 1 0 3.4 0a1.7 1.35 0 1 0 -3.4 0M511.40 826.8a1.7 1.35 0 1 0 3.4 0a1.7 1.35 0 1 0 -3.4 0M511.40 839.0a1.7 1.35 0 1 0 3.4 0a1.7 1.35 0 1 0 -3.4 0M511.40 847.7a1.7 1.35 0 1 0 3.4 0a1.7 1.35 0 1 0 -3.4 0M511.40 854.5a1.7 1.35 0 1 0 3.4 0a1.7 1.35 0 1 0 -3.4 0M511.40 859.5a1.7 1.35 0 1 0 3.4 0a1.7 1.35 0 1 0 -3.4 0M511.40 860.8a1.7 1.35 0 1 0 3.4 0a1.7 1.35 0 1 0 -3.4 0M511.40 866.3a1.7 1.35 0 1 0 3.4 0a1.7 1.35 0 1 0 -3.4 0M520.90 750.1a1.7 1.35 0 1 0 3.4 0a1.7 1.35 0 1 0 -3.4 0M520.90 785.9a1.7 1.35 0 1 0 3.4 0a1.7 1.35 0 1 0 -3.4 0M520.90 802.6a1.7 1.35 0 1 0 3.4 0a1.7 1.35 0 1 0 -3.4 0M520.90 823.9a1.7 1.35 0 1 0 3.4 0a1.7 1.35 0 1 0 -3.4 0M520.90 841.4a1.7 1.35 0 1 0 3.4 0a1.7 1.35 0 1 0 -3.4 0M520.90 842.8a1.7 1.35 0 1 0 3.4 0a1.7 1.35 0 1 0 -3.4 0M520.90 851.1a1.7 1.35 0 1 0 3.4 0a1.7 1.35 0 1 0 -3.4 0M520.90 854.0a1.7 1.35 0 1 0 3.4 0a1.7 1.35 0 1 0 -3.4 0M531.90 722.9a1.7 1.35 0 1 0 3.4 0a1.7 1.35 0 1 0 -3.4 0M531.90 744.5a1.7 1.35 0 1 0 3.4 0a1.7 1.35 0 1 0 -3.4 0M531.90 762.2a1.7 1.35 0 1 0 3.4 0a1.7 1.35 0 1 0 -3.4 0M531.90 777.1a1.7 1.35 0 1 0 3.4 0a1.7 1.35 0 1 0 -3.4 0M531.90 820.5a1.7 1.35 0 1 0 3.4 0a1.7 1.35 0 1 0 -3.4 0M531.90 824.2a1.7 1.35 0 1 0 3.4 0a1.7 1.35 0 1 0 -3.4 0M531.90 836.0a1.7 1.35 0 1 0 3.4 0a1.7 1.35 0 1 0 -3.4 0M531.90 848.4a1.7 1.35 0 1 0 3.4 0a1.7 1.35 0 1 0 -3.4 0M531.90 877.4a1.7 1.35 0 1 0 3.4 0a1.7 1.35 0 1 0 -3.4 0M541.90 705.3a1.7 1.35 0 1 0 3.4 0a1.7 1.35 0 1 0 -3.4 0M541.90 711.5a1.7 1.35 0 1 0 3.4 0a1.7 1.35 0 1 0 -3.4 0M541.90 736.5a1.7 1.35 0 1 0 3.4 0a1.7 1.35 0 1 0 -3.4 0M541.90 764.6a1.7 1.35 0 1 0 3.4 0a1.7 1.35 0 1 0 -3.4 0M541.90 805.3a1.7 1.35 0 1 0 3.4 0a1.7 1.35 0 1 0 -3.4 0M541.90 830.2a1.7 1.35 0 1 0 3.4 0a1.7 1.35 0 1 0 -3.4 0M541.90 839.1a1.7 1.35 0 1 0 3.4 0a1.7 1.35 0 1 0 -3.4 0M541.90 850.4a1.7 1.35 0 1 0 3.4 0a1.7 1.35 0 1 0 -3.4 0M541.90 859.5a1.7 1.35 0 1 0 3.4 0a1.7 1.35 0 1 0 -3.4 0M541.90 868.9a1.7 1.35 0 1 0 3.4 0a1.7 1.35 0 1 0 -3.4 0M541.90 887.3a1.7 1.35 0 1 0 3.4 0a1.7 1.35 0 1 0 -3.4 0M551.40 719.3a1.7 1.35 0 1 0 3.4 0a1.7 1.35 0 1 0 -3.4 0M551.40 787.1a1.7 1.35 0 1 0 3.4 0a1.7 1.35 0 1 0 -3.4 0M551.40 806.5a1.7 1.35 0 1 0 3.4 0a1.7 1.35 0 1 0 -3.4 0M551.40 820.1a1.7 1.35 0 1 0 3.4 0a1.7 1.35 0 1 0 -3.4 0M551.40 827.8a1.7 1.35 0 1 0 3.4 0a1.7 1.35 0 1 0 -3.4 0M551.40 838.0a1.7 1.35 0 1 0 3.4 0a1.7 1.35 0 1 0 -3.4 0M551.40 843.3a1.7 1.35 0 1 0 3.4 0a1.7 1.35 0 1 0 -3.4 0M551.40 852.6a1.7 1.35 0 1 0 3.4 0a1.7 1.35 0 1 0 -3.4 0M551.40 864.0a1.7 1.35 0 1 0 3.4 0a1.7 1.35 0 1 0 -3.4 0M551.40 878.1a1.7 1.35 0 1 0 3.4 0a1.7 1.35 0 1 0 -3.4 0M551.40 880.1a1.7 1.35 0 1 0 3.4 0a1.7 1.35 0 1 0 -3.4 0M561.90 724.4a1.7 1.35 0 1 0 3.4 0a1.7 1.35 0 1 0 -3.4 0M561.90 739.6a1.7 1.35 0 1 0 3.4 0a1.7 1.35 0 1 0 -3.4 0M561.90 794.4a1.7 1.35 0 1 0 3.4 0a1.7 1.35 0 1 0 -3.4 0M561.90 805.2a1.7 1.35 0 1 0 3.4 0a1.7 1.35 0 1 0 -3.4 0M561.90 808.9a1.7 1.35 0 1 0 3.4 0a1.7 1.35 0 1 0 -3.4 0M561.90 810.1a1.7 1.35 0 1 0 3.4 0a1.7 1.35 0 1 0 -3.4 0M561.90 824.6a1.7 1.35 0 1 0 3.4 0a1.7 1.35 0 1 0 -3.4 0M561.90 832.2a1.7 1.35 0 1 0 3.4 0a1.7 1.35 0 1 0 -3.4 0M561.90 848.4a1.7 1.35 0 1 0 3.4 0a1.7 1.35 0 1 0 -3.4 0M572.70 697.8a1.7 1.35 0 1 0 3.4 0a1.7 1.35 0 1 0 -3.4 0M572.70 700.5a1.7 1.35 0 1 0 3.4 0a1.7 1.35 0 1 0 -3.4 0M572.70 801.2a1.7 1.35 0 1 0 3.4 0a1.7 1.35 0 1 0 -3.4 0M572.70 805.2a1.7 1.35 0 1 0 3.4 0a1.7 1.35 0 1 0 -3.4 0M572.70 809.4a1.7 1.35 0 1 0 3.4 0a1.7 1.35 0 1 0 -3.4 0M572.70 811.3a1.7 1.35 0 1 0 3.4 0a1.7 1.35 0 1 0 -3.4 0M572.70 813.3a1.7 1.35 0 1 0 3.4 0a1.7 1.35 0 1 0 -3.4 0M572.70 821.5a1.7 1.35 0 1 0 3.4 0a1.7 1.35 0 1 0 -3.4 0M572.70 831.5a1.7 1.35 0 1 0 3.4 0a1.7 1.35 0 1 0 -3.4 0M572.70 846.2a1.7 1.35 0 1 0 3.4 0a1.7 1.35 0 1 0 -3.4 0M581.30 695.6a1.7 1.35 0 1 0 3.4 0a1.7 1.35 0 1 0 -3.4 0M581.30 705.3a1.7 1.35 0 1 0 3.4 0a1.7 1.35 0 1 0 -3.4 0M581.30 715.0a1.7 1.35 0 1 0 3.4 0a1.7 1.35 0 1 0 -3.4 0M581.30 786.6a1.7 1.35 0 1 0 3.4 0a1.7 1.35 0 1 0 -3.4 0M581.30 792.9a1.7 1.35 0 1 0 3.4 0a1.7 1.35 0 1 0 -3.4 0M581.30 797.5a1.7 1.35 0 1 0 3.4 0a1.7 1.35 0 1 0 -3.4 0M581.30 801.2a1.7 1.35 0 1 0 3.4 0a1.7 1.35 0 1 0 -3.4 0M581.30 804.6a1.7 1.35 0 1 0 3.4 0a1.7 1.35 0 1 0 -3.4 0M581.30 809.4a1.7 1.35 0 1 0 3.4 0a1.7 1.35 0 1 0 -3.4 0M581.30 813.3a1.7 1.35 0 1 0 3.4 0a1.7 1.35 0 1 0 -3.4 0M581.30 836.8a1.7 1.35 0 1 0 3.4 0a1.7 1.35 0 1 0 -3.4 0M581.30 840.7a1.7 1.35 0 1 0 3.4 0a1.7 1.35 0 1 0 -3.4 0M591.80 721.5a1.7 1.35 0 1 0 3.4 0a1.7 1.35 0 1 0 -3.4 0M591.80 767.2a1.7 1.35 0 1 0 3.4 0a1.7 1.35 0 1 0 -3.4 0M591.80 783.9a1.7 1.35 0 1 0 3.4 0a1.7 1.35 0 1 0 -3.4 0M591.80 795.3a1.7 1.35 0 1 0 3.4 0a1.7 1.35 0 1 0 -3.4 0M591.80 797.1a1.7 1.35 0 1 0 3.4 0a1.7 1.35 0 1 0 -3.4 0M591.80 801.2a1.7 1.35 0 1 0 3.4 0a1.7 1.35 0 1 0 -3.4 0M591.80 802.6a1.7 1.35 0 1 0 3.4 0a1.7 1.35 0 1 0 -3.4 0M591.80 808.4a1.7 1.35 0 1 0 3.4 0a1.7 1.35 0 1 0 -3.4 0M591.80 824.4a1.7 1.35 0 1 0 3.4 0a1.7 1.35 0 1 0 -3.4 0M591.80 827.3a1.7 1.35 0 1 0 3.4 0a1.7 1.35 0 1 0 -3.4 0M602.00 691.8a1.7 1.35 0 1 0 3.4 0a1.7 1.35 0 1 0 -3.4 0M602.00 711.3a1.7 1.35 0 1 0 3.4 0a1.7 1.35 0 1 0 -3.4 0M602.00 760.6a1.7 1.35 0 1 0 3.4 0a1.7 1.35 0 1 0 -3.4 0M602.00 790.4a1.7 1.35 0 1 0 3.4 0a1.7 1.35 0 1 0 -3.4 0M602.00 792.5a1.7 1.35 0 1 0 3.4 0a1.7 1.35 0 1 0 -3.4 0M602.00 795.5a1.7 1.35 0 1 0 3.4 0a1.7 1.35 0 1 0 -3.4 0M602.00 798.5a1.7 1.35 0 1 0 3.4 0a1.7 1.35 0 1 0 -3.4 0M602.00 806.4a1.7 1.35 0 1 0 3.4 0a1.7 1.35 0 1 0 -3.4 0M602.00 886.2a1.7 1.35 0 1 0 3.4 0a1.7 1.35 0 1 0 -3.4 0M613.30 775.1a1.7 1.35 0 1 0 3.4 0a1.7 1.35 0 1 0 -3.4 0M613.30 776.1a1.7 1.35 0 1 0 3.4 0a1.7 1.35 0 1 0 -3.4 0M613.30 781.3a1.7 1.35 0 1 0 3.4 0a1.7 1.35 0 1 0 -3.4 0M613.30 784.2a1.7 1.35 0 1 0 3.4 0a1.7 1.35 0 1 0 -3.4 0M613.30 786.7a1.7 1.35 0 1 0 3.4 0a1.7 1.35 0 1 0 -3.4 0M613.30 791.2a1.7 1.35 0 1 0 3.4 0a1.7 1.35 0 1 0 -3.4 0M613.30 801.7a1.7 1.35 0 1 0 3.4 0a1.7 1.35 0 1 0 -3.4 0M613.30 804.8a1.7 1.35 0 1 0 3.4 0a1.7 1.35 0 1 0 -3.4 0M613.30 805.4a1.7 1.35 0 1 0 3.4 0a1.7 1.35 0 1 0 -3.4 0M613.30 878.1a1.7 1.35 0 1 0 3.4 0a1.7 1.35 0 1 0 -3.4 0M613.30 881.4a1.7 1.35 0 1 0 3.4 0a1.7 1.35 0 1 0 -3.4 0M613.30 885.9a1.7 1.35 0 1 0 3.4 0a1.7 1.35 0 1 0 -3.4 0M622.40 699.7a1.7 1.35 0 1 0 3.4 0a1.7 1.35 0 1 0 -3.4 0M622.40 780.5a1.7 1.35 0 1 0 3.4 0a1.7 1.35 0 1 0 -3.4 0M622.40 782.8a1.7 1.35 0 1 0 3.4 0a1.7 1.35 0 1 0 -3.4 0M622.40 787.7a1.7 1.35 0 1 0 3.4 0a1.7 1.35 0 1 0 -3.4 0M622.40 788.9a1.7 1.35 0 1 0 3.4 0a1.7 1.35 0 1 0 -3.4 0M622.40 878.3a1.7 1.35 0 1 0 3.4 0a1.7 1.35 0 1 0 -3.4 0M622.40 883.2a1.7 1.35 0 1 0 3.4 0a1.7 1.35 0 1 0 -3.4 0M632.10 758.2a1.7 1.35 0 1 0 3.4 0a1.7 1.35 0 1 0 -3.4 0M632.10 764.5a1.7 1.35 0 1 0 3.4 0a1.7 1.35 0 1 0 -3.4 0M632.10 777.3a1.7 1.35 0 1 0 3.4 0a1.7 1.35 0 1 0 -3.4 0M632.10 778.1a1.7 1.35 0 1 0 3.4 0a1.7 1.35 0 1 0 -3.4 0M632.10 781.0a1.7 1.35 0 1 0 3.4 0a1.7 1.35 0 1 0 -3.4 0M632.10 787.9a1.7 1.35 0 1 0 3.4 0a1.7 1.35 0 1 0 -3.4 0M632.10 797.9a1.7 1.35 0 1 0 3.4 0a1.7 1.35 0 1 0 -3.4 0M632.10 800.8a1.7 1.35 0 1 0 3.4 0a1.7 1.35 0 1 0 -3.4 0M632.10 863.7a1.7 1.35 0 1 0 3.4 0a1.7 1.35 0 1 0 -3.4 0M632.10 867.1a1.7 1.35 0 1 0 3.4 0a1.7 1.35 0 1 0 -3.4 0M643.20 760.4a1.7 1.35 0 1 0 3.4 0a1.7 1.35 0 1 0 -3.4 0M643.20 761.3a1.7 1.35 0 1 0 3.4 0a1.7 1.35 0 1 0 -3.4 0M643.20 771.6a1.7 1.35 0 1 0 3.4 0a1.7 1.35 0 1 0 -3.4 0M643.20 774.0a1.7 1.35 0 1 0 3.4 0a1.7 1.35 0 1 0 -3.4 0M643.20 782.2a1.7 1.35 0 1 0 3.4 0a1.7 1.35 0 1 0 -3.4 0M643.20 782.8a1.7 1.35 0 1 0 3.4 0a1.7 1.35 0 1 0 -3.4 0M643.20 800.8a1.7 1.35 0 1 0 3.4 0a1.7 1.35 0 1 0 -3.4 0M643.20 869.0a1.7 1.35 0 1 0 3.4 0a1.7 1.35 0 1 0 -3.4 0M643.20 885.0a1.7 1.35 0 1 0 3.4 0a1.7 1.35 0 1 0 -3.4 0M653.40 764.3a1.7 1.35 0 1 0 3.4 0a1.7 1.35 0 1 0 -3.4 0M653.40 765.4a1.7 1.35 0 1 0 3.4 0a1.7 1.35 0 1 0 -3.4 0M653.40 776.1a1.7 1.35 0 1 0 3.4 0a1.7 1.35 0 1 0 -3.4 0M653.40 784.4a1.7 1.35 0 1 0 3.4 0a1.7 1.35 0 1 0 -3.4 0M653.40 794.2a1.7 1.35 0 1 0 3.4 0a1.7 1.35 0 1 0 -3.4 0M653.40 848.8a1.7 1.35 0 1 0 3.4 0a1.7 1.35 0 1 0 -3.4 0M653.40 874.3a1.7 1.35 0 1 0 3.4 0a1.7 1.35 0 1 0 -3.4 0" stroke="#000000" stroke-width="1.0" fill="none"/></g>
<path d="M74.17 198.50v-1.6M74.17 0.30v1.6M85.97 198.50v-1.6M85.97 0.30v1.6M94.34 198.50v-1.6M94.34 0.30v1.6M100.83 198.50v-1.6M100.83 0.30v1.6M106.14 198.50v-1.6M106.14 0.30v1.6M110.62 198.50v-1.6M110.62 0.30v1.6M114.51 198.50v-1.6M114.51 0.30v1.6M117.93 198.50v-1.6M117.93 0.30v1.6M121.00 198.50v-2.7M121.00 0.30v2.7M141.17 198.50v-1.6M141.17 0.30v1.6M152.97 198.50v-1.6M152.97 0.30v1.6M161.34 198.50v-1.6M161.34 0.30v1.6M167.83 198.50v-1.6M167.83 0.30v1.6M173.14 198.50v-1.6M173.14 0.30v1.6M177.62 198.50v-1.6M177.62 0.30v1.6M181.51 198.50v-1.6M181.51 0.30v1.6M184.93 198.50v-1.6M184.93 0.30v1.6M188.00 198.50v-2.7M188.00 0.30v2.7M208.17 198.50v-1.6M208.17 0.30v1.6M219.97 198.50v-1.6M219.97 0.30v1.6M228.34 198.50v-1.6M228.34 0.30v1.6M234.83 198.50v-1.6M234.83 0.30v1.6M240.14 198.50v-1.6M240.14 0.30v1.6M244.62 198.50v-1.6M244.62 0.30v1.6M248.51 198.50v-1.6M248.51 0.30v1.6M251.93 198.50v-1.6M251.93 0.30v1.6M255.00 198.50v-2.7M255.00 0.30v2.7M275.17 198.50v-1.6M275.17 0.30v1.6M286.97 198.50v-1.6M286.97 0.30v1.6M295.34 198.50v-1.6M295.34 0.30v1.6M301.83 198.50v-1.6M301.83 0.30v1.6M307.14 198.50v-1.6M307.14 0.30v1.6M311.62 198.50v-1.6M311.62 0.30v1.6M315.51 198.50v-1.6M315.51 0.30v1.6M318.93 198.50v-1.6M318.93 0.30v1.6M54.00 198.50h2.7M322.00 198.50h-2.7M54.00 174.41h1.6M322.00 174.41h-1.6M54.00 160.32h1.6M322.00 160.32h-1.6M54.00 150.33h1.6M322.00 150.33h-1.6M54.00 142.57h1.6M322.00 142.57h-1.6M54.00 136.24h1.6M322.00 136.24h-1.6M54.00 130.88h1.6M322.00 130.88h-1.6M54.00 126.24h1.6M322.00 126.24h-1.6M54.00 122.15h1.6M322.00 122.15h-1.6M54.00 118.49h2.7M322.00 118.49h-2.7M54.00 94.40h1.6M322.00 94.40h-1.6M54.00 80.31h1.6M322.00 80.31h-1.6M54.00 70.32h1.6M322.00 70.32h-1.6M54.00 62.56h1.6M322.00 62.56h-1.6M54.00 56.23h1.6M322.00 56.23h-1.6M54.00 50.87h1.6M322.00 50.87h-1.6M54.00 46.23h1.6M322.00 46.23h-1.6M54.00 42.14h1.6M322.00 42.14h-1.6M54.00 38.48h2.7M322.00 38.48h-2.7M54.00 14.39h1.6M322.00 14.39h-1.6M54.00 0.30h1.6M322.00 0.30h-1.6" stroke="#262626" stroke-width="0.8" fill="none"/>
<rect x="54.00" y="0.30" width="268.00" height="198.20" fill="none" stroke="#262626" stroke-width="0.8"/>
<text x="48.00" y="204.80" text-anchor="end" font-size="12.5" fill="#262626">10<tspan dy="-6.2" font-size="8.6">-1</tspan></text>
<text x="48.00" y="124.79" text-anchor="end" font-size="12.5" fill="#262626">10<tspan dy="-6.2" font-size="8.6">0</tspan></text>
<text x="48.00" y="44.78" text-anchor="end" font-size="12.5" fill="#262626">10<tspan dy="-6.2" font-size="8.6">1</tspan></text>
<path d="M74.15 419.00v-1.6M74.15 221.30v1.6M85.93 419.00v-1.6M85.93 221.30v1.6M94.29 419.00v-1.6M94.29 221.30v1.6M100.78 419.00v-1.6M100.78 221.30v1.6M106.08 419.00v-1.6M106.08 221.30v1.6M110.56 419.00v-1.6M110.56 221.30v1.6M114.44 419.00v-1.6M114.44 221.30v1.6M117.86 419.00v-1.6M117.86 221.30v1.6M120.92 419.00v-2.7M120.92 221.30v2.7M141.07 419.00v-1.6M141.07 221.30v1.6M152.86 419.00v-1.6M152.86 221.30v1.6M161.22 419.00v-1.6M161.22 221.30v1.6M167.70 419.00v-1.6M167.70 221.30v1.6M173.00 419.00v-1.6M173.00 221.30v1.6M177.48 419.00v-1.6M177.48 221.30v1.6M181.36 419.00v-1.6M181.36 221.30v1.6M184.79 419.00v-1.6M184.79 221.30v1.6M187.85 419.00v-2.7M187.85 221.30v2.7M208.00 419.00v-1.6M208.00 221.30v1.6M219.78 419.00v-1.6M219.78 221.30v1.6M228.14 419.00v-1.6M228.14 221.30v1.6M234.63 419.00v-1.6M234.63 221.30v1.6M239.93 419.00v-1.6M239.93 221.30v1.6M244.41 419.00v-1.6M244.41 221.30v1.6M248.29 419.00v-1.6M248.29 221.30v1.6M251.71 419.00v-1.6M251.71 221.30v1.6M254.77 419.00v-2.7M254.77 221.30v2.7M274.92 419.00v-1.6M274.92 221.30v1.6M286.71 419.00v-1.6M286.71 221.30v1.6M295.07 419.00v-1.6M295.07 221.30v1.6M301.55 419.00v-1.6M301.55 221.30v1.6M306.85 419.00v-1.6M306.85 221.30v1.6M311.33 419.00v-1.6M311.33 221.30v1.6M315.21 419.00v-1.6M315.21 221.30v1.6M318.64 419.00v-1.6M318.64 221.30v1.6M54.00 419.00h2.7M321.70 419.00h-2.7M54.00 320.15h2.7M321.70 320.15h-2.7M54.00 221.30h2.7M321.70 221.30h-2.7" stroke="#262626" stroke-width="0.8" fill="none"/>
<rect x="54.00" y="221.30" width="267.70" height="197.70" fill="none" stroke="#262626" stroke-width="0.8"/>
<text x="49.00" y="423.50" text-anchor="end" font-size="12.5" fill="#262626">0</text>
<text x="49.00" y="324.65" text-anchor="end" font-size="12.5" fill="#262626">45</text>
<text x="49.00" y="225.80" text-anchor="end" font-size="12.5" fill="#262626">90</text>
<text x="55.00" y="439.70" text-anchor="middle" font-size="12.5" fill="#262626">10<tspan dy="-6.9" dx="0.6" font-size="9">0</tspan></text>
<text x="121.92" y="439.70" text-anchor="middle" font-size="12.5" fill="#262626">10<tspan dy="-6.9" dx="0.6" font-size="9">1</tspan></text>
<text x="188.85" y="439.70" text-anchor="middle" font-size="12.5" fill="#262626">10<tspan dy="-6.9" dx="0.6" font-size="9">2</tspan></text>
<text x="255.77" y="439.70" text-anchor="middle" font-size="12.5" fill="#262626">10<tspan dy="-6.9" dx="0.6" font-size="9">3</tspan></text>
<text x="322.70" y="439.70" text-anchor="middle" font-size="12.5" fill="#262626">10<tspan dy="-6.9" dx="0.6" font-size="9">4</tspan></text>
<text x="187.85" y="458.00" text-anchor="middle" font-size="13.7" fill="#262626">Period (s)</text>
<path d="M427.66 198.50v-1.6M427.66 0.30v1.6M439.46 198.50v-1.6M439.46 0.30v1.6M447.82 198.50v-1.6M447.82 0.30v1.6M454.31 198.50v-1.6M454.31 0.30v1.6M459.62 198.50v-1.6M459.62 0.30v1.6M464.10 198.50v-1.6M464.10 0.30v1.6M467.98 198.50v-1.6M467.98 0.30v1.6M471.41 198.50v-1.6M471.41 0.30v1.6M474.48 198.50v-2.7M474.48 0.30v2.7M494.64 198.50v-1.6M494.64 0.30v1.6M506.43 198.50v-1.6M506.43 0.30v1.6M514.80 198.50v-1.6M514.80 0.30v1.6M521.29 198.50v-1.6M521.29 0.30v1.6M526.59 198.50v-1.6M526.59 0.30v1.6M531.08 198.50v-1.6M531.08 0.30v1.6M534.96 198.50v-1.6M534.96 0.30v1.6M538.39 198.50v-1.6M538.39 0.30v1.6M541.45 198.50v-2.7M541.45 0.30v2.7M561.61 198.50v-1.6M561.61 0.30v1.6M573.41 198.50v-1.6M573.41 0.30v1.6M581.77 198.50v-1.6M581.77 0.30v1.6M588.26 198.50v-1.6M588.26 0.30v1.6M593.57 198.50v-1.6M593.57 0.30v1.6M598.05 198.50v-1.6M598.05 0.30v1.6M601.93 198.50v-1.6M601.93 0.30v1.6M605.36 198.50v-1.6M605.36 0.30v1.6M608.42 198.50v-2.7M608.42 0.30v2.7M628.59 198.50v-1.6M628.59 0.30v1.6M640.38 198.50v-1.6M640.38 0.30v1.6M648.75 198.50v-1.6M648.75 0.30v1.6M655.24 198.50v-1.6M655.24 0.30v1.6M660.54 198.50v-1.6M660.54 0.30v1.6M665.03 198.50v-1.6M665.03 0.30v1.6M668.91 198.50v-1.6M668.91 0.30v1.6M672.34 198.50v-1.6M672.34 0.30v1.6M407.50 198.50h2.7M675.40 198.50h-2.7M407.50 174.41h1.6M675.40 174.41h-1.6M407.50 160.32h1.6M675.40 160.32h-1.6M407.50 150.33h1.6M675.40 150.33h-1.6M407.50 142.57h1.6M675.40 142.57h-1.6M407.50 136.24h1.6M675.40 136.24h-1.6M407.50 130.88h1.6M675.40 130.88h-1.6M407.50 126.24h1.6M675.40 126.24h-1.6M407.50 122.15h1.6M675.40 122.15h-1.6M407.50 118.49h2.7M675.40 118.49h-2.7M407.50 94.40h1.6M675.40 94.40h-1.6M407.50 80.31h1.6M675.40 80.31h-1.6M407.50 70.32h1.6M675.40 70.32h-1.6M407.50 62.56h1.6M675.40 62.56h-1.6M407.50 56.23h1.6M675.40 56.23h-1.6M407.50 50.87h1.6M675.40 50.87h-1.6M407.50 46.23h1.6M675.40 46.23h-1.6M407.50 42.14h1.6M675.40 42.14h-1.6M407.50 38.48h2.7M675.40 38.48h-2.7M407.50 14.39h1.6M675.40 14.39h-1.6M407.50 0.30h1.6M675.40 0.30h-1.6" stroke="#262626" stroke-width="0.8" fill="none"/>
<rect x="407.50" y="0.30" width="267.90" height="198.20" fill="none" stroke="#262626" stroke-width="0.8"/>
<text x="401.50" y="204.80" text-anchor="end" font-size="12.5" fill="#262626">10<tspan dy="-6.2" font-size="8.6">-1</tspan></text>
<text x="401.50" y="124.79" text-anchor="end" font-size="12.5" fill="#262626">10<tspan dy="-6.2" font-size="8.6">0</tspan></text>
<text x="401.50" y="44.78" text-anchor="end" font-size="12.5" fill="#262626">10<tspan dy="-6.2" font-size="8.6">1</tspan></text>
<path d="M427.65 419.00v-1.6M427.65 221.30v1.6M439.43 419.00v-1.6M439.43 221.30v1.6M447.79 419.00v-1.6M447.79 221.30v1.6M454.28 419.00v-1.6M454.28 221.30v1.6M459.58 419.00v-1.6M459.58 221.30v1.6M464.06 419.00v-1.6M464.06 221.30v1.6M467.94 419.00v-1.6M467.94 221.30v1.6M471.36 419.00v-1.6M471.36 221.30v1.6M474.43 419.00v-2.7M474.43 221.30v2.7M494.57 419.00v-1.6M494.57 221.30v1.6M506.36 419.00v-1.6M506.36 221.30v1.6M514.72 419.00v-1.6M514.72 221.30v1.6M521.20 419.00v-1.6M521.20 221.30v1.6M526.50 419.00v-1.6M526.50 221.30v1.6M530.98 419.00v-1.6M530.98 221.30v1.6M534.86 419.00v-1.6M534.86 221.30v1.6M538.29 419.00v-1.6M538.29 221.30v1.6M541.35 419.00v-2.7M541.35 221.30v2.7M561.50 419.00v-1.6M561.50 221.30v1.6M573.28 419.00v-1.6M573.28 221.30v1.6M581.64 419.00v-1.6M581.64 221.30v1.6M588.13 419.00v-1.6M588.13 221.30v1.6M593.43 419.00v-1.6M593.43 221.30v1.6M597.91 419.00v-1.6M597.91 221.30v1.6M601.79 419.00v-1.6M601.79 221.30v1.6M605.21 419.00v-1.6M605.21 221.30v1.6M608.28 419.00v-2.7M608.28 221.30v2.7M628.42 419.00v-1.6M628.42 221.30v1.6M640.21 419.00v-1.6M640.21 221.30v1.6M648.57 419.00v-1.6M648.57 221.30v1.6M655.05 419.00v-1.6M655.05 221.30v1.6M660.35 419.00v-1.6M660.35 221.30v1.6M664.83 419.00v-1.6M664.83 221.30v1.6M668.71 419.00v-1.6M668.71 221.30v1.6M672.14 419.00v-1.6M672.14 221.30v1.6M407.50 419.00h2.7M675.20 419.00h-2.7M407.50 320.15h2.7M675.20 320.15h-2.7M407.50 221.30h2.7M675.20 221.30h-2.7" stroke="#262626" stroke-width="0.8" fill="none"/>
<rect x="407.50" y="221.30" width="267.70" height="197.70" fill="none" stroke="#262626" stroke-width="0.8"/>
<text x="402.50" y="423.50" text-anchor="end" font-size="12.5" fill="#262626">0</text>
<text x="402.50" y="324.65" text-anchor="end" font-size="12.5" fill="#262626">45</text>
<text x="402.50" y="225.80" text-anchor="end" font-size="12.5" fill="#262626">90</text>
<text x="408.50" y="439.70" text-anchor="middle" font-size="12.5" fill="#262626">10<tspan dy="-6.9" dx="0.6" font-size="9">0</tspan></text>
<text x="475.43" y="439.70" text-anchor="middle" font-size="12.5" fill="#262626">10<tspan dy="-6.9" dx="0.6" font-size="9">1</tspan></text>
<text x="542.35" y="439.70" text-anchor="middle" font-size="12.5" fill="#262626">10<tspan dy="-6.9" dx="0.6" font-size="9">2</tspan></text>
<text x="609.28" y="439.70" text-anchor="middle" font-size="12.5" fill="#262626">10<tspan dy="-6.9" dx="0.6" font-size="9">3</tspan></text>
<text x="676.20" y="439.70" text-anchor="middle" font-size="12.5" fill="#262626">10<tspan dy="-6.9" dx="0.6" font-size="9">4</tspan></text>
<text x="541.35" y="458.00" text-anchor="middle" font-size="13.7" fill="#262626">Period (s)</text>
<path d="M69.60 666.50v-1.6M69.60 468.50v1.6M81.41 666.50v-1.6M81.41 468.50v1.6M89.80 666.50v-1.6M89.80 468.50v1.6M96.30 666.50v-1.6M96.30 468.50v1.6M101.61 666.50v-1.6M101.61 468.50v1.6M106.11 666.50v-1.6M106.11 468.50v1.6M110.00 666.50v-1.6M110.00 468.50v1.6M113.43 666.50v-1.6M113.43 468.50v1.6M116.50 666.50v-2.7M116.50 468.50v2.7M136.70 666.50v-1.6M136.70 468.50v1.6M148.51 666.50v-1.6M148.51 468.50v1.6M156.90 666.50v-1.6M156.90 468.50v1.6M163.40 666.50v-1.6M163.40 468.50v1.6M168.71 666.50v-1.6M168.71 468.50v1.6M173.21 666.50v-1.6M173.21 468.50v1.6M177.10 666.50v-1.6M177.10 468.50v1.6M180.53 666.50v-1.6M180.53 468.50v1.6M183.60 666.50v-2.7M183.60 468.50v2.7M203.80 666.50v-1.6M203.80 468.50v1.6M215.61 666.50v-1.6M215.61 468.50v1.6M224.00 666.50v-1.6M224.00 468.50v1.6M230.50 666.50v-1.6M230.50 468.50v1.6M235.81 666.50v-1.6M235.81 468.50v1.6M240.31 666.50v-1.6M240.31 468.50v1.6M244.20 666.50v-1.6M244.20 468.50v1.6M247.63 666.50v-1.6M247.63 468.50v1.6M250.70 666.50v-2.7M250.70 468.50v2.7M270.90 666.50v-1.6M270.90 468.50v1.6M282.71 666.50v-1.6M282.71 468.50v1.6M291.10 666.50v-1.6M291.10 468.50v1.6M297.60 666.50v-1.6M297.60 468.50v1.6M302.91 666.50v-1.6M302.91 468.50v1.6M307.41 666.50v-1.6M307.41 468.50v1.6M311.30 666.50v-1.6M311.30 468.50v1.6M314.73 666.50v-1.6M314.73 468.50v1.6M49.40 666.50h2.7M317.80 666.50h-2.7M49.40 655.62h1.6M317.80 655.62h-1.6M49.40 649.25h1.6M317.80 649.25h-1.6M49.40 644.74h1.6M317.80 644.74h-1.6M49.40 641.23h1.6M317.80 641.23h-1.6M49.40 638.37h1.6M317.80 638.37h-1.6M49.40 635.95h1.6M317.80 635.95h-1.6M49.40 633.85h1.6M317.80 633.85h-1.6M49.40 632.00h1.6M317.80 632.00h-1.6M49.40 630.35h2.7M317.80 630.35h-2.7M49.40 619.47h1.6M317.80 619.47h-1.6M49.40 613.10h1.6M317.80 613.10h-1.6M49.40 608.58h1.6M317.80 608.58h-1.6M49.40 605.08h1.6M317.80 605.08h-1.6M49.40 602.22h1.6M317.80 602.22h-1.6M49.40 599.80h1.6M317.80 599.80h-1.6M49.40 597.70h1.6M317.80 597.70h-1.6M49.40 595.85h1.6M317.80 595.85h-1.6M49.40 594.20h2.7M317.80 594.20h-2.7M49.40 583.32h1.6M317.80 583.32h-1.6M49.40 576.95h1.6M317.80 576.95h-1.6M49.40 572.43h1.6M317.80 572.43h-1.6M49.40 568.93h1.6M317.80 568.93h-1.6M49.40 566.07h1.6M317.80 566.07h-1.6M49.40 563.65h1.6M317.80 563.65h-1.6M49.40 561.55h1.6M317.80 561.55h-1.6M49.40 559.70h1.6M317.80 559.70h-1.6M49.40 558.05h2.7M317.80 558.05h-2.7M49.40 547.17h1.6M317.80 547.17h-1.6M49.40 540.80h1.6M317.80 540.80h-1.6M49.40 536.28h1.6M317.80 536.28h-1.6M49.40 532.78h1.6M317.80 532.78h-1.6M49.40 529.92h1.6M317.80 529.92h-1.6M49.40 527.50h1.6M317.80 527.50h-1.6M49.40 525.40h1.6M317.80 525.40h-1.6M49.40 523.55h1.6M317.80 523.55h-1.6M49.40 521.90h2.7M317.80 521.90h-2.7M49.40 511.02h1.6M317.80 511.02h-1.6M49.40 504.65h1.6M317.80 504.65h-1.6M49.40 500.13h1.6M317.80 500.13h-1.6M49.40 496.63h1.6M317.80 496.63h-1.6M49.40 493.77h1.6M317.80 493.77h-1.6M49.40 491.35h1.6M317.80 491.35h-1.6M49.40 489.25h1.6M317.80 489.25h-1.6M49.40 487.40h1.6M317.80 487.40h-1.6M49.40 485.75h2.7M317.80 485.75h-2.7M49.40 474.87h1.6M317.80 474.87h-1.6M49.40 468.50h1.6M317.80 468.50h-1.6" stroke="#262626" stroke-width="0.8" fill="none"/>
<rect x="49.40" y="468.50" width="268.40" height="198.00" fill="none" stroke="#262626" stroke-width="0.8"/>
<text x="43.40" y="672.80" text-anchor="end" font-size="12.5" fill="#262626">10<tspan dy="-6.2" font-size="8.6">-4</tspan></text>
<text x="43.40" y="636.65" text-anchor="end" font-size="12.5" fill="#262626">10<tspan dy="-6.2" font-size="8.6">-3</tspan></text>
<text x="43.40" y="600.50" text-anchor="end" font-size="12.5" fill="#262626">10<tspan dy="-6.2" font-size="8.6">-2</tspan></text>
<text x="43.40" y="564.35" text-anchor="end" font-size="12.5" fill="#262626">10<tspan dy="-6.2" font-size="8.6">-1</tspan></text>
<text x="43.40" y="528.20" text-anchor="end" font-size="12.5" fill="#262626">10<tspan dy="-6.2" font-size="8.6">0</tspan></text>
<text x="43.40" y="492.05" text-anchor="end" font-size="12.5" fill="#262626">10<tspan dy="-6.2" font-size="8.6">1</tspan></text>
<path d="M68.71 888.50v-1.6M68.71 690.00v1.6M80.53 888.50v-1.6M80.53 690.00v1.6M88.91 888.50v-1.6M88.91 690.00v1.6M95.42 888.50v-1.6M95.42 690.00v1.6M100.73 888.50v-1.6M100.73 690.00v1.6M105.23 888.50v-1.6M105.23 690.00v1.6M109.12 888.50v-1.6M109.12 690.00v1.6M112.55 888.50v-1.6M112.55 690.00v1.6M115.62 888.50v-2.7M115.62 690.00v2.7M135.83 888.50v-1.6M135.83 690.00v1.6M147.65 888.50v-1.6M147.65 690.00v1.6M156.04 888.50v-1.6M156.04 690.00v1.6M162.54 888.50v-1.6M162.54 690.00v1.6M167.86 888.50v-1.6M167.86 690.00v1.6M172.35 888.50v-1.6M172.35 690.00v1.6M176.24 888.50v-1.6M176.24 690.00v1.6M179.68 888.50v-1.6M179.68 690.00v1.6M182.75 888.50v-2.7M182.75 690.00v2.7M202.96 888.50v-1.6M202.96 690.00v1.6M214.78 888.50v-1.6M214.78 690.00v1.6M223.16 888.50v-1.6M223.16 690.00v1.6M229.67 888.50v-1.6M229.67 690.00v1.6M234.98 888.50v-1.6M234.98 690.00v1.6M239.48 888.50v-1.6M239.48 690.00v1.6M243.37 888.50v-1.6M243.37 690.00v1.6M246.80 888.50v-1.6M246.80 690.00v1.6M249.88 888.50v-2.7M249.88 690.00v2.7M270.08 888.50v-1.6M270.08 690.00v1.6M281.90 888.50v-1.6M281.90 690.00v1.6M290.29 888.50v-1.6M290.29 690.00v1.6M296.79 888.50v-1.6M296.79 690.00v1.6M302.11 888.50v-1.6M302.11 690.00v1.6M306.60 888.50v-1.6M306.60 690.00v1.6M310.49 888.50v-1.6M310.49 690.00v1.6M313.93 888.50v-1.6M313.93 690.00v1.6M48.50 888.50h2.7M317.00 888.50h-2.7M48.50 863.69h2.7M317.00 863.69h-2.7M48.50 838.88h2.7M317.00 838.88h-2.7M48.50 814.06h2.7M317.00 814.06h-2.7M48.50 789.25h2.7M317.00 789.25h-2.7M48.50 764.44h2.7M317.00 764.44h-2.7M48.50 739.62h2.7M317.00 739.62h-2.7M48.50 714.81h2.7M317.00 714.81h-2.7M48.50 690.00h2.7M317.00 690.00h-2.7" stroke="#262626" stroke-width="0.8" fill="none"/>
<rect x="48.50" y="690.00" width="268.50" height="198.50" fill="none" stroke="#262626" stroke-width="0.8"/>
<text x="43.50" y="893.00" text-anchor="end" font-size="12.5" fill="#262626">-180</text>
<text x="43.50" y="868.19" text-anchor="end" font-size="12.5" fill="#262626">-135</text>
<text x="43.50" y="843.38" text-anchor="end" font-size="12.5" fill="#262626">-90</text>
<text x="43.50" y="818.56" text-anchor="end" font-size="12.5" fill="#262626">-45</text>
<text x="43.50" y="793.75" text-anchor="end" font-size="12.5" fill="#262626">0</text>
<text x="43.50" y="768.94" text-anchor="end" font-size="12.5" fill="#262626">45</text>
<text x="43.50" y="744.12" text-anchor="end" font-size="12.5" fill="#262626">90</text>
<text x="43.50" y="719.31" text-anchor="end" font-size="12.5" fill="#262626">135</text>
<text x="43.50" y="694.50" text-anchor="end" font-size="12.5" fill="#262626">180</text>
<text x="49.50" y="907.00" text-anchor="middle" font-size="12.5" fill="#262626">10<tspan dy="-6.9" dx="0.6" font-size="9">0</tspan></text>
<text x="116.62" y="907.00" text-anchor="middle" font-size="12.5" fill="#262626">10<tspan dy="-6.9" dx="0.6" font-size="9">1</tspan></text>
<text x="183.75" y="907.00" text-anchor="middle" font-size="12.5" fill="#262626">10<tspan dy="-6.9" dx="0.6" font-size="9">2</tspan></text>
<text x="250.88" y="907.00" text-anchor="middle" font-size="12.5" fill="#262626">10<tspan dy="-6.9" dx="0.6" font-size="9">3</tspan></text>
<text x="318.00" y="907.00" text-anchor="middle" font-size="12.5" fill="#262626">10<tspan dy="-6.9" dx="0.6" font-size="9">4</tspan></text>
<text x="182.75" y="925.20" text-anchor="middle" font-size="13.7" fill="#262626">Period (s)</text>
<path d="M422.74 666.50v-1.6M422.74 468.40v1.6M434.59 666.50v-1.6M434.59 468.40v1.6M442.99 666.50v-1.6M442.99 468.40v1.6M449.51 666.50v-1.6M449.51 468.40v1.6M454.83 666.50v-1.6M454.83 468.40v1.6M459.33 666.50v-1.6M459.33 468.40v1.6M463.23 666.50v-1.6M463.23 468.40v1.6M466.67 666.50v-1.6M466.67 468.40v1.6M469.75 666.50v-2.7M469.75 468.40v2.7M489.99 666.50v-1.6M489.99 468.40v1.6M501.84 666.50v-1.6M501.84 468.40v1.6M510.24 666.50v-1.6M510.24 468.40v1.6M516.76 666.50v-1.6M516.76 468.40v1.6M522.08 666.50v-1.6M522.08 468.40v1.6M526.58 666.50v-1.6M526.58 468.40v1.6M530.48 666.50v-1.6M530.48 468.40v1.6M533.92 666.50v-1.6M533.92 468.40v1.6M537.00 666.50v-2.7M537.00 468.40v2.7M557.24 666.50v-1.6M557.24 468.40v1.6M569.09 666.50v-1.6M569.09 468.40v1.6M577.49 666.50v-1.6M577.49 468.40v1.6M584.01 666.50v-1.6M584.01 468.40v1.6M589.33 666.50v-1.6M589.33 468.40v1.6M593.83 666.50v-1.6M593.83 468.40v1.6M597.73 666.50v-1.6M597.73 468.40v1.6M601.17 666.50v-1.6M601.17 468.40v1.6M604.25 666.50v-2.7M604.25 468.40v2.7M624.49 666.50v-1.6M624.49 468.40v1.6M636.34 666.50v-1.6M636.34 468.40v1.6M644.74 666.50v-1.6M644.74 468.40v1.6M651.26 666.50v-1.6M651.26 468.40v1.6M656.58 666.50v-1.6M656.58 468.40v1.6M661.08 666.50v-1.6M661.08 468.40v1.6M664.98 666.50v-1.6M664.98 468.40v1.6M668.42 666.50v-1.6M668.42 468.40v1.6M402.50 666.50h2.7M671.50 666.50h-2.7M402.50 655.61h1.6M671.50 655.61h-1.6M402.50 649.24h1.6M671.50 649.24h-1.6M402.50 644.72h1.6M671.50 644.72h-1.6M402.50 641.22h1.6M671.50 641.22h-1.6M402.50 638.36h1.6M671.50 638.36h-1.6M402.50 635.93h1.6M671.50 635.93h-1.6M402.50 633.84h1.6M671.50 633.84h-1.6M402.50 631.99h1.6M671.50 631.99h-1.6M402.50 630.33h2.7M671.50 630.33h-2.7M402.50 619.44h1.6M671.50 619.44h-1.6M402.50 613.07h1.6M671.50 613.07h-1.6M402.50 608.56h1.6M671.50 608.56h-1.6M402.50 605.05h1.6M671.50 605.05h-1.6M402.50 602.19h1.6M671.50 602.19h-1.6M402.50 599.77h1.6M671.50 599.77h-1.6M402.50 597.67h1.6M671.50 597.67h-1.6M402.50 595.82h1.6M671.50 595.82h-1.6M402.50 594.16h2.7M671.50 594.16h-2.7M402.50 583.27h1.6M671.50 583.27h-1.6M402.50 576.91h1.6M671.50 576.91h-1.6M402.50 572.39h1.6M671.50 572.39h-1.6M402.50 568.88h1.6M671.50 568.88h-1.6M402.50 566.02h1.6M671.50 566.02h-1.6M402.50 563.60h1.6M671.50 563.60h-1.6M402.50 561.50h1.6M671.50 561.50h-1.6M402.50 559.65h1.6M671.50 559.65h-1.6M402.50 557.99h2.7M671.50 557.99h-2.7M402.50 547.11h1.6M671.50 547.11h-1.6M402.50 540.74h1.6M671.50 540.74h-1.6M402.50 536.22h1.6M671.50 536.22h-1.6M402.50 532.71h1.6M671.50 532.71h-1.6M402.50 529.85h1.6M671.50 529.85h-1.6M402.50 527.43h1.6M671.50 527.43h-1.6M402.50 525.33h1.6M671.50 525.33h-1.6M402.50 523.48h1.6M671.50 523.48h-1.6M402.50 521.83h2.7M671.50 521.83h-2.7M402.50 510.94h1.6M671.50 510.94h-1.6M402.50 504.57h1.6M671.50 504.57h-1.6M402.50 500.05h1.6M671.50 500.05h-1.6M402.50 496.54h1.6M671.50 496.54h-1.6M402.50 493.68h1.6M671.50 493.68h-1.6M402.50 491.26h1.6M671.50 491.26h-1.6M402.50 489.16h1.6M671.50 489.16h-1.6M402.50 487.31h1.6M671.50 487.31h-1.6M402.50 485.66h2.7M671.50 485.66h-2.7M402.50 474.77h1.6M671.50 474.77h-1.6M402.50 468.40h1.6M671.50 468.40h-1.6" stroke="#262626" stroke-width="0.8" fill="none"/>
<rect x="402.50" y="468.40" width="269.00" height="198.10" fill="none" stroke="#262626" stroke-width="0.8"/>
<text x="396.50" y="672.80" text-anchor="end" font-size="12.5" fill="#262626">10<tspan dy="-6.2" font-size="8.6">-4</tspan></text>
<text x="396.50" y="636.63" text-anchor="end" font-size="12.5" fill="#262626">10<tspan dy="-6.2" font-size="8.6">-3</tspan></text>
<text x="396.50" y="600.46" text-anchor="end" font-size="12.5" fill="#262626">10<tspan dy="-6.2" font-size="8.6">-2</tspan></text>
<text x="396.50" y="564.29" text-anchor="end" font-size="12.5" fill="#262626">10<tspan dy="-6.2" font-size="8.6">-1</tspan></text>
<text x="396.50" y="528.13" text-anchor="end" font-size="12.5" fill="#262626">10<tspan dy="-6.2" font-size="8.6">0</tspan></text>
<text x="396.50" y="491.96" text-anchor="end" font-size="12.5" fill="#262626">10<tspan dy="-6.2" font-size="8.6">1</tspan></text>
<path d="M421.64 888.50v-1.6M421.64 690.00v1.6M433.49 888.50v-1.6M433.49 690.00v1.6M441.89 888.50v-1.6M441.89 690.00v1.6M448.41 888.50v-1.6M448.41 690.00v1.6M453.73 888.50v-1.6M453.73 690.00v1.6M458.23 888.50v-1.6M458.23 690.00v1.6M462.13 888.50v-1.6M462.13 690.00v1.6M465.57 888.50v-1.6M465.57 690.00v1.6M468.65 888.50v-2.7M468.65 690.00v2.7M488.89 888.50v-1.6M488.89 690.00v1.6M500.74 888.50v-1.6M500.74 690.00v1.6M509.14 888.50v-1.6M509.14 690.00v1.6M515.66 888.50v-1.6M515.66 690.00v1.6M520.98 888.50v-1.6M520.98 690.00v1.6M525.48 888.50v-1.6M525.48 690.00v1.6M529.38 888.50v-1.6M529.38 690.00v1.6M532.82 888.50v-1.6M532.82 690.00v1.6M535.90 888.50v-2.7M535.90 690.00v2.7M556.14 888.50v-1.6M556.14 690.00v1.6M567.99 888.50v-1.6M567.99 690.00v1.6M576.39 888.50v-1.6M576.39 690.00v1.6M582.91 888.50v-1.6M582.91 690.00v1.6M588.23 888.50v-1.6M588.23 690.00v1.6M592.73 888.50v-1.6M592.73 690.00v1.6M596.63 888.50v-1.6M596.63 690.00v1.6M600.07 888.50v-1.6M600.07 690.00v1.6M603.15 888.50v-2.7M603.15 690.00v2.7M623.39 888.50v-1.6M623.39 690.00v1.6M635.24 888.50v-1.6M635.24 690.00v1.6M643.64 888.50v-1.6M643.64 690.00v1.6M650.16 888.50v-1.6M650.16 690.00v1.6M655.48 888.50v-1.6M655.48 690.00v1.6M659.98 888.50v-1.6M659.98 690.00v1.6M663.88 888.50v-1.6M663.88 690.00v1.6M667.32 888.50v-1.6M667.32 690.00v1.6M401.40 888.50h2.7M670.40 888.50h-2.7M401.40 863.69h2.7M670.40 863.69h-2.7M401.40 838.88h2.7M670.40 838.88h-2.7M401.40 814.06h2.7M670.40 814.06h-2.7M401.40 789.25h2.7M670.40 789.25h-2.7M401.40 764.44h2.7M670.40 764.44h-2.7M401.40 739.62h2.7M670.40 739.62h-2.7M401.40 714.81h2.7M670.40 714.81h-2.7M401.40 690.00h2.7M670.40 690.00h-2.7" stroke="#262626" stroke-width="0.8" fill="none"/>
<rect x="401.40" y="690.00" width="269.00" height="198.50" fill="none" stroke="#262626" stroke-width="0.8"/>
<text x="396.40" y="893.00" text-anchor="end" font-size="12.5" fill="#262626">-180</text>
<text x="396.40" y="868.19" text-anchor="end" font-size="12.5" fill="#262626">-135</text>
<text x="396.40" y="843.38" text-anchor="end" font-size="12.5" fill="#262626">-90</text>
<text x="396.40" y="818.56" text-anchor="end" font-size="12.5" fill="#262626">-45</text>
<text x="396.40" y="793.75" text-anchor="end" font-size="12.5" fill="#262626">0</text>
<text x="396.40" y="768.94" text-anchor="end" font-size="12.5" fill="#262626">45</text>
<text x="396.40" y="744.12" text-anchor="end" font-size="12.5" fill="#262626">90</text>
<text x="396.40" y="719.31" text-anchor="end" font-size="12.5" fill="#262626">135</text>
<text x="396.40" y="694.50" text-anchor="end" font-size="12.5" fill="#262626">180</text>
<text x="402.40" y="907.00" text-anchor="middle" font-size="12.5" fill="#262626">10<tspan dy="-6.9" dx="0.6" font-size="9">0</tspan></text>
<text x="469.65" y="907.00" text-anchor="middle" font-size="12.5" fill="#262626">10<tspan dy="-6.9" dx="0.6" font-size="9">1</tspan></text>
<text x="536.90" y="907.00" text-anchor="middle" font-size="12.5" fill="#262626">10<tspan dy="-6.9" dx="0.6" font-size="9">2</tspan></text>
<text x="604.15" y="907.00" text-anchor="middle" font-size="12.5" fill="#262626">10<tspan dy="-6.9" dx="0.6" font-size="9">3</tspan></text>
<text x="671.40" y="907.00" text-anchor="middle" font-size="12.5" fill="#262626">10<tspan dy="-6.9" dx="0.6" font-size="9">4</tspan></text>
<text x="535.90" y="925.20" text-anchor="middle" font-size="13.7" fill="#262626">Period (s)</text>
<text transform="translate(14.30,99.40) rotate(-90)" text-anchor="middle" font-size="14" fill="#262626"><tspan font-family="Liberation Serif" font-style="italic" font-size="13.5">ρ</tspan><tspan dy="7.6" dx="0.2" font-size="10.5">a</tspan><tspan dy="-7.6" dx="0.8"> (Ω.m)</tspan></text>
<text transform="translate(367.80,99.40) rotate(-90)" text-anchor="middle" font-size="14" fill="#262626"><tspan font-family="Liberation Serif" font-style="italic" font-size="13.5">ρ</tspan><tspan dy="7.6" dx="0.2" font-size="10.5">a</tspan><tspan dy="-7.6" dx="0.8"> (Ω.m)</tspan></text>
<text transform="translate(9.70,567.50) rotate(-90)" text-anchor="middle" font-size="14" fill="#262626"><tspan font-family="Liberation Serif" font-style="italic" font-size="13.5">ρ</tspan><tspan dy="7.6" dx="0.2" font-size="10.5">a</tspan><tspan dy="-7.6" dx="0.8"> (Ω.m)</tspan></text>
<text transform="translate(362.80,567.45) rotate(-90)" text-anchor="middle" font-size="14" fill="#262626"><tspan font-family="Liberation Serif" font-style="italic" font-size="13.5">ρ</tspan><tspan dy="7.6" dx="0.2" font-size="10.5">a</tspan><tspan dy="-7.6" dx="0.8"> (Ω.m)</tspan></text>
<text transform="translate(29.50,320.15) rotate(-90)" text-anchor="middle" font-size="14" fill="#262626"><tspan font-family="Liberation Serif" font-style="italic" font-size="13">ϕ</tspan> (°)</text>
<text transform="translate(383.00,320.15) rotate(-90)" text-anchor="middle" font-size="14" fill="#262626"><tspan font-family="Liberation Serif" font-style="italic" font-size="13">ϕ</tspan> (°)</text>
<text transform="translate(13.10,789.25) rotate(-90)" text-anchor="middle" font-size="14" fill="#262626"><tspan font-family="Liberation Serif" font-style="italic" font-size="13">ϕ</tspan> (°)</text>
<text transform="translate(366.00,789.25) rotate(-90)" text-anchor="middle" font-size="14" fill="#262626"><tspan font-family="Liberation Serif" font-style="italic" font-size="13">ϕ</tspan> (°)</text>
<rect x="58" y="9.7" width="61.40" height="20.40" fill="#fff" stroke="#262626" stroke-width="0.8"/>
<circle cx="79.9" cy="20.20" r="1.6" fill="none" stroke="#ff0000" stroke-width="0.9"/>
<text x="95.5" y="22.50" fill="#262626"><tspan font-family="Liberation Serif" font-style="italic" font-size="12">ρ</tspan><tspan dy="4.2" dx="0.3" font-size="9" stroke="#262626" stroke-width="0.3">xy</tspan></text>
<rect x="57.2" y="229.6" width="62.60" height="20.40" fill="#fff" stroke="#262626" stroke-width="0.8"/>
<circle cx="79.2" cy="240.10" r="1.6" fill="none" stroke="#ff0000" stroke-width="0.9"/>
<text x="95.0" y="242.40" fill="#262626"><tspan font-family="Liberation Serif" font-style="italic" font-size="12">ϕ</tspan><tspan dy="4.2" dx="0.3" font-size="9" stroke="#262626" stroke-width="0.3">xy</tspan></text>
<rect x="412.2" y="10.7" width="61.60" height="20.20" fill="#fff" stroke="#262626" stroke-width="0.8"/>
<circle cx="434.09999999999997" cy="21.10" r="1.6" fill="none" stroke="#0000ff" stroke-width="0.9"/>
<text x="449.5" y="23.40" fill="#262626"><tspan font-family="Liberation Serif" font-style="italic" font-size="12">ρ</tspan><tspan dy="4.2" dx="0.3" font-size="9" stroke="#262626" stroke-width="0.3">yx</tspan></text>
<rect x="410.4" y="228.7" width="62.30" height="19.80" fill="#fff" stroke="#262626" stroke-width="0.8"/>
<circle cx="433.0" cy="238.90" r="1.6" fill="none" stroke="#0000ff" stroke-width="0.9"/>
<text x="448.4" y="241.20" fill="#262626"><tspan font-family="Liberation Serif" font-style="italic" font-size="12">ϕ</tspan><tspan dy="4.2" dx="0.3" font-size="9" stroke="#262626" stroke-width="0.3">yx</tspan></text>
<rect x="61.1" y="486.1" width="48.90" height="21.20" fill="#fff" stroke="#262626" stroke-width="0.8"/>
<circle cx="76.9" cy="497.00" r="1.6" fill="none" stroke="#008000" stroke-width="0.9"/>
<text x="92.2" y="499.30" fill="#262626"><tspan font-family="Liberation Serif" font-style="italic" font-size="12">ρ</tspan><tspan dy="4.2" dx="0.3" font-size="9" stroke="#262626" stroke-width="0.3">xx</tspan></text>
<rect x="57.1" y="701.5" width="50.20" height="21.70" fill="#fff" stroke="#262626" stroke-width="0.8"/>
<circle cx="73.1" cy="712.65" r="1.6" fill="none" stroke="#008000" stroke-width="0.9"/>
<text x="88.5" y="714.95" fill="#262626"><tspan font-family="Liberation Serif" font-style="italic" font-size="12">ϕ</tspan><tspan dy="4.2" dx="0.3" font-size="9" stroke="#262626" stroke-width="0.3">xx</tspan></text>
<rect x="414.4" y="484.7" width="48.80" height="21.60" fill="#fff" stroke="#262626" stroke-width="0.8"/>
<circle cx="430.2" cy="495.80" r="1.6" fill="none" stroke="#000000" stroke-width="0.9"/>
<text x="445.4" y="498.10" fill="#262626"><tspan font-family="Liberation Serif" font-style="italic" font-size="12">ρ</tspan><tspan dy="4.2" dx="0.3" font-size="9" stroke="#262626" stroke-width="0.3">yy</tspan></text>
<rect x="412.9" y="702.3" width="49.70" height="21.20" fill="#fff" stroke="#262626" stroke-width="0.8"/>
<circle cx="428.7" cy="713.20" r="1.6" fill="none" stroke="#000000" stroke-width="0.9"/>
<text x="444.5" y="715.50" fill="#262626"><tspan font-family="Liberation Serif" font-style="italic" font-size="12">ϕ</tspan><tspan dy="4.2" dx="0.3" font-size="9" stroke="#262626" stroke-width="0.3">yy</tspan></text>
</svg></body></html>
